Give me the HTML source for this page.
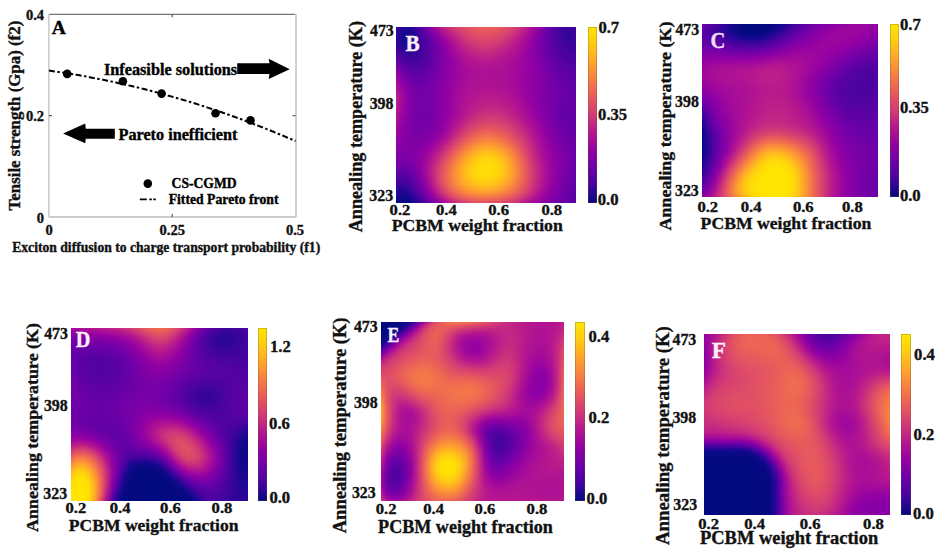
<!DOCTYPE html>
<html><head><meta charset="utf-8"><style>
html,body{margin:0;padding:0;background:#fff;}
body{width:943px;height:556px;position:relative;overflow:hidden;}
.hm{position:absolute;overflow:hidden;}
.hm i{display:block;height:var(--rh);}
.cb{position:absolute;box-shadow:inset 0 0 0 1px rgba(90,90,50,.3);}
svg{position:absolute;left:0;top:0;}
text{font-family:"Liberation Serif",serif;font-weight:bold;stroke-width:0.35px}
</style></head><body>
<div class="hm" style="left:396px;top:27px;width:180px;height:176px;--rh:2px"><i style="background:linear-gradient(90deg,#48039f,#230696,#1d0792,#31059a,#5002a1,#6f00a8,#8f00a4,#ab1095,#c02386,#cd347a,#d64071,#dc496a,#e25164,#e6575e,#e95d5a,#ea5f59,#ea5e59,#e8595d,#e25263,#dc486b,#d33b75,#c52a81,#b6178e,#a1099b,#8a00a5,#7200a7,#5c01a4,#4a03a0,#3b049c,#36049b,#42039e)"></i><i style="background:linear-gradient(90deg,#41039d,#1e0793,#1a0790,#2c0598,#4c02a0,#6800a7,#8700a5,#a20a9a,#b81a8c,#c72c80,#d23a76,#d9446e,#df4d67,#e45461,#e7595d,#e85b5b,#e85a5c,#e55560,#df4d66,#d8436f,#cf3679,#c12585,#b11491,#9d079e,#8600a5,#6f00a8,#5a01a4,#49039f,#3a049c,#34049a,#40039d)"></i><i style="background:linear-gradient(90deg,#3a049c,#1b0791,#17078e,#280597,#48039f,#6301a6,#7f00a6,#9a059f,#b11392,#c12485,#cd347a,#d64071,#dc496a,#e15064,#e55560,#e6575e,#e55660,#e15064,#dc496a,#d53e73,#ca307d,#bd2088,#ad1194,#9904a0,#8300a6,#6d00a8,#5901a3,#48039f,#39049b,#34049a,#3e049d)"></i><i style="background:linear-gradient(90deg,#34049a,#19078f,#16088d,#250697,#45039e,#5e01a4,#7900a7,#9301a3,#aa0f96,#bb1e8a,#c82e7f,#d33b75,#da456d,#df4d67,#e25263,#e35361,#e25163,#de4c67,#d9446e,#d23a76,#c62c80,#b91c8b,#a90e96,#9602a2,#8100a6,#6c00a8,#5802a3,#48039f,#39049b,#34049a,#3d049c)"></i><i style="background:linear-gradient(90deg,#300599,#18078f,#15088d,#240696,#41039d,#5a01a3,#7300a7,#8d00a5,#a30b9a,#b6178e,#c42882,#cf3679,#d74170,#dc496a,#df4e66,#e14f65,#df4d67,#db486b,#d64071,#ce357a,#c32783,#b6178e,#a60c98,#9301a3,#7f00a6,#6a00a8,#5702a3,#48039f,#3a049c,#34049a,#3c049c)"></i><i style="background:linear-gradient(90deg,#2f0599,#18078f,#15088d,#220696,#3e049d,#5602a3,#6f00a8,#8700a5,#9d079d,#b11392,#bf2386,#cb317c,#d43d74,#d9456d,#dd4a69,#de4b68,#dc496a,#d8436e,#d33b75,#ca307d,#bf2386,#b31590,#a30a9a,#9100a4,#7d00a6,#6900a7,#5702a3,#48039f,#3b049c,#35049a,#3c049c)"></i><i style="background:linear-gradient(90deg,#2f0599,#190790,#17078e,#220696,#3c049c,#5302a2,#6b00a8,#8200a6,#9904a0,#ac1095,#bb1e8a,#c72d7f,#d13977,#d74171,#da456d,#db476c,#d9446e,#d53f72,#cf3778,#c62c80,#bc1f89,#b01392,#a0099c,#8f00a4,#7c00a6,#6900a7,#5702a3,#49039f,#3c049c,#36049b,#3d049c)"></i><i style="background:linear-gradient(90deg,#31059a,#1c0792,#18078f,#230696,#3a049c,#5102a1,#6700a7,#7e00a6,#9401a3,#a70d97,#b8198d,#c42882,#cd347a,#d43d74,#d74170,#d8426f,#d64071,#d33b75,#cc327b,#c32783,#b91b8b,#ad1194,#9e079d,#8d00a4,#7b00a6,#6900a7,#5802a3,#4a039f,#3e049d,#38049b,#3e049d)"></i><i style="background:linear-gradient(90deg,#35049a,#1f0694,#1b0791,#240697,#3a049c,#5002a1,#6501a6,#7b00a6,#9000a4,#a30b9a,#b41590,#c02485,#ca307d,#d13877,#d43d74,#d53e73,#d33c75,#cf3679,#c82e7e,#c02486,#b7188e,#aa0f96,#9c069e,#8c00a5,#7a00a6,#6900a7,#5901a3,#4b02a0,#40039d,#3a049c,#3f039d)"></i><i style="background:linear-gradient(90deg,#3a049c,#230696,#1e0793,#260697,#3a049c,#4f02a1,#6301a6,#7800a7,#8d00a5,#a0099c,#b01392,#bd2088,#c62c80,#cd347a,#d13977,#d23a76,#d03778,#cb327c,#c52a81,#bd2088,#b41590,#a80e97,#9a059f,#8b00a5,#7a00a6,#6a00a7,#5a01a3,#4c02a0,#43039e,#3c049c,#41039d)"></i><i style="background:linear-gradient(90deg,#40039d,#290598,#220696,#290598,#3b049c,#4e02a1,#6101a5,#7600a7,#8a00a5,#9d079e,#ad1194,#ba1c8b,#c32783,#c92f7d,#cd347a,#ce3579,#cc337b,#c82d7f,#c22684,#ba1c8b,#b11491,#a60c98,#9905a0,#8b00a5,#7a00a6,#6a00a8,#5b01a4,#4e02a0,#45039e,#3f039d,#43039e)"></i><i style="background:linear-gradient(90deg,#46039f,#2f0599,#270697,#2c0598,#3d049c,#4e02a1,#6101a5,#7400a7,#8800a5,#9a059f,#aa0f96,#b7188d,#c02386,#c62b80,#ca2f7d,#ca317d,#c92e7e,#c42982,#bf2287,#b8198d,#af1293,#a40b99,#9804a0,#8a00a5,#7b00a6,#6b00a8,#5c01a4,#5002a1,#47039f,#42039d,#45039e)"></i><i style="background:linear-gradient(90deg,#4b02a0,#36049b,#2c0598,#300599,#3f039d,#4f02a1,#6001a5,#7300a7,#8600a5,#9804a1,#a70d98,#b41590,#bd1f88,#c32783,#c62b80,#c72c80,#c52a81,#c12584,#bc1e89,#b5168f,#ad1194,#a30a9a,#9703a1,#8a00a5,#7b00a6,#6c00a8,#5e01a4,#5102a1,#49039f,#45039e,#46039f)"></i><i style="background:linear-gradient(90deg,#5102a1,#3e049c,#32059a,#34049a,#42039d,#5002a1,#6001a5,#7300a7,#8500a5,#9602a2,#a40b99,#b11392,#ba1c8b,#bf2386,#c22783,#c32883,#c22684,#be2187,#b91b8b,#b31590,#ab0f95,#a10a9b,#9703a1,#8a00a5,#7c00a6,#6e00a8,#5f01a5,#5302a2,#4b02a0,#47039f,#48039f)"></i><i style="background:linear-gradient(90deg,#5702a3,#45039e,#38049b,#39049b,#45039e,#5102a1,#6101a5,#7200a7,#8400a6,#9401a3,#a20a9a,#ae1293,#b7188d,#bc1f89,#bf2386,#c02486,#bf2287,#bb1e8a,#b7188e,#b01392,#a90e96,#a0099b,#9603a1,#8a00a5,#7d00a6,#6f00a8,#6101a5,#5602a2,#4d02a0,#49039f,#4a039f)"></i><i style="background:linear-gradient(90deg,#5e01a4,#4a03a0,#3f039d,#3e049d,#47039f,#5202a2,#6201a5,#7300a7,#8300a6,#9301a3,#a0099c,#ab1095,#b41590,#b91b8b,#bc1f89,#bd2088,#bc1e89,#b91a8c,#b4168f,#ae1293,#a70d97,#9f089c,#9603a2,#8b00a5,#7e00a6,#7000a8,#6301a6,#5802a3,#4f02a1,#4b02a0,#4c02a0)"></i><i style="background:linear-gradient(90deg,#6401a6,#4f02a1,#45039e,#43039e,#49039f,#5402a2,#6301a6,#7300a7,#8300a6,#9200a4,#9e089d,#a90e96,#b11491,#b7188e,#b91b8b,#ba1c8b,#b91b8c,#b6178e,#b21491,#ac1194,#a60d98,#9f089c,#9602a2,#8b00a5,#7f00a6,#7200a7,#6501a6,#5a01a3,#5102a1,#4d02a0,#4e02a0)"></i><i style="background:linear-gradient(90deg,#6b00a8,#5502a2,#49039f,#47039f,#4c02a0,#5602a3,#6401a6,#7400a7,#8300a6,#9100a4,#9d079d,#a70d97,#af1293,#b41590,#b7188e,#b7198d,#b6188e,#b41590,#b01392,#ab0f95,#a50c99,#9e089d,#9602a2,#8c00a5,#8000a6,#7300a7,#6700a7,#5c01a4,#5402a2,#4f02a1,#4f02a1)"></i><i style="background:linear-gradient(90deg,#7200a7,#5b01a4,#4e02a0,#4b03a0,#4f02a1,#5801a3,#6600a6,#7500a7,#8300a6,#9100a4,#9c069e,#a50c98,#ac1194,#b11491,#b41590,#b5168f,#b41590,#b11491,#ae1193,#a90f96,#a40b99,#9e079d,#9602a2,#8c00a5,#8100a6,#7400a7,#6900a7,#5e01a5,#5602a2,#5102a1,#5102a1)"></i><i style="background:linear-gradient(90deg,#7900a7,#6001a5,#5302a2,#4e02a1,#5102a1,#5a01a4,#6700a7,#7600a7,#8400a6,#9100a4,#9b069e,#a40b99,#ab0f95,#af1293,#b21491,#b21491,#b21491,#af1292,#ac1094,#a80e97,#a30b9a,#9d079d,#9602a2,#8d00a5,#8100a6,#7600a7,#6b00a8,#6001a5,#5801a3,#5402a2,#5302a2)"></i><i style="background:linear-gradient(90deg,#8000a6,#6600a7,#5702a3,#5202a1,#5402a2,#5d01a4,#6900a7,#7700a7,#8400a5,#9100a4,#9b059f,#a30b9a,#a90e96,#ad1194,#b01392,#b01392,#b01392,#ae1193,#ab1095,#a70d97,#a20a9a,#9d079e,#9602a2,#8d00a5,#8200a6,#7700a7,#6c00a8,#6201a6,#5a01a4,#5602a2,#5502a2)"></i><i style="background:linear-gradient(90deg,#8700a5,#6c00a8,#5c01a4,#5602a2,#5702a3,#5f01a5,#6b00a8,#7800a7,#8500a5,#9100a4,#9a059f,#a20a9a,#a80e97,#ac1095,#ae1293,#af1293,#ae1293,#ac1194,#aa0f96,#a60d98,#a20a9a,#9d079e,#9602a2,#8d00a4,#8300a6,#7800a7,#6e00a8,#6401a6,#5c01a4,#5802a3,#5702a3)"></i><i style="background:linear-gradient(90deg,#8e00a4,#7200a7,#6101a5,#5a01a3,#5b01a4,#6201a5,#6d00a8,#7900a7,#8600a5,#9100a4,#9a059f,#a20a9b,#a70d97,#ab1095,#ad1194,#ad1194,#ad1194,#ac1095,#a90f96,#a60c98,#a20a9b,#9c079e,#9602a2,#8d00a4,#8400a6,#7900a7,#6f00a8,#6600a6,#5e01a5,#5a01a3,#5901a3)"></i><i style="background:linear-gradient(90deg,#9401a3,#7700a7,#6500a6,#5d01a4,#5e01a4,#6401a6,#6e00a8,#7a00a6,#8600a5,#9200a4,#9a059f,#a20a9b,#a70d97,#aa0f95,#ac1094,#ad1194,#ac1194,#ab1095,#a90e96,#a60c98,#a10a9b,#9c069e,#9602a2,#8e00a4,#8400a5,#7a00a7,#7000a8,#6700a7,#6001a5,#5c01a4,#5a01a4)"></i><i style="background:linear-gradient(90deg,#9a059f,#7d00a6,#6a00a8,#6101a5,#6101a5,#6600a7,#7000a8,#7b00a6,#8700a5,#9200a4,#9b069f,#a20a9a,#a70d97,#aa0f95,#ac1094,#ac1194,#ac1094,#ab1095,#a90e96,#a60c98,#a10a9b,#9c069e,#9602a2,#8e00a4,#8400a5,#7b00a6,#7100a7,#6900a7,#6201a5,#5d01a4,#5c01a4)"></i><i style="background:linear-gradient(90deg,#9f089c,#8200a6,#6f00a8,#6501a6,#6301a6,#6800a7,#7100a7,#7c00a6,#8800a5,#9300a4,#9b069e,#a20a9a,#a70d97,#aa0f95,#ac1094,#ac1194,#ac1094,#ab1095,#a90e96,#a60c98,#a20a9b,#9c069e,#9502a2,#8d00a4,#8400a5,#7b00a6,#7200a7,#6a00a8,#6401a6,#5f01a5,#5d01a4)"></i><i style="background:linear-gradient(90deg,#a50c99,#8700a5,#7300a7,#6800a7,#6600a7,#6a00a8,#7300a7,#7d00a6,#8900a5,#9301a3,#9c069e,#a30b9a,#a80e97,#ab1095,#ac1194,#ad1194,#ad1194,#ac1095,#a90f96,#a60d98,#a20a9b,#9c069e,#9502a2,#8d00a4,#8500a5,#7c00a6,#7300a7,#6b00a8,#6501a6,#6101a5,#5f01a5)"></i><i style="background:linear-gradient(90deg,#a90f96,#8b00a5,#7700a7,#6c00a8,#6900a7,#6c00a8,#7400a7,#7e00a6,#8900a5,#9401a3,#9d079e,#a40b99,#a90e96,#ac1095,#ad1194,#ae1193,#ad1194,#ac1194,#aa0f95,#a70d98,#a20a9a,#9c069e,#9502a2,#8d00a4,#8500a5,#7c00a6,#7400a7,#6c00a8,#6600a7,#6201a5,#6001a5)"></i><i style="background:linear-gradient(90deg,#ae1293,#9000a4,#7a00a6,#6f00a8,#6b00a8,#6e00a8,#7500a7,#7f00a6,#8a00a5,#9502a2,#9e079d,#a50c99,#aa0f96,#ad1194,#ae1293,#af1293,#ae1293,#ad1194,#ab1095,#a80e97,#a30a9a,#9c069e,#9502a2,#8d00a5,#8500a5,#7c00a6,#7400a7,#6d00a8,#6700a7,#6301a6,#6101a5)"></i><i style="background:linear-gradient(90deg,#b21491,#9301a3,#7e00a6,#7200a7,#6d00a8,#7000a8,#7600a7,#8000a6,#8b00a5,#9502a2,#9e089d,#a60c98,#ab1095,#ae1293,#af1292,#b01392,#af1392,#ae1293,#ac1094,#a80e97,#a30b9a,#9d079e,#9502a2,#8d00a5,#8500a5,#7c00a6,#7500a7,#6e00a8,#6800a7,#6401a6,#6201a5)"></i><i style="background:linear-gradient(90deg,#b5168f,#9703a1,#8100a6,#7400a7,#6f00a8,#7100a7,#7700a7,#8000a6,#8b00a5,#9602a2,#9f089c,#a70d98,#ac1094,#af1292,#b11392,#b11491,#b11391,#b01392,#ad1194,#aa0f96,#a40b99,#9d079d,#9502a2,#8d00a5,#8500a5,#7c00a6,#7500a7,#6e00a8,#6900a7,#6501a6,#6301a6)"></i><i style="background:linear-gradient(90deg,#b81a8d,#9905a0,#8300a6,#7600a7,#7100a7,#7200a7,#7800a7,#8100a6,#8c00a5,#9603a1,#a0099c,#a80e97,#ad1194,#b01392,#b21491,#b31490,#b21491,#b11491,#af1293,#ab1095,#a50c99,#9e079d,#9602a2,#8d00a5,#8500a5,#7c00a6,#7500a7,#6f00a8,#6900a7,#6600a6,#6301a6)"></i><i style="background:linear-gradient(90deg,#ba1c8b,#9c069e,#8500a5,#7800a7,#7200a7,#7300a7,#7800a7,#8100a6,#8c00a5,#9703a1,#a0099b,#a80e97,#ae1293,#b21491,#b41590,#b4158f,#b41590,#b31590,#b01392,#ac1094,#a60c98,#9e089d,#9603a2,#8d00a4,#8500a5,#7d00a6,#7500a7,#6f00a8,#6a00a7,#6600a6,#6401a6)"></i><i style="background:linear-gradient(90deg,#bc1e89,#9d079d,#8700a5,#7900a7,#7300a7,#7400a7,#7900a7,#8200a6,#8c00a5,#9703a1,#a1099b,#a90f96,#af1293,#b31590,#b5168f,#b6178e,#b6178e,#b5168f,#b21491,#ad1194,#a70d97,#9f089c,#9703a1,#8e00a4,#8500a5,#7d00a6,#7500a7,#6f00a8,#6a00a7,#6600a7,#6401a6)"></i><i style="background:linear-gradient(90deg,#bd1f88,#9f089c,#8800a5,#7a00a7,#7400a7,#7400a7,#7900a7,#8200a6,#8c00a5,#9703a1,#a1099b,#aa0f96,#b01392,#b41590,#b6188e,#b7198d,#b7198d,#b6178e,#b41590,#af1293,#a80e97,#a0099c,#9703a1,#8e00a4,#8500a5,#7d00a6,#7500a7,#6f00a8,#6a00a7,#6600a7,#6401a6)"></i><i style="background:linear-gradient(90deg,#bd2088,#9f089c,#8900a5,#7b00a6,#7400a7,#7400a7,#7900a7,#8200a6,#8c00a5,#9703a1,#a10a9b,#aa0f96,#b11392,#b5168f,#b7198d,#b91a8c,#b91b8c,#b8198d,#b5168f,#b11392,#aa0f96,#a10a9b,#9804a0,#8f00a4,#8500a5,#7d00a6,#7500a7,#6f00a8,#6900a7,#6600a6,#6401a6)"></i><i style="background:linear-gradient(90deg,#bd2088,#a0099c,#8900a5,#7b00a6,#7400a7,#7400a7,#7900a7,#8200a6,#8c00a5,#9703a1,#a10a9b,#aa0f95,#b21491,#b6188e,#b91b8c,#ba1c8b,#ba1d8a,#b91b8b,#b7188d,#b21491,#ab1095,#a30a9a,#9905a0,#9000a4,#8600a5,#7d00a6,#7500a7,#6e00a8,#6900a7,#6600a6,#6501a6)"></i><i style="background:linear-gradient(90deg,#bd2088,#a0099c,#8900a5,#7b00a6,#7400a7,#7400a7,#7900a7,#8100a6,#8c00a5,#9703a1,#a10a9b,#ab1095,#b21491,#b7198d,#ba1d8a,#bc1f89,#bc1f89,#bb1e8a,#b91b8c,#b41590,#ad1194,#a40b99,#9a059f,#9100a4,#8600a5,#7d00a6,#7500a7,#6e00a8,#6900a7,#6501a6,#6401a6)"></i><i style="background:linear-gradient(90deg,#bd2088,#9f089c,#8900a5,#7b00a6,#7400a7,#7400a7,#7900a7,#8100a6,#8c00a5,#9703a1,#a20a9b,#ab1095,#b31590,#b81a8c,#bc1e89,#be2187,#be2187,#bd2088,#ba1d8a,#b6178e,#af1293,#a60c98,#9c069e,#9200a4,#8700a5,#7d00a6,#7500a7,#6e00a8,#6800a7,#6501a6,#6401a6)"></i><i style="background:linear-gradient(90deg,#bc1e89,#9e089d,#8900a5,#7a00a6,#7400a7,#7400a7,#7900a7,#8100a6,#8c00a5,#9703a1,#a20a9a,#ac1094,#b4168f,#ba1c8b,#be2188,#c02386,#c02485,#bf2386,#bc1f89,#b8198d,#b11392,#a70d97,#9d079d,#9301a3,#8800a5,#7e00a6,#7500a7,#6d00a8,#6700a7,#6401a6,#6401a6)"></i><i style="background:linear-gradient(90deg,#bb1d8a,#9e079d,#8800a5,#7a00a7,#7400a7,#7400a7,#7900a7,#8100a6,#8c00a5,#9703a1,#a20a9a,#ad1194,#b6178e,#bb1e89,#c02386,#c22684,#c32783,#c22684,#bf2287,#ba1c8b,#b31590,#a90f96,#9f089c,#9401a3,#8900a5,#7e00a6,#7500a7,#6d00a8,#6700a7,#6401a6,#6401a6)"></i><i style="background:linear-gradient(90deg,#b91b8b,#9c079e,#8700a5,#7a00a7,#7300a7,#7300a7,#7800a7,#8100a6,#8c00a5,#9803a1,#a30b9a,#ae1293,#b7188d,#bd2088,#c22684,#c52982,#c52a81,#c42982,#c12585,#bc1f89,#b5168f,#ab1095,#a1099b,#9602a2,#8a00a5,#7f00a6,#7500a7,#6d00a8,#6700a7,#6401a6,#6401a6)"></i><i style="background:linear-gradient(90deg,#b8198d,#9b069e,#8600a5,#7900a7,#7300a7,#7300a7,#7800a7,#8100a6,#8c00a5,#9804a0,#a40b99,#af1292,#b91a8c,#bf2386,#c42982,#c72d7f,#c82e7e,#c72c80,#c32883,#be2187,#b7198d,#ae1193,#a30b9a,#9703a1,#8b00a5,#8000a6,#7500a7,#6d00a8,#6600a7,#6301a6,#6401a6)"></i><i style="background:linear-gradient(90deg,#b6178e,#9a059f,#8600a5,#7900a7,#7300a7,#7300a7,#7800a7,#8100a6,#8c00a5,#9904a0,#a50c99,#b11491,#bb1d8a,#c22684,#c72d7f,#cb317c,#cb327c,#ca307d,#c62b80,#c12485,#b91b8b,#b01392,#a50c99,#9904a0,#8d00a5,#8100a6,#7600a7,#6d00a8,#6600a7,#6301a6,#6401a6)"></i><i style="background:linear-gradient(90deg,#b41590,#9904a0,#8500a5,#7800a7,#7300a7,#7300a7,#7800a7,#8100a6,#8d00a5,#9a059f,#a70d98,#b31590,#bd2088,#c52a81,#cb317c,#ce3579,#cf3679,#cd347a,#c92f7e,#c32883,#bc1e89,#b31590,#a70d97,#9b069f,#8e00a4,#8200a6,#7600a7,#6d00a8,#6600a7,#6301a6,#6401a6)"></i><i style="background:linear-gradient(90deg,#b11491,#9703a1,#8400a5,#7800a7,#7300a7,#7300a7,#7800a7,#8200a6,#8e00a4,#9b069f,#a90e96,#b6178e,#c02386,#c82e7f,#ce3579,#d23a76,#d23b76,#d13877,#cc337b,#c62b80,#be2287,#b5168f,#a90f96,#9d079d,#9000a4,#8300a6,#7700a7,#6e00a8,#6700a7,#6301a6,#6401a6)"></i><i style="background:linear-gradient(90deg,#af1293,#9603a2,#8400a6,#7800a7,#7300a7,#7400a7,#7900a7,#8200a6,#8f00a4,#9c079e,#ab1095,#b81a8c,#c32783,#cc327b,#d23a76,#d53e72,#d53f72,#d43d74,#d03778,#c92f7e,#c12585,#b8198d,#ac1094,#9f089c,#9200a4,#8500a5,#7800a7,#6f00a8,#6700a7,#6401a6,#6501a6)"></i><i style="background:linear-gradient(90deg,#ac1094,#9502a2,#8300a6,#7800a7,#7300a7,#7400a7,#7900a7,#8300a6,#9000a4,#9e089d,#ae1193,#bb1e8a,#c62c80,#d03778,#d53f72,#d8436e,#d9446e,#d74170,#d33b75,#cc337b,#c42882,#ba1c8b,#af1293,#a10a9b,#9401a3,#8600a5,#7a00a7,#6f00a8,#6800a7,#6401a6,#6501a6)"></i><i style="background:linear-gradient(90deg,#aa0f96,#9401a3,#8300a6,#7800a7,#7400a7,#7500a7,#7a00a6,#8400a5,#9200a4,#a1099b,#b11392,#be2287,#ca307d,#d43c74,#d9446e,#dc496a,#dc496a,#da466c,#d64071,#d03778,#c72c80,#bd2088,#b11491,#a40b99,#9602a2,#8800a5,#7b00a6,#7100a8,#6900a7,#6501a6,#6501a6)"></i><i style="background:linear-gradient(90deg,#a70d97,#9200a4,#8200a6,#7900a7,#7500a7,#7600a7,#7b00a6,#8600a5,#9401a3,#a30b9a,#b41590,#c22684,#cf3679,#d74270,#dd4a69,#e04e66,#e04e65,#de4b68,#d9446e,#d33c75,#ca307d,#c02386,#b41590,#a60d98,#9804a1,#8a00a5,#7d00a6,#7200a7,#6a00a7,#6500a6,#6600a6)"></i><i style="background:linear-gradient(90deg,#a40b99,#9100a4,#8200a6,#7900a7,#7500a7,#7700a7,#7d00a6,#8700a5,#9602a2,#a60d98,#b8198d,#c62b80,#d33b75,#db476b,#e15064,#e45461,#e45461,#e15064,#dd496a,#d64071,#cd347a,#c22783,#b7188e,#a80e97,#9a059f,#8c00a5,#7e00a6,#7300a7,#6b00a8,#6600a7,#6600a7)"></i><i style="background:linear-gradient(90deg,#a20a9b,#9000a4,#8200a6,#7a00a7,#7600a7,#7800a7,#7f00a6,#8a00a5,#9804a0,#aa0f96,#bb1e8a,#ca317d,#d74171,#df4d66,#e5565f,#e85b5c,#e85b5c,#e5565f,#e04f65,#d9446d,#d13977,#c52a81,#b91b8c,#ab1095,#9c069e,#8e00a4,#8000a6,#7500a7,#6c00a8,#6700a7,#6700a7)"></i><i style="background:linear-gradient(90deg,#9f089c,#8e00a4,#8200a6,#7a00a6,#7800a7,#7a00a7,#8100a6,#8c00a5,#9c069e,#ae1193,#bf2386,#cf3679,#db476c,#e45461,#e95d5a,#eb6256,#eb6257,#e95c5a,#e45461,#dd496a,#d43d74,#c82e7e,#bc1e89,#ad1194,#9e089d,#9000a4,#8200a6,#7600a7,#6d00a8,#6800a7,#6700a7)"></i><i style="background:linear-gradient(90deg,#9c079e,#8d00a5,#8200a6,#7b00a6,#7900a7,#7c00a6,#8300a6,#8f00a4,#9f089c,#b21491,#c32883,#d43c74,#df4d67,#e85a5c,#ec6555,#ee6a51,#ee6a52,#ec6456,#e85a5c,#e04e65,#d74170,#cc327c,#be2187,#b01392,#a0099c,#9100a4,#8300a6,#7800a7,#6f00a8,#6900a7,#6700a7)"></i><i style="background:linear-gradient(90deg,#9a059f,#8c00a5,#8200a6,#7c00a6,#7b00a6,#7e00a6,#8600a5,#9301a3,#a30b9a,#b7188e,#c82e7e,#d8426f,#e35361,#eb6257,#ef6d4f,#f2734c,#f1724c,#ef6b50,#eb6157,#e45461,#da466c,#cf3679,#c12585,#b21491,#a20a9a,#9301a3,#8500a5,#7900a7,#7000a8,#6a00a8,#6800a7)"></i><i style="background:linear-gradient(90deg,#9804a0,#8b00a5,#8200a6,#7d00a6,#7c00a6,#8100a6,#8900a5,#9703a1,#a80e97,#bb1d8a,#cd347a,#dc496a,#e85a5c,#ee6a51,#f3764a,#f57b46,#f47a47,#f2734b,#ed6853,#e85a5c,#dd4b69,#d23a76,#c32883,#b5168f,#a40b99,#9502a2,#8700a5,#7b00a6,#7100a7,#6b00a8,#6800a7)"></i><i style="background:linear-gradient(90deg,#9602a2,#8a00a5,#8200a6,#7e00a6,#7e00a6,#8300a6,#8d00a5,#9b069f,#ad1194,#c02386,#d33b75,#e14f65,#eb6256,#f2734b,#f67f44,#f88440,#f78341,#f57c46,#f0704e,#ea6058,#e14f65,#d53e73,#c62b80,#b7188d,#a60d98,#9703a1,#8900a5,#7c00a6,#7300a7,#6c00a8,#6800a7)"></i><i style="background:linear-gradient(90deg,#9401a3,#8900a5,#8100a6,#7f00a6,#8000a6,#8700a5,#9100a4,#a0099c,#b21491,#c52a81,#d74170,#e5565f,#ee6b51,#f57c46,#f9883e,#fa8e3a,#fa8d3b,#f88540,#f37848,#ed6753,#e45460,#d8426f,#c92e7e,#b91b8c,#a80e97,#9804a0,#8a00a5,#7e00a6,#7400a7,#6d00a8,#6900a7)"></i><i style="background:linear-gradient(90deg,#9200a4,#8700a5,#8100a6,#8000a6,#8200a6,#8a00a5,#9502a2,#a50c99,#b8198d,#ca317c,#db486b,#e95e5a,#f2734b,#f88540,#fb9238,#fc9834,#fc9635,#fa8e3a,#f68043,#f06e4f,#e85a5c,#da466c,#cb327c,#bb1d8a,#aa0f96,#9a059f,#8c00a5,#7f00a6,#7500a7,#6e00a8,#6900a7)"></i><i style="background:linear-gradient(90deg,#9000a4,#8600a5,#8100a6,#8000a6,#8500a5,#8d00a5,#9a059f,#aa0f96,#bd2088,#d03878,#e04e65,#ed6654,#f57c46,#fa8e3a,#fd9b31,#fea12e,#fea02f,#fc9734,#f9883e,#f2754a,#ea5f58,#dd4a69,#ce357a,#bd1f88,#ac1095,#9c069e,#8d00a4,#8100a6,#7700a7,#6f00a8,#6900a7)"></i><i style="background:linear-gradient(90deg,#8e00a4,#8500a5,#8100a6,#8100a6,#8700a5,#9100a4,#9e089d,#af1292,#c22684,#d53e73,#e55560,#f06e4f,#f88440,#fc9734,#ffa52c,#ffab28,#ffa929,#fea02f,#fb9038,#f57c45,#ec6555,#e04e66,#d03877,#be2287,#ad1194,#9d079d,#8f00a4,#8200a6,#7800a7,#7000a8,#6900a7)"></i><i style="background:linear-gradient(90deg,#8b00a5,#8300a6,#8000a6,#8200a6,#8900a5,#9401a3,#a20a9a,#b5168f,#c72c7f,#d9446d,#e95c5b,#f3754a,#fa8d3b,#fea02e,#ffae26,#ffb522,#ffb323,#ffa929,#fd9833,#f78341,#ee6a51,#e25263,#d33b75,#c02485,#af1293,#9e089d,#9000a4,#8400a6,#7900a7,#7000a8,#6900a7)"></i><i style="background:linear-gradient(90deg,#8900a5,#8100a6,#7f00a6,#8200a6,#8a00a5,#9703a1,#a70d98,#b91b8b,#cc337b,#dd4b68,#ec6356,#f67d45,#fc9535,#ffa929,#ffb720,#ffbe1c,#ffbb1d,#ffb124,#fea02f,#f98a3d,#f0704d,#e55560,#d53e73,#c22684,#b11392,#a0099c,#9200a4,#8500a5,#7a00a7,#7100a7,#6900a7)"></i><i style="background:linear-gradient(90deg,#8700a5,#7f00a6,#7e00a6,#8200a6,#8c00a5,#9a059f,#ab0f95,#be2188,#d13977,#e25164,#ee6b51,#f88540,#fe9d30,#ffb124,#ffbf1b,#ffc616,#ffc318,#ffb91f,#ffa72a,#fb9039,#f2754a,#e7595d,#d64071,#c42882,#b21491,#a10a9b,#9301a4,#8600a5,#7b00a6,#7100a7,#6900a7)"></i><i style="background:linear-gradient(90deg,#8400a6,#7d00a6,#7c00a6,#8200a6,#8d00a5,#9c069e,#af1293,#c22684,#d53f72,#e6575f,#f1714c,#fa8c3b,#ffa42c,#ffb91f,#ffc715,#ffcd11,#ffcb12,#ffc01a,#ffae26,#fc9635,#f47947,#e95c5a,#d8436f,#c52a81,#b41590,#a20a9a,#9401a3,#8700a5,#7c00a6,#7200a7,#6900a7)"></i><i style="background:linear-gradient(90deg,#8100a6,#7a00a7,#7b00a6,#8100a6,#8e00a4,#9e089d,#b21491,#c62b81,#d9446e,#e95c5a,#f47848,#fb9337,#ffac27,#ffc01a,#ffcd11,#ffd20e,#ffd00f,#ffc615,#ffb422,#fd9b32,#f67e44,#ea6058,#da456d,#c72c7f,#b5168f,#a40b99,#9502a2,#8800a5,#7c00a6,#7200a7,#6800a7)"></i><i style="background:linear-gradient(90deg,#7d00a6,#7700a7,#7800a7,#8000a6,#8e00a4,#a0099c,#b5168f,#c92f7e,#dc486a,#eb6257,#f67e44,#fd9933,#ffb224,#ffc616,#ffd10e,#ffd60b,#ffd40c,#ffcb12,#ffb91f,#fe9f2f,#f78242,#eb6356,#db476b,#c92e7e,#b7188e,#a50c99,#9602a2,#8800a5,#7d00a6,#7200a7,#6800a7)"></i><i style="background:linear-gradient(90deg,#7a00a7,#7300a7,#7600a7,#7f00a6,#8e00a4,#a20a9b,#b8198d,#cd337b,#df4d67,#ed6753,#f78341,#fe9e30,#ffb720,#ffcb12,#ffd50b,#ffda08,#ffd70a,#ffcf10,#ffbd1c,#ffa32c,#f88540,#ed6654,#dc496a,#ca307d,#b8198d,#a60c98,#9703a1,#8900a5,#7d00a6,#7200a7,#6700a7)"></i><i style="background:linear-gradient(90deg,#7500a7,#7000a8,#7300a7,#7d00a6,#8e00a4,#a30a9a,#ba1c8b,#cf3778,#e15064,#ef6c50,#f9883e,#ffa32d,#ffbc1d,#ffce10,#ffd809,#ffdc07,#ffda08,#ffd10e,#ffc01a,#ffa62b,#f9883e,#ed6853,#de4b68,#cb327c,#b91b8c,#a70d97,#9703a1,#8900a5,#7d00a6,#7200a7,#6700a7)"></i><i style="background:linear-gradient(90deg,#7100a7,#6c00a8,#6f00a8,#7b00a6,#8d00a4,#a30b9a,#bb1e8a,#d23a76,#e45461,#f0704e,#fa8c3b,#ffa72a,#ffbf1b,#ffd00e,#ffda08,#ffdd06,#ffdb07,#ffd30d,#ffc318,#ffa929,#f98a3d,#ee6a51,#df4d67,#cd337b,#ba1c8b,#a80e97,#9804a1,#8a00a5,#7d00a6,#7100a7,#6600a6)"></i><i style="background:linear-gradient(90deg,#6d00a8,#6700a7,#6c00a8,#7800a7,#8c00a5,#a30b9a,#bc1f89,#d33c74,#e5565f,#f2734b,#fb8f39,#ffaa28,#ffc219,#ffd20d,#ffdb07,#ffde05,#ffdc07,#ffd40c,#ffc417,#ffaa28,#f98b3c,#ef6b51,#e04e66,#ce347a,#bb1d8a,#a80e97,#9804a0,#8a00a5,#7c00a6,#7100a8,#6501a6)"></i><i style="background:linear-gradient(90deg,#6800a7,#6201a6,#6800a7,#7600a7,#8a00a5,#a30b9a,#bd2088,#d43e73,#e7585d,#f3764a,#fb9237,#ffac27,#ffc318,#ffd30d,#ffdb07,#ffde05,#ffdc07,#ffd40c,#ffc417,#ffab28,#fa8c3b,#ef6c50,#e04f65,#ce3579,#bb1e8a,#a90e96,#9804a0,#8900a5,#7c00a6,#7000a8,#6401a6)"></i><i style="background:linear-gradient(90deg,#6301a6,#5d01a4,#6301a6,#7200a7,#8800a5,#a20a9a,#bd2088,#d53f72,#e85a5c,#f37748,#fc9436,#ffae26,#ffc417,#ffd30d,#ffdb07,#ffde05,#ffdb07,#ffd30c,#ffc417,#ffaa28,#fa8c3b,#ef6d50,#e14f65,#cf3679,#bc1e89,#a90f96,#9804a0,#8900a5,#7c00a6,#6f00a8,#6401a6)"></i><i style="background:linear-gradient(90deg,#5e01a4,#5801a3,#5f01a5,#6f00a8,#8600a5,#a10a9b,#bd2088,#d53f72,#e85b5b,#f47848,#fc9436,#ffae26,#ffc417,#ffd20d,#ffda08,#ffdc06,#ffda08,#ffd20d,#ffc219,#ffa929,#fa8c3b,#ef6c50,#e14f65,#cf3678,#bc1f89,#a90f96,#9804a0,#8900a5,#7b00a6,#6e00a8,#6301a6)"></i><i style="background:linear-gradient(90deg,#5901a3,#5302a2,#5a01a3,#6b00a8,#8300a6,#a0099c,#bc1f89,#d53f72,#e85b5b,#f47848,#fc9436,#ffad26,#ffc218,#ffd00e,#ffd809,#ffdb08,#ffd809,#ffd00f,#ffbf1a,#ffa72a,#f98a3c,#ef6c50,#e14f65,#cf3678,#bc1f89,#a90f96,#9804a0,#8800a5,#7a00a7,#6e00a8,#6201a6)"></i><i style="background:linear-gradient(90deg,#5402a2,#4e02a0,#5502a2,#6700a7,#8000a6,#9d079d,#bb1e8a,#d53e73,#e85a5c,#f47848,#fb9337,#ffab28,#ffc01a,#ffce10,#ffd50b,#ffd80a,#ffd50c,#ffcc11,#ffbc1d,#ffa42c,#f9883e,#ee6a51,#e04e65,#cf3679,#bc1e89,#a90e96,#9703a1,#8700a5,#7900a7,#6d00a8,#6101a5)"></i><i style="background:linear-gradient(90deg,#4e02a1,#49039f,#5002a1,#6301a6,#7d00a6,#9b069f,#b91c8b,#d43d74,#e7595d,#f37649,#fb9138,#ffa929,#ffbc1d,#ffca12,#ffd10e,#ffd30c,#ffd00e,#ffc814,#ffb720,#fea02e,#f88540,#ee6852,#df4d66,#ce3579,#bb1d8a,#a80e97,#9703a1,#8600a5,#7800a7,#6c00a8,#6001a5)"></i><i style="background:linear-gradient(90deg,#4a039f,#43039e,#4b02a0,#5e01a5,#7900a7,#9804a1,#b7198d,#d23a76,#e6575f,#f2734b,#fa8e3a,#ffa42c,#ffb820,#ffc516,#ffcd11,#ffce10,#ffcb12,#ffc219,#ffb224,#fd9c31,#f78142,#ec6654,#de4c68,#cd347a,#ba1c8b,#a70d97,#9502a2,#8500a5,#7700a7,#6a00a8,#6001a5)"></i><i style="background:linear-gradient(90deg,#45039e,#3b049c,#46039f,#5901a3,#7400a7,#9401a3,#b4168f,#d03778,#e45461,#f0704e,#f9893d,#fe9f2f,#ffb224,#ffbe1b,#ffc616,#ffc814,#ffc417,#ffba1e,#ffab28,#fc9635,#f57d45,#eb6257,#dc496a,#cb327c,#b91b8c,#a60c98,#9401a3,#8400a5,#7500a7,#6900a7,#5f01a5)"></i><i style="background:linear-gradient(90deg,#3e049c,#32059a,#3f039d,#5402a2,#7000a8,#9000a4,#b01392,#cc337b,#e15064,#ef6b51,#f78440,#fd9933,#ffaa28,#ffb721,#ffbd1c,#ffbf1b,#ffbb1e,#ffb224,#ffa32d,#fb8f39,#f37748,#ea5e59,#da466c,#c92f7e,#b7198d,#a40b99,#9300a4,#8200a6,#7400a7,#6800a7,#5e01a5)"></i><i style="background:linear-gradient(90deg,#36049b,#2b0598,#37049b,#4f02a1,#6b00a8,#8b00a5,#ab1095,#c82e7f,#de4b68,#ec6555,#f67d45,#fb9238,#ffa22d,#ffad26,#ffb423,#ffb522,#ffb124,#ffa829,#fd9a32,#f9883e,#f1714c,#e7595d,#d8436f,#c72c80,#b5168f,#a20a9a,#9100a4,#8000a6,#7300a7,#6700a7,#5e01a4)"></i><i style="background:linear-gradient(90deg,#2f0599,#230696,#2f0599,#4a03a0,#6501a6,#8500a5,#a60c98,#c32783,#da456d,#e95e5a,#f3754a,#f9893d,#fd9833,#ffa32d,#ffa829,#ffaa29,#ffa62b,#fe9e30,#fb9138,#f67f43,#ee6a51,#e45461,#d53f72,#c42882,#b21491,#9f089c,#8e00a4,#7e00a6,#7100a7,#6600a6,#5d01a4)"></i><i style="background:linear-gradient(90deg,#290598,#1d0792,#270697,#45039e,#5f01a5,#7f00a6,#9f089c,#bd2088,#d53e73,#e5565f,#ef6c50,#f67f43,#fa8d3a,#fc9734,#fd9c31,#fe9d30,#fd9a32,#fb9237,#f8863f,#f37649,#eb6356,#e04e66,#d23a76,#c02486,#ae1293,#9c069e,#8c00a5,#7c00a6,#6f00a8,#6501a6,#5d01a4)"></i><i style="background:linear-gradient(90deg,#230696,#17078e,#200694,#3c049c,#5901a3,#7800a7,#9804a0,#b7188e,#cf3679,#df4d66,#eb6257,#f2744b,#f78142,#f98b3c,#fb8f39,#fb9039,#fa8d3b,#f8863f,#f57b46,#ef6c50,#e85a5c,#db476b,#cd337b,#bc1e89,#aa0f96,#9904a0,#8900a5,#7a00a7,#6e00a8,#6401a6,#5c01a4)"></i><i style="background:linear-gradient(90deg,#1f0694,#11088a,#190790,#33049a,#5302a2,#7100a8,#9000a4,#ae1293,#c62c80,#d9446e,#e6575e,#ed6853,#f2754a,#f57d45,#f78142,#f78142,#f67e44,#f47848,#f06f4e,#eb6157,#e25163,#d64071,#c72c80,#b7188d,#a50c98,#9502a2,#8500a5,#7700a7,#6c00a8,#6201a6,#5c01a4)"></i><i style="background:linear-gradient(90deg,#1b0791,#0d0987,#13088b,#2a0598,#4c02a0,#6800a7,#8700a5,#a40b99,#bd2088,#d13977,#de4c68,#e85b5c,#ed6754,#f06e4f,#f1724c,#f1724c,#f1704d,#ee6b51,#eb6257,#e5565f,#db486b,#d03778,#c02485,#b11392,#a0099c,#9000a4,#8100a6,#7500a7,#6a00a7,#6101a5,#5c01a4)"></i><i style="background:linear-gradient(90deg,#18078f,#090984,#0d0987,#210695,#44039e,#5f01a5,#7c00a6,#9904a0,#b31490,#c62b80,#d53f72,#df4d66,#e6585e,#ea5e59,#eb6257,#eb6257,#ea6058,#e95c5b,#e45460,#dd4a69,#d43d73,#c72d7f,#b91b8b,#a90f96,#9a059f,#8b00a5,#7d00a6,#7200a7,#6800a7,#6001a5,#5c01a4)"></i><i style="background:linear-gradient(90deg,#16088e,#050a82,#070983,#19078f,#38049b,#5502a2,#7100a8,#8c00a5,#a50c99,#ba1c8b,#ca307d,#d53f72,#dc496a,#e04f65,#e25263,#e35262,#e25164,#df4d66,#db476b,#d53e73,#cb317c,#be2187,#b01392,#a1099b,#9300a4,#8500a5,#7900a7,#6e00a8,#6600a6,#6001a5,#5c01a4)"></i></div>
<div class="cb" style="left:588px;top:27px;width:9px;height:176px;background:linear-gradient(180deg,#ffe500,#ffcb12,#ffa42c,#f67e44,#e85a5c,#d23a76,#b5168f,#9200a4,#6c00a8,#44039e,#030a80)"></div>
<div class="hm" style="left:702px;top:24px;width:176px;height:173px;--rh:2px"><i style="background:linear-gradient(90deg,#6900a7,#5c01a4,#4e02a1,#40039d,#2b0598,#190790,#0c0986,#030a80,#030a80,#030a80,#030a80,#030a80,#0a0985,#14088c,#230696,#3a049c,#4e02a0,#5e01a4,#6d00a8,#7900a7,#8100a6,#8800a5,#8e00a4,#9301a3,#9703a1,#9905a0,#9a059f,#9a059f,#9703a1,#9100a4)"></i><i style="background:linear-gradient(90deg,#6401a6,#5802a3,#4b03a0,#3a049c,#260697,#15088d,#080983,#030a80,#030a80,#030a80,#030a80,#030a80,#0c0986,#1a0790,#2d0599,#44039e,#5402a2,#6401a6,#7200a7,#7d00a6,#8600a5,#8d00a5,#9200a4,#9603a1,#9905a0,#9b069f,#9b069e,#9905a0,#9602a2,#8f00a4)"></i><i style="background:linear-gradient(90deg,#6101a5,#5502a2,#48039f,#37049b,#240696,#14088c,#070a83,#030a80,#030a80,#030a80,#030a80,#030a80,#10088a,#210696,#37049b,#4b02a0,#5b01a4,#6a00a7,#7700a7,#8200a6,#8a00a5,#9000a4,#9502a2,#9904a0,#9b069e,#9c069e,#9b069e,#9904a0,#9401a3,#8d00a5)"></i><i style="background:linear-gradient(90deg,#5f01a5,#5302a2,#48039f,#37049b,#240697,#15088d,#080984,#030a80,#030a80,#030a80,#030a80,#080984,#17078e,#2b0598,#42039e,#5202a1,#6101a5,#6f00a8,#7b00a6,#8500a5,#8d00a4,#9301a3,#9804a1,#9b059f,#9c069e,#9c069e,#9b059f,#9703a1,#9200a4,#8a00a5)"></i><i style="background:linear-gradient(90deg,#5e01a4,#5302a2,#49039f,#39049c,#280597,#19078f,#0d0987,#040a81,#030a80,#030a80,#050a81,#0f0889,#200694,#36049b,#4a03a0,#5901a3,#6700a7,#7400a7,#8000a6,#8900a5,#9100a4,#9602a2,#9a059f,#9c069e,#9d079e,#9c069e,#9905a0,#9602a2,#9000a4,#8800a5)"></i><i style="background:linear-gradient(90deg,#5e01a4,#5502a2,#4b03a0,#3e049d,#2e0599,#1f0694,#13088c,#0b0986,#070983,#070983,#0d0987,#18078f,#2a0598,#41039d,#5102a1,#6001a5,#6e00a8,#7a00a7,#8400a5,#8c00a5,#9301a3,#9804a1,#9b059f,#9c069e,#9c069e,#9b059f,#9804a1,#9301a3,#8d00a5,#8500a5)"></i><i style="background:linear-gradient(90deg,#5f01a5,#5702a3,#4e02a0,#45039e,#35049b,#270697,#1c0792,#15088c,#11088a,#11088a,#18078f,#230696,#37049b,#4a03a0,#5901a3,#6700a7,#7400a7,#7e00a6,#8800a5,#8f00a4,#9502a2,#9904a0,#9b069e,#9c069e,#9b069e,#9904a0,#9502a2,#9000a4,#8a00a5,#8200a6)"></i><i style="background:linear-gradient(90deg,#6101a5,#5a01a3,#5202a1,#4a039f,#3f039d,#32059a,#270697,#200694,#1c0792,#1e0793,#240696,#31059a,#44039e,#5202a2,#6101a5,#6e00a8,#7900a7,#8300a6,#8b00a5,#9200a4,#9703a1,#9a059f,#9b069e,#9b069e,#9a059f,#9703a1,#9301a4,#8d00a5,#8600a5,#7f00a6)"></i><i style="background:linear-gradient(90deg,#6301a6,#5e01a4,#5702a3,#4f02a1,#48039f,#3e039d,#34049a,#2d0599,#2a0598,#2c0598,#33049a,#41039d,#4d02a0,#5b01a4,#6800a7,#7500a7,#7f00a6,#8800a5,#8f00a4,#9401a3,#9804a0,#9a059f,#9b069f,#9a059f,#9804a0,#9401a3,#9000a4,#8a00a5,#8300a6,#7b00a6)"></i><i style="background:linear-gradient(90deg,#6700a7,#6201a6,#5d01a4,#5602a3,#4f02a1,#49039f,#43039e,#3d049c,#3a049c,#3c049c,#44039e,#4c02a0,#5702a3,#6301a6,#7000a8,#7b00a6,#8400a5,#8c00a5,#9200a4,#9602a2,#9904a0,#9a059f,#9a059f,#9904a0,#9602a2,#9100a4,#8c00a5,#8600a5,#7f00a6,#7800a7)"></i><i style="background:linear-gradient(90deg,#6b00a8,#6800a7,#6301a6,#5d01a4,#5702a3,#5102a1,#4d02a0,#49039f,#48039f,#4a039f,#4e02a1,#5602a2,#6001a5,#6c00a8,#7800a7,#8200a6,#8a00a5,#9000a4,#9401a3,#9703a1,#9905a0,#9a059f,#9904a0,#9703a1,#9301a4,#8e00a4,#8800a5,#8200a6,#7b00a6,#7500a7)"></i><i style="background:linear-gradient(90deg,#6f00a8,#6d00a8,#6a00a7,#6501a6,#6001a5,#5b01a4,#5602a3,#5302a2,#5302a2,#5502a2,#5901a3,#6001a5,#6a00a8,#7500a7,#7f00a6,#8800a5,#8f00a4,#9301a3,#9703a1,#9904a0,#9a059f,#9905a0,#9703a1,#9401a3,#9000a4,#8a00a5,#8400a6,#7d00a6,#7700a7,#7100a7)"></i><i style="background:linear-gradient(90deg,#7300a7,#7300a7,#7100a8,#6d00a8,#6800a7,#6401a6,#6001a5,#5e01a4,#5e01a4,#6001a5,#6401a6,#6b00a8,#7400a7,#7d00a6,#8600a5,#8e00a4,#9301a3,#9703a1,#9904a0,#9a059f,#9a059f,#9804a0,#9502a2,#9100a4,#8c00a5,#8600a5,#7f00a6,#7900a7,#7300a7,#6e00a8)"></i><i style="background:linear-gradient(90deg,#7800a7,#7900a7,#7700a7,#7500a7,#7100a7,#6e00a8,#6a00a8,#6900a7,#6900a7,#6b00a8,#6f00a8,#7600a7,#7d00a6,#8600a5,#8d00a4,#9301a3,#9703a1,#9905a0,#9a059f,#9a059f,#9905a0,#9703a1,#9301a3,#8e00a4,#8800a5,#8100a6,#7b00a6,#7400a7,#6f00a8,#6b00a8)"></i><i style="background:linear-gradient(90deg,#7d00a6,#7f00a6,#7e00a6,#7c00a6,#7a00a7,#7700a7,#7400a7,#7300a7,#7300a7,#7600a7,#7a00a7,#8000a6,#8700a5,#8e00a4,#9401a3,#9804a0,#9b069f,#9c069e,#9c069e,#9b059f,#9804a0,#9502a2,#9100a4,#8b00a5,#8400a5,#7d00a6,#7600a7,#7000a8,#6b00a8,#6700a7)"></i><i style="background:linear-gradient(90deg,#8200a6,#8500a5,#8500a5,#8400a5,#8200a6,#8000a6,#7e00a6,#7d00a6,#7e00a6,#8000a6,#8500a5,#8a00a5,#9000a4,#9502a2,#9a059f,#9d079d,#9e089d,#9e089d,#9d079d,#9b069f,#9803a1,#9301a3,#8e00a4,#8700a5,#8000a6,#7900a7,#7200a7,#6c00a8,#6700a7,#6401a6)"></i><i style="background:linear-gradient(90deg,#8600a5,#8a00a5,#8c00a5,#8b00a5,#8a00a5,#8800a5,#8700a5,#8600a5,#8800a5,#8b00a5,#8f00a4,#9301a3,#9804a1,#9c069e,#9f089c,#a1099b,#a10a9b,#a0099b,#9e079d,#9b059f,#9603a1,#9100a4,#8b00a5,#8300a6,#7c00a6,#7400a7,#6d00a8,#6700a7,#6301a6,#6101a5)"></i><i style="background:linear-gradient(90deg,#8b00a5,#9000a4,#9200a4,#9200a4,#9200a4,#9000a4,#8f00a4,#8f00a4,#9100a4,#9401a3,#9804a1,#9c069e,#9f089c,#a20a9a,#a40b99,#a50c99,#a40b99,#a20a9a,#9e089d,#9a059f,#9502a2,#8f00a4,#8700a5,#7f00a6,#7700a7,#7000a8,#6900a7,#6301a6,#5f01a5,#5e01a4)"></i><i style="background:linear-gradient(90deg,#8f00a4,#9502a2,#9703a1,#9804a0,#9804a0,#9703a1,#9703a1,#9703a1,#9905a0,#9c069e,#a0099c,#a30b9a,#a60d98,#a80e97,#a90e96,#a80e97,#a60d98,#a30b9a,#9f089c,#9905a0,#9301a3,#8c00a5,#8400a5,#7b00a6,#7300a7,#6b00a8,#6401a6,#5f01a5,#5c01a4,#5b01a4)"></i><i style="background:linear-gradient(90deg,#9301a3,#9904a0,#9c069e,#9e079d,#9e079d,#9e079d,#9e079d,#9e089d,#a0099b,#a40b99,#a70d97,#aa0f96,#ac1094,#ad1194,#ad1194,#ab1095,#a80e97,#a40b99,#9f089c,#9804a0,#9100a4,#8900a5,#8000a6,#7700a7,#6f00a8,#6700a7,#6001a5,#5b01a4,#5801a3,#5801a3)"></i><i style="background:linear-gradient(90deg,#9603a2,#9c069e,#a0099c,#a20a9a,#a30b9a,#a30b9a,#a30b9a,#a40c99,#a70d98,#aa0f96,#ad1194,#b01392,#b11491,#b11491,#b01392,#ae1193,#aa0f96,#a40c99,#9e089d,#9703a1,#8f00a4,#8600a5,#7d00a6,#7400a7,#6b00a8,#6301a6,#5c01a4,#5802a3,#5502a2,#5602a3)"></i><i style="background:linear-gradient(90deg,#9904a0,#9f089c,#a30b9a,#a60c98,#a70d97,#a80e97,#a80e97,#a90f96,#ac1094,#af1293,#b21491,#b5168f,#b5178f,#b5168f,#b31590,#af1292,#ab0f95,#a50c99,#9e079d,#9602a2,#8d00a5,#8300a6,#7900a7,#7000a8,#6700a7,#5f01a5,#5901a3,#5502a2,#5302a2,#5402a2)"></i><i style="background:linear-gradient(90deg,#9b059f,#a10a9b,#a60c98,#a80e97,#aa0f96,#ab1095,#ac1095,#ad1194,#b01392,#b31590,#b6178e,#b8198d,#b81a8c,#b7198d,#b5168f,#b11392,#ab1095,#a40b99,#9d079e,#9401a3,#8a00a5,#8000a6,#7600a7,#6c00a8,#6301a6,#5c01a4,#5602a2,#5202a2,#5102a1,#5302a2)"></i><i style="background:linear-gradient(90deg,#9c069e,#a30b9a,#a70d97,#aa0f96,#ac1094,#ad1194,#ae1293,#b01392,#b31590,#b6178e,#b81a8c,#ba1c8b,#ba1c8b,#b91a8c,#b6178e,#b11491,#ab1095,#a40b99,#9b069e,#9200a4,#8700a5,#7d00a6,#7200a7,#6900a7,#6001a5,#5901a3,#5302a2,#5002a1,#4f02a1,#5102a1)"></i><i style="background:linear-gradient(90deg,#9d079d,#a40b99,#a80e97,#ab1095,#ad1194,#ae1293,#b01392,#b21491,#b5168f,#b7198d,#ba1c8b,#bb1e8a,#bb1e8a,#b91c8b,#b6188e,#b11491,#ab1095,#a30b9a,#9a059f,#9000a4,#8400a5,#7900a7,#6f00a8,#6501a6,#5d01a4,#5602a2,#5102a1,#4e02a1,#4e02a0,#5002a1)"></i><i style="background:linear-gradient(90deg,#9d079d,#a40b99,#a80e97,#ab1095,#ad1194,#af1293,#b11392,#b31490,#b5168f,#b81a8c,#ba1d8a,#bc1e89,#bc1e89,#ba1c8b,#b7188e,#b11491,#aa0f96,#a20a9b,#9804a0,#8d00a4,#8200a6,#7600a7,#6c00a8,#6201a6,#5a01a3,#5402a2,#4f02a1,#4d02a0,#4d02a0,#4f02a1)"></i><i style="background:linear-gradient(90deg,#9d079e,#a30b9a,#a80e97,#ab1095,#ad1194,#af1293,#b11392,#b31590,#b6178e,#b81a8c,#bb1d8a,#bc1f89,#bc1e89,#ba1c8b,#b7188e,#b11391,#a90f96,#a0099b,#9603a1,#8b00a5,#7f00a6,#7300a7,#6900a7,#5f01a5,#5802a3,#5202a1,#4e02a0,#4c02a0,#4c02a0,#4f02a1)"></i><i style="background:linear-gradient(90deg,#9c069e,#a20a9a,#a70d98,#aa0f96,#ac1194,#ae1293,#b01392,#b21491,#b5168f,#b81a8c,#ba1d8a,#bc1e89,#bb1e8a,#ba1c8b,#b6188e,#b01392,#a90e96,#9f089c,#9502a2,#8900a5,#7d00a6,#7100a7,#6600a6,#5d01a4,#5502a2,#5002a1,#4d02a0,#4b02a0,#4c02a0,#4f02a1)"></i><i style="background:linear-gradient(90deg,#9a059f,#a0099b,#a50c99,#a80e97,#ab1095,#ad1194,#af1292,#b21491,#b5168f,#b7198d,#ba1c8b,#bb1d8a,#bb1d8a,#b91b8b,#b6178e,#b01392,#a80e97,#9e089d,#9301a3,#8700a5,#7a00a7,#6e00a8,#6301a6,#5b01a4,#5402a2,#4f02a1,#4c02a0,#4b02a0,#4c02a0,#4f02a1)"></i><i style="background:linear-gradient(90deg,#9804a0,#9e089d,#a30b9a,#a70d98,#aa0f96,#ac1094,#ae1293,#b11392,#b41590,#b7188e,#b91b8c,#ba1c8b,#ba1c8b,#b91a8c,#b5168f,#af1293,#a70d97,#9d079d,#9200a4,#8500a5,#7800a7,#6c00a8,#6101a5,#5901a3,#5202a2,#4e02a0,#4b02a0,#4b02a0,#4c02a0,#4f02a1)"></i><i style="background:linear-gradient(90deg,#9502a2,#9c069e,#a1099b,#a50c99,#a80e97,#aa0f95,#ad1194,#af1392,#b21491,#b6178e,#b81a8d,#b91b8b,#b91b8b,#b81a8c,#b5168f,#af1293,#a60d98,#9c069e,#9100a4,#8400a5,#7700a7,#6a00a8,#6001a5,#5702a3,#5102a1,#4d02a0,#4b02a0,#4b02a0,#4c02a0,#4f02a1)"></i><i style="background:linear-gradient(90deg,#9200a4,#9905a0,#9f089c,#a30b9a,#a60d98,#a90e96,#ac1095,#ae1293,#b11491,#b5168f,#b7198d,#b91a8c,#b91b8c,#b8198d,#b4168f,#ae1293,#a60d98,#9c069e,#9000a4,#8300a6,#7600a7,#6900a7,#5e01a5,#5602a3,#5002a1,#4d02a0,#4b02a0,#4b02a0,#4d02a0,#4f02a1)"></i><i style="background:linear-gradient(90deg,#8e00a4,#9603a1,#9c069e,#a1099b,#a50c99,#a80e97,#aa0f95,#ad1194,#b01392,#b41590,#b6188e,#b81a8c,#b81a8c,#b7198d,#b4158f,#ae1293,#a60c98,#9c069e,#9000a4,#8200a6,#7500a7,#6800a7,#5e01a4,#5502a2,#5002a1,#4d02a0,#4b02a0,#4c02a0,#4d02a0,#5002a1)"></i><i style="background:linear-gradient(90deg,#8900a5,#9301a3,#9a059f,#9f089c,#a30b9a,#a70d98,#a90f96,#ac1194,#b01392,#b31590,#b6178e,#b8198d,#b81a8c,#b7198d,#b4168f,#ae1293,#a60d98,#9c069e,#9000a4,#8300a6,#7500a7,#6800a7,#5d01a4,#5502a2,#5002a1,#4d02a0,#4c02a0,#4c02a0,#4e02a1,#5102a1)"></i><i style="background:linear-gradient(90deg,#8400a5,#8f00a4,#9703a1,#9d079d,#a20a9a,#a60c98,#a90e96,#ac1095,#af1292,#b31590,#b6178e,#b8198d,#b81a8c,#b8198d,#b5168f,#af1293,#a70d98,#9d079e,#9100a4,#8300a6,#7500a7,#6800a7,#5d01a4,#5502a2,#5002a1,#4d02a0,#4c02a0,#4d02a0,#4f02a1,#5102a1)"></i><i style="background:linear-gradient(90deg,#7e00a6,#8b00a5,#9502a2,#9c069e,#a1099b,#a50c99,#a80e97,#ab1095,#af1293,#b31590,#b6178e,#b81a8c,#b91b8c,#b81a8c,#b5168f,#b01392,#a80e97,#9e079d,#9200a4,#8400a5,#7600a7,#6900a7,#5e01a5,#5602a3,#5102a1,#4e02a1,#4d02a0,#4e02a0,#5002a1,#5202a2)"></i><i style="background:linear-gradient(90deg,#7900a7,#8700a5,#9200a4,#9a059f,#a0099c,#a40b99,#a80e97,#ab1095,#af1293,#b31590,#b6188e,#b91a8c,#b91b8b,#b91b8c,#b6178e,#b11391,#a90e96,#9f089c,#9401a3,#8600a5,#7800a7,#6b00a8,#5f01a5,#5702a3,#5202a1,#4f02a1,#4e02a1,#4f02a1,#5102a1,#5302a2)"></i><i style="background:linear-gradient(90deg,#7200a7,#8300a6,#9000a4,#9804a0,#9f089c,#a40b99,#a70e97,#ab1095,#af1292,#b41590,#b7188d,#b91b8b,#ba1c8b,#b91b8b,#b7188d,#b21491,#aa0f95,#a1099b,#9502a2,#8800a5,#7900a7,#6c00a8,#6101a5,#5801a3,#5302a2,#5002a1,#4f02a1,#5002a1,#5202a1,#5402a2)"></i><i style="background:linear-gradient(90deg,#6c00a8,#7f00a6,#8d00a5,#9703a1,#9e079d,#a30b9a,#a70d97,#ab1095,#b01392,#b41590,#b8198d,#ba1c8b,#bb1d8a,#ba1d8a,#b81a8c,#b31590,#ac1094,#a20a9a,#9703a1,#8a00a5,#7b00a6,#6e00a8,#6201a6,#5a01a3,#5402a2,#5102a1,#5002a1,#5102a1,#5302a2,#5502a2)"></i><i style="background:linear-gradient(90deg,#6501a6,#7a00a7,#8a00a5,#9502a2,#9d079d,#a30b9a,#a70d97,#ab1095,#b01392,#b5168f,#b81a8c,#bb1d8a,#bc1e89,#bb1e8a,#b91b8c,#b5168f,#ae1193,#a40c99,#9905a0,#8c00a5,#7e00a6,#7000a8,#6401a6,#5c01a4,#5602a2,#5302a2,#5202a1,#5202a2,#5402a2,#5702a3)"></i><i style="background:linear-gradient(90deg,#5e01a5,#7600a7,#8700a5,#9301a3,#9c069e,#a20a9a,#a70d97,#ac1095,#b11392,#b5178f,#b91b8b,#bc1e89,#bd2088,#bc1f89,#ba1c8b,#b6178e,#af1292,#a60d98,#9b069e,#8e00a4,#8000a6,#7200a7,#6600a7,#5e01a4,#5802a3,#5402a2,#5302a2,#5302a2,#5502a2,#5802a3)"></i><i style="background:linear-gradient(90deg,#5702a3,#7100a7,#8400a5,#9200a4,#9b069f,#a20a9a,#a70d97,#ac1094,#b11491,#b6178e,#ba1c8b,#bd1f89,#be2188,#bd2088,#bb1d8a,#b7198d,#b11391,#a80e97,#9e079d,#9100a4,#8300a6,#7500a7,#6900a7,#6001a5,#5901a3,#5602a2,#5402a2,#5502a2,#5702a3,#5901a3)"></i><i style="background:linear-gradient(90deg,#5102a1,#6d00a8,#8100a6,#9000a4,#9a059f,#a10a9b,#a70d97,#ac1194,#b21491,#b7188d,#bb1d8a,#bd2088,#be2287,#be2187,#bc1e89,#b81a8c,#b21491,#aa0f95,#a0099c,#9301a3,#8500a5,#7700a7,#6b00a8,#6201a5,#5b01a4,#5802a3,#5602a2,#5602a3,#5802a3,#5b01a4)"></i><i style="background:linear-gradient(90deg,#4a03a0,#6800a7,#7d00a6,#8e00a4,#9904a0,#a1099b,#a70d97,#ad1194,#b21491,#b7198d,#bb1e89,#be2187,#bf2386,#bf2287,#bd1f88,#b91b8b,#b41590,#ac1094,#a20a9a,#9602a2,#8800a5,#7a00a7,#6e00a8,#6401a6,#5d01a4,#5901a3,#5802a3,#5802a3,#5901a3,#5c01a4)"></i><i style="background:linear-gradient(90deg,#44039e,#6301a6,#7a00a7,#8b00a5,#9804a1,#a0099b,#a70d97,#ad1194,#b31590,#b81a8c,#bc1f89,#bf2287,#c02486,#bf2386,#bd2088,#ba1c8b,#b5168f,#ae1193,#a40b99,#9804a0,#8a00a5,#7c00a6,#7000a8,#6700a7,#6001a5,#5b01a4,#5901a3,#5901a3,#5b01a4,#5e01a5)"></i><i style="background:linear-gradient(90deg,#3b049c,#5e01a5,#7700a7,#8900a5,#9603a1,#a0099c,#a70d97,#ad1194,#b41590,#b91b8c,#bd2088,#c02386,#c12485,#c02486,#be2187,#bb1d8a,#b6188e,#af1292,#a60d98,#9a059f,#8d00a5,#7f00a6,#7300a7,#6900a7,#6201a5,#5d01a4,#5b01a4,#5b01a4,#5c01a4,#6001a5)"></i><i style="background:linear-gradient(90deg,#31059a,#5a01a3,#7300a7,#8700a5,#9502a2,#9f089c,#a70d97,#ae1193,#b4168f,#ba1c8b,#be2187,#c02485,#c12584,#c12585,#bf2287,#bc1e89,#b7198d,#b11391,#a80e97,#9c079e,#8f00a4,#8100a6,#7500a7,#6b00a8,#6401a6,#5f01a5,#5d01a4,#5c01a4,#5e01a4,#6101a5)"></i><i style="background:linear-gradient(90deg,#280598,#5602a2,#7000a8,#8400a5,#9301a3,#9e089d,#a70d97,#ae1293,#b5168f,#bb1d8a,#bf2286,#c22684,#c32783,#c22684,#c02386,#bd2088,#b91b8c,#b31590,#aa0f96,#9f089c,#9200a4,#8400a5,#7800a7,#6e00a8,#6600a7,#6101a5,#5e01a5,#5e01a4,#5f01a5,#6301a6)"></i><i style="background:linear-gradient(90deg,#200695,#5102a1,#6d00a8,#8200a6,#9200a4,#9e079d,#a70d97,#af1293,#b6188e,#bc1f89,#c02485,#c32883,#c42982,#c32883,#c12584,#be2187,#ba1c8b,#b5168f,#ac1094,#a1099b,#9401a3,#8700a5,#7a00a7,#7000a8,#6800a7,#6301a6,#6001a5,#5f01a5,#6101a5,#6501a6)"></i><i style="background:linear-gradient(90deg,#1a0790,#4d02a0,#6a00a7,#7f00a6,#9000a4,#9d079d,#a70d97,#b01392,#b8198d,#be2188,#c22784,#c52a81,#c62b80,#c52a81,#c32783,#c02486,#bc1f89,#b7188e,#af1293,#a30b9a,#9703a1,#8900a5,#7c00a6,#7200a7,#6b00a8,#6501a6,#6201a5,#6101a5,#6301a6,#6600a7)"></i><i style="background:linear-gradient(90deg,#13088c,#4a039f,#6600a7,#7d00a6,#8f00a4,#9d079e,#a80e97,#b11491,#b91b8b,#c02386,#c52a81,#c82d7f,#c92f7e,#c82d7f,#c52a81,#c22684,#be2187,#b91b8c,#b11491,#a60d98,#9905a0,#8c00a5,#7f00a6,#7500a7,#6d00a8,#6700a7,#6401a6,#6301a6,#6401a6,#6800a7)"></i><i style="background:linear-gradient(90deg,#0e0988,#46039f,#6301a6,#7b00a6,#8d00a4,#9c069e,#a80e97,#b31590,#bb1e8a,#c22783,#c82e7f,#cb327c,#cc337b,#cb317c,#c82e7e,#c52a81,#c12585,#bb1e89,#b41590,#a90e96,#9c069e,#8e00a4,#8100a6,#7700a7,#6f00a8,#6900a7,#6500a6,#6401a6,#6600a6,#6900a7)"></i><i style="background:linear-gradient(90deg,#090984,#42039e,#6001a5,#7800a7,#8c00a5,#9c069e,#a90f96,#b5168f,#be2187,#c62b81,#cc327b,#d03778,#d03877,#cf3678,#cc337b,#c92e7e,#c42982,#be2287,#b7188d,#ac1095,#9e089d,#9100a4,#8400a6,#7900a7,#7100a8,#6b00a8,#6700a7,#6600a6,#6700a7,#6b00a8)"></i><i style="background:linear-gradient(90deg,#050a81,#3d049c,#5e01a4,#7600a7,#8b00a5,#9c069e,#aa0f95,#b7188d,#c12585,#ca307d,#d13877,#d43d74,#d53e73,#d43c74,#d13977,#cd347a,#c82e7f,#c22684,#ba1c8b,#af1293,#a10a9b,#9301a3,#8600a5,#7b00a6,#7300a7,#6d00a8,#6900a7,#6800a7,#6800a7,#6c00a8)"></i><i style="background:linear-gradient(90deg,#030a80,#39049b,#5b01a4,#7500a7,#8a00a5,#9c069e,#ac1095,#b91b8b,#c42982,#ce3679,#d53f72,#d9446e,#da456d,#d8436e,#d63f72,#d23a76,#cd337b,#c62b80,#be2188,#b31490,#a40b99,#9602a2,#8800a5,#7d00a6,#7400a7,#6e00a8,#6b00a8,#6900a7,#6a00a7,#6c00a8)"></i><i style="background:linear-gradient(90deg,#030a80,#35049a,#5901a3,#7300a7,#8900a5,#9c079e,#ad1194,#bc1f89,#c92e7e,#d33c74,#da466c,#de4c67,#df4e66,#de4b68,#db476c,#d74170,#d23a76,#cb317c,#c12584,#b6178e,#a70d97,#9804a0,#8a00a5,#7f00a6,#7600a7,#7000a8,#6c00a8,#6b00a8,#6b00a8,#6d00a8)"></i><i style="background:linear-gradient(90deg,#030a80,#32059a,#5702a3,#7200a7,#8900a5,#9d079d,#af1392,#bf2286,#cd347a,#d8436f,#e04e66,#e55560,#e6575f,#e45461,#e04f65,#dc486a,#d74171,#d03778,#c62b81,#ba1c8b,#aa0f95,#9b059f,#8c00a5,#8100a6,#7800a7,#7200a7,#6e00a8,#6c00a8,#6c00a8,#6d00a8)"></i><i style="background:linear-gradient(90deg,#030a80,#2f0599,#5602a2,#7100a8,#8900a5,#9e089d,#b21491,#c32783,#d23a76,#dd4a69,#e6575e,#ea6058,#eb6257,#ea5f59,#e7585e,#e15064,#db486b,#d43e73,#ca307d,#bd2088,#ae1193,#9d079d,#8e00a4,#8200a6,#7a00a7,#7300a7,#7000a8,#6e00a8,#6d00a8,#6d00a8)"></i><i style="background:linear-gradient(90deg,#030a80,#2e0599,#5402a2,#7000a8,#8900a5,#a0099c,#b5168f,#c62c80,#d64071,#e35262,#eb6157,#ef6b50,#f06e4f,#ee6a51,#eb6356,#e7595d,#e14f65,#d9446e,#cf3679,#c12485,#b11391,#9f089c,#9000a4,#8400a5,#7b00a6,#7500a7,#7100a7,#6f00a8,#6e00a8,#6d00a8)"></i><i style="background:linear-gradient(90deg,#030a80,#2c0598,#5302a2,#7000a8,#8900a5,#a10a9b,#b8198d,#cb317c,#db476b,#e85b5c,#ef6c50,#f37748,#f57a47,#f37649,#f06e4f,#ec6356,#e6575e,#dd4a69,#d33c75,#c42982,#b4168f,#a20a9a,#9200a4,#8600a5,#7d00a6,#7600a7,#7300a7,#7000a8,#6f00a8,#6d00a8)"></i><i style="background:linear-gradient(90deg,#030a80,#2c0598,#5302a2,#7000a8,#8b00a5,#a40b99,#bb1e8a,#d03778,#e04e66,#ec6455,#f47848,#f88440,#f8873e,#f78341,#f47a47,#f06e4f,#ea6058,#e25163,#d74170,#c82e7f,#b7198d,#a40b99,#9401a3,#8700a5,#7e00a6,#7800a7,#7400a7,#7100a7,#6f00a8,#6d00a8)"></i><i style="background:linear-gradient(90deg,#030a80,#2c0598,#5302a2,#7000a8,#8c00a5,#a70d98,#bf2287,#d43d74,#e55560,#f06e4f,#f78341,#fb9138,#fc9436,#fb9039,#f8863f,#f47848,#ee6952,#e6585e,#da466c,#cc327b,#ba1c8b,#a70d98,#9602a2,#8900a5,#7f00a6,#7900a7,#7500a7,#7200a7,#7000a8,#6d00a8)"></i><i style="background:linear-gradient(90deg,#030a80,#2c0598,#5402a2,#7100a7,#8f00a4,#aa0f96,#c32783,#d8436f,#e95d5a,#f47848,#fa8f39,#fe9d30,#fea12e,#fd9d31,#fb9238,#f78341,#f1724c,#ea5f59,#de4b68,#cf3678,#bc1f89,#a90e96,#9804a1,#8a00a5,#8100a6,#7b00a6,#7600a7,#7300a7,#7000a8,#6d00a8)"></i><i style="background:linear-gradient(90deg,#030a80,#2d0599,#5402a2,#7300a7,#9100a4,#ae1293,#c72d7f,#dd496a,#ed6654,#f78241,#fd9a32,#ffaa29,#ffae26,#ffa929,#fe9d30,#fa8d3a,#f57a46,#ed6654,#e15064,#d23b76,#bf2286,#ab1095,#9905a0,#8c00a5,#8200a6,#7c00a6,#7700a7,#7400a7,#7100a7,#6c00a8)"></i><i style="background:linear-gradient(90deg,#030a80,#2f0599,#5602a2,#7500a7,#9502a2,#b31590,#cd337b,#e15064,#f06e4e,#fa8c3b,#ffa52b,#ffb522,#ffba1f,#ffb522,#ffa829,#fc9734,#f78341,#ef6c50,#e45560,#d53e73,#c12584,#ae1193,#9b069e,#8d00a4,#8300a6,#7d00a6,#7800a7,#7500a7,#7100a7,#6c00a8)"></i><i style="background:linear-gradient(90deg,#050a81,#31059a,#5802a3,#7800a7,#9904a0,#b8198d,#d23a76,#e6575e,#f37748,#fc9635,#ffaf25,#ffc01a,#ffc417,#ffc01a,#ffb323,#fea12e,#f98b3c,#f2734c,#e7595d,#d74170,#c42882,#b01392,#9d079d,#8f00a4,#8500a5,#7e00a6,#7900a7,#7500a7,#7100a7,#6c00a8)"></i><i style="background:linear-gradient(90deg,#070983,#34049a,#5a01a4,#7c00a6,#9e079d,#bd2088,#d74170,#ea6058,#f78043,#fe9f2f,#ffb91f,#ffc914,#ffcd11,#ffc913,#ffbd1d,#ffaa29,#fb9237,#f47848,#e95d5a,#d9446e,#c62b81,#b21491,#9f089c,#9100a4,#8600a5,#7f00a6,#7900a7,#7500a7,#7100a7,#6c00a8)"></i><i style="background:linear-gradient(90deg,#0a0985,#38049b,#5d01a4,#8000a6,#a30b9a,#c22784,#dc486a,#ee6852,#f98a3d,#ffa829,#ffc119,#ffcf0f,#ffd30c,#ffd00f,#ffc516,#ffb224,#fd9933,#f67d44,#eb6157,#db476b,#c82d7f,#b41590,#a1099b,#9200a4,#8700a5,#7f00a6,#7a00a7,#7600a7,#7100a7,#6c00a8)"></i><i style="background:linear-gradient(90deg,#0e0988,#3c049c,#6101a5,#8500a5,#a80e97,#c82e7e,#e15064,#f1714c,#fb9337,#ffb124,#ffc914,#ffd50b,#ffd909,#ffd60b,#ffcc11,#ffba1f,#fe9f2f,#f78241,#ec6555,#dd4969,#ca307d,#b6178e,#a20a9a,#9401a3,#8800a5,#8000a6,#7a00a7,#7500a7,#7100a7,#6c00a8)"></i><i style="background:linear-gradient(90deg,#12088a,#41039d,#6401a6,#8a00a5,#af1293,#ce3579,#e6575e,#f57a46,#fd9c31,#ffb91f,#ffce10,#ffda08,#ffdd06,#ffdb07,#ffd20d,#ffc01a,#ffa52b,#f8873f,#ed6853,#de4c68,#cb327c,#b7198d,#a40b99,#9502a2,#8900a5,#8100a6,#7a00a6,#7500a7,#7100a7,#6c00a8)"></i><i style="background:linear-gradient(90deg,#16088e,#45039e,#6900a7,#8f00a4,#b5168f,#d43d74,#ea6058,#f78440,#ffa52c,#ffc11a,#ffd30d,#ffdd06,#ffe004,#ffde05,#ffd70a,#ffc616,#ffaa28,#f98b3c,#ee6a51,#df4e66,#cd347a,#b91b8c,#a60c98,#9603a1,#8a00a5,#8100a6,#7a00a6,#7500a7,#7100a8,#6c00a8)"></i><i style="background:linear-gradient(90deg,#1b0791,#49039f,#6d00a8,#9402a3,#ba1d8a,#d9446e,#ee6852,#fa8d3b,#ffad26,#ffc815,#ffd70a,#ffdf04,#ffe202,#ffe103,#ffdb08,#ffcb12,#ffaf25,#fa8e3a,#ef6d4f,#e14f65,#ce3679,#ba1d8a,#a70d97,#9804a1,#8b00a5,#8200a6,#7a00a6,#7500a7,#7000a8,#6c00a8)"></i><i style="background:linear-gradient(90deg,#200695,#4c02a0,#7200a7,#9a059f,#c02386,#de4b68,#f1714d,#fc9635,#ffb621,#ffcd10,#ffdb07,#ffe103,#ffe400,#ffe301,#ffdd06,#ffcf0f,#ffb323,#fb9138,#f06f4e,#e25164,#d03778,#bc1e89,#a90e96,#9904a0,#8c00a5,#8200a6,#7a00a6,#7500a7,#7000a8,#6c00a8)"></i><i style="background:linear-gradient(90deg,#260697,#5002a1,#7600a7,#9f089c,#c52a81,#e25263,#f47947,#fe9e2f,#ffbd1c,#ffd20d,#ffdd06,#ffe301,#ffe500,#ffe500,#ffe004,#ffd20d,#ffb721,#fc9436,#f1714d,#e35262,#d13977,#bd2088,#aa0f95,#9a059f,#8d00a5,#8200a6,#7a00a7,#7400a7,#7000a8,#6c00a8)"></i><i style="background:linear-gradient(90deg,#2d0599,#5502a2,#7b00a6,#a50c99,#cb317c,#e7595d,#f78142,#ffa72a,#ffc417,#ffd60b,#ffdf04,#ffe400,#ffe500,#ffe500,#ffe103,#ffd50c,#ffba1f,#fc9635,#f1724c,#e35362,#d23a76,#be2187,#ab1095,#9b069f,#8d00a4,#8200a6,#7a00a7,#7400a7,#6f00a8,#6c00a8)"></i><i style="background:linear-gradient(90deg,#35049a,#5a01a3,#8100a6,#ab0f95,#d03878,#ea6058,#f9893d,#ffae26,#ffca12,#ffd908,#ffe103,#ffe500,#ffe500,#ffe500,#ffe301,#ffd70a,#ffbc1d,#fc9834,#f2744b,#e45461,#d33b75,#bf2286,#ad1194,#9c069e,#8e00a4,#8300a6,#7a00a7,#7300a7,#6f00a8,#6c00a8)"></i><i style="background:linear-gradient(90deg,#3d049c,#5f01a5,#8600a5,#b01392,#d43d73,#ed6654,#fb9038,#ffb522,#ffcf0f,#ffdc07,#ffe202,#ffe500,#ffe500,#ffe500,#ffe401,#ffd809,#ffbe1c,#fd9933,#f2754a,#e55560,#d33c75,#c02386,#ad1194,#9d079e,#8f00a4,#8300a6,#7a00a7,#7300a7,#6f00a8,#6c00a8)"></i><i style="background:linear-gradient(90deg,#45039e,#6401a6,#8b00a5,#b5168f,#d8436f,#ef6d50,#fc9734,#ffbb1e,#ffd20d,#ffde05,#ffe301,#ffe500,#ffe500,#ffe500,#ffe500,#ffda08,#ffbf1a,#fd9a32,#f3764a,#e55660,#d43c74,#c02485,#ae1293,#9d079d,#8f00a4,#8300a6,#7900a7,#7300a7,#6e00a8,#6c00a8)"></i><i style="background:linear-gradient(90deg,#4b02a0,#6a00a7,#9100a4,#ba1c8b,#db486b,#f1724c,#fd9c31,#ffc01a,#ffd50b,#ffdf04,#ffe401,#ffe500,#ffe500,#ffe500,#ffe500,#ffda08,#ffc01a,#fd9b32,#f37649,#e5565f,#d43d74,#c12585,#af1293,#9d079d,#8f00a4,#8300a6,#7900a7,#7300a7,#6e00a8,#6c00a8)"></i><i style="background:linear-gradient(90deg,#5102a1,#7000a8,#9603a2,#be2187,#de4c67,#f37749,#fea12e,#ffc417,#ffd80a,#ffe004,#ffe401,#ffe500,#ffe500,#ffe500,#ffe500,#ffdb08,#ffc119,#fd9c31,#f37749,#e6575f,#d43d73,#c12585,#af1293,#9e079d,#8f00a4,#8300a6,#7900a7,#7200a7,#6e00a8,#6c00a8)"></i><i style="background:linear-gradient(90deg,#5801a3,#7600a7,#9b069f,#c22684,#e15064,#f57a47,#ffa42c,#ffc615,#ffd909,#ffe103,#ffe400,#ffe500,#ffe500,#ffe500,#ffe500,#ffda08,#ffc119,#fd9c31,#f37749,#e6575f,#d43e73,#c12584,#af1293,#9e079d,#8f00a4,#8300a6,#7900a7,#7200a7,#6e00a8,#6c00a8)"></i><i style="background:linear-gradient(90deg,#5f01a5,#7c00a6,#a0099c,#c52a81,#e35362,#f67d45,#ffa62b,#ffc815,#ffd908,#ffe103,#ffe401,#ffe500,#ffe500,#ffe500,#ffe500,#ffda08,#ffc11a,#fd9c31,#f37749,#e6575e,#d43e73,#c12585,#af1293,#9d079d,#8f00a4,#8300a6,#7900a7,#7300a7,#6e00a8,#6c00a8)"></i><i style="background:linear-gradient(90deg,#6700a7,#8200a6,#a50c99,#c82e7e,#e55560,#f67e44,#ffa62b,#ffc715,#ffd909,#ffe003,#ffe401,#ffe500,#ffe500,#ffe500,#ffe401,#ffd909,#ffc01a,#fd9c31,#f37748,#e6575e,#d43e73,#c12585,#ae1293,#9d079d,#8e00a4,#8200a6,#7900a7,#7300a7,#6f00a8,#6c00a8)"></i><i style="background:linear-gradient(90deg,#6f00a8,#8900a5,#aa0f96,#cb317c,#e6575f,#f67e44,#ffa52b,#ffc516,#ffd80a,#ffe004,#ffe401,#ffe500,#ffe500,#ffe500,#ffe301,#ffd809,#ffbf1b,#fd9b31,#f37748,#e6575e,#d43d73,#c02485,#ad1194,#9c069e,#8e00a4,#8200a6,#7a00a7,#7300a7,#6f00a8,#6c00a8)"></i><i style="background:linear-gradient(90deg,#7800a7,#9000a4,#af1293,#cd347a,#e6575e,#f67d45,#ffa22d,#ffc219,#ffd50b,#ffde05,#ffe301,#ffe500,#ffe500,#ffe500,#ffe202,#ffd60a,#ffbd1c,#fd9b32,#f37748,#e6575e,#d43d74,#c02386,#ac1194,#9b069f,#8d00a4,#8200a6,#7a00a7,#7400a7,#7000a8,#6c00a8)"></i><i style="background:linear-gradient(90deg,#8100a6,#9703a1,#b31590,#cf3679,#e6575f,#f57a46,#fe9d30,#ffbd1d,#ffd10e,#ffdd06,#ffe202,#ffe500,#ffe500,#ffe500,#ffe003,#ffd40c,#ffbc1d,#fd9a32,#f37748,#e6575e,#d43c74,#bf2287,#ab1095,#9a059f,#8c00a5,#8200a6,#7a00a6,#7500a7,#7000a8,#6c00a8)"></i><i style="background:linear-gradient(90deg,#8a00a5,#9e089d,#b7198d,#d03878,#e55560,#f37649,#fc9734,#ffb522,#ffcd11,#ffda08,#ffe103,#ffe500,#ffe500,#ffe500,#ffdf05,#ffd20d,#ffb91f,#fd9933,#f37748,#e6575e,#d33c75,#bd2088,#a90e96,#9804a0,#8b00a5,#8200a6,#7b00a6,#7600a7,#7100a7,#6c00a8)"></i></div>
<div class="cb" style="left:890px;top:24px;width:9px;height:173px;background:linear-gradient(180deg,#ffe500,#ffcb12,#ffa42c,#f67e44,#e85a5c,#d23a76,#b5168f,#9200a4,#6c00a8,#44039e,#030a80)"></div>
<div class="hm" style="left:71px;top:328px;width:177px;height:173px;--rh:1px"><i style="background:linear-gradient(90deg,#a10a9b,#a70d98,#ab1095,#af1292,#b31590,#b7188e,#ba1d8a,#be2287,#c42882,#ca307d,#d23a76,#d9446e,#e25163,#ea5e59,#ee6952,#ef6d4f,#ed6853,#e85a5c,#dc486b,#ca317c,#b41590,#9804a0,#7d00a6,#6700a7,#5502a2,#4a03a0,#43039e,#40039d,#41039d,#46039f,#4c02a0)"></i><i style="background:linear-gradient(90deg,#9d079d,#a20a9a,#a70d98,#aa0f95,#ae1193,#b11491,#b5168f,#b91b8b,#be2287,#c52a81,#cd337b,#d53f72,#de4c68,#e7595d,#ec6455,#ee6853,#eb6356,#e5565f,#d9446e,#c62c80,#af1293,#9301a3,#7900a7,#6201a6,#5202a1,#47039f,#3f039d,#3c049c,#3f039d,#45039e,#4b03a0)"></i><i style="background:linear-gradient(90deg,#9904a0,#9e089d,#a20a9a,#a50c98,#a90e96,#ac1094,#b01392,#b5168f,#ba1c8b,#c02486,#c82d7f,#d23a76,#db476b,#e45461,#ea5f59,#ec6356,#ea5e59,#e25163,#d63f72,#c22783,#aa0f95,#8f00a4,#7400a7,#5e01a5,#4e02a1,#44039e,#3b049c,#39049c,#3d049c,#44039e,#4a039f)"></i><i style="background:linear-gradient(90deg,#9502a2,#9a059f,#9e079d,#a1099b,#a40b99,#a70d98,#aa0f95,#af1293,#b5168f,#bb1e8a,#c32883,#cd347a,#d8426f,#e15064,#e85a5c,#ea5f59,#e85a5c,#df4d66,#d33b75,#bf2287,#a60d98,#8b00a5,#7000a8,#5a01a4,#4b02a0,#40039d,#38049b,#37049b,#3b049c,#43039e,#49039f)"></i><i style="background:linear-gradient(90deg,#9200a4,#9603a2,#9905a0,#9c069e,#9f089c,#a20a9b,#a50c99,#aa0f96,#af1292,#b7188d,#bf2286,#c92f7e,#d43e73,#de4b68,#e5565f,#e85a5c,#e55660,#dc496a,#cf3778,#bb1e8a,#a20a9a,#8700a5,#6d00a8,#5702a3,#48039f,#3c049c,#35049b,#35049a,#39049b,#41039d,#48039f)"></i><i style="background:linear-gradient(90deg,#8e00a4,#9200a4,#9502a2,#9804a0,#9a059f,#9d079d,#a0099c,#a40c99,#aa0f95,#b21491,#bb1d8a,#c52a81,#d13977,#db476b,#e25263,#e5565f,#e25263,#da456d,#cc327b,#b81a8d,#9e089d,#8300a6,#6900a7,#5402a2,#46039f,#39049b,#33059a,#33059a,#38049b,#40039d,#48039f)"></i><i style="background:linear-gradient(90deg,#8b00a5,#8f00a4,#9200a4,#9401a3,#9602a2,#9804a0,#9b069e,#9f089c,#a50c98,#ad1194,#b7188e,#c12585,#cd347a,#d8436f,#e04e66,#e35262,#e04e66,#d74270,#c82e7e,#b5168f,#9b059f,#7f00a6,#6600a7,#5202a1,#44039e,#36049b,#310599,#31059a,#37049b,#3f039d,#47039f)"></i><i style="background:linear-gradient(90deg,#8700a5,#8b00a5,#8e00a4,#9000a4,#9200a4,#9401a3,#9703a1,#9b069f,#a0099b,#a80e97,#b21491,#bd2088,#ca307d,#d53f72,#dd4a69,#e04e66,#dd4a69,#d53e73,#c52a81,#b11391,#9703a1,#7c00a6,#6301a6,#5002a1,#41039d,#34049a,#2f0599,#300599,#36049b,#3e039d,#46039f)"></i><i style="background:linear-gradient(90deg,#8400a5,#8800a5,#8a00a5,#8c00a5,#8d00a5,#8f00a4,#9200a4,#9603a1,#9c069e,#a40b99,#ae1193,#b91b8b,#c62b80,#d33b75,#da466c,#dd4a69,#da466c,#d23a76,#c22684,#ad1194,#9401a3,#7900a7,#6101a5,#4e02a0,#3f039d,#32059a,#2e0599,#2f0599,#35049a,#3e049d,#46039e)"></i><i style="background:linear-gradient(90deg,#8100a6,#8400a5,#8600a5,#8800a5,#8900a5,#8b00a5,#8e00a4,#9200a4,#9803a1,#9f089c,#a90f96,#b6178e,#c22783,#cf3778,#d8426f,#db476c,#d8436f,#cf3679,#bf2386,#aa0f96,#9100a4,#7700a7,#5f01a5,#4c02a0,#3d049c,#310599,#2d0599,#2e0599,#35049a,#3d049c,#46039e)"></i><i style="background:linear-gradient(90deg,#7f00a6,#8100a6,#8300a6,#8400a5,#8500a5,#8700a5,#8900a5,#8e00a4,#9301a3,#9b069f,#a50c99,#b21491,#bf2286,#cc327b,#d53e72,#d8436f,#d63f72,#cc327b,#bc1f89,#a70d97,#8e00a4,#7400a7,#5d01a4,#4b02a0,#3b049c,#300599,#2c0598,#2e0599,#34049a,#3d049c,#45039e)"></i><i style="background:linear-gradient(90deg,#7c00a6,#7e00a6,#7f00a6,#8000a6,#8100a6,#8300a6,#8500a5,#8900a5,#8f00a4,#9703a1,#a1099b,#ae1193,#bc1e89,#c92e7e,#d33b75,#d64071,#d33c75,#c92f7e,#b91b8b,#a40b99,#8c00a5,#7200a7,#5b01a4,#4a039f,#3a049c,#2f0599,#2c0598,#2e0599,#34049a,#3c049c,#45039e)"></i><i style="background:linear-gradient(90deg,#7a00a7,#7b00a6,#7c00a6,#7d00a6,#7e00a6,#7f00a6,#8100a6,#8500a5,#8b00a5,#9301a3,#9d079d,#aa0f96,#b91a8c,#c62b81,#d03778,#d43c74,#d03877,#c62b80,#b7188d,#a1099b,#8900a5,#7000a8,#5a01a4,#49039f,#39049b,#2f0599,#2c0598,#2e0599,#34049a,#3c049c,#45039e)"></i><i style="background:linear-gradient(90deg,#7800a7,#7900a7,#7900a7,#7a00a7,#7a00a7,#7b00a6,#7e00a6,#8100a6,#8700a5,#9000a4,#9a059f,#a60d98,#b6178f,#c22783,#cd337b,#d13977,#ce347a,#c32883,#b41590,#9e089d,#8700a5,#6f00a8,#5901a3,#48039f,#39049b,#2f0599,#2c0598,#2e0599,#34049a,#3c049c,#44039e)"></i><i style="background:linear-gradient(90deg,#7600a7,#7600a7,#7700a7,#7700a7,#7700a7,#7800a7,#7a00a7,#7e00a6,#8400a6,#8c00a5,#9603a1,#a30b9a,#b21491,#c02386,#ca307d,#ce3579,#cb317c,#c12485,#b11491,#9c069e,#8500a5,#6d00a8,#5801a3,#48039f,#39049b,#2f0599,#2d0598,#2f0599,#35049a,#3c049c,#44039e)"></i><i style="background:linear-gradient(90deg,#7400a7,#7400a7,#7400a7,#7400a7,#7400a7,#7500a7,#7700a7,#7a00a6,#8000a6,#8800a5,#9301a3,#a0099c,#af1293,#bd1f88,#c72c80,#cb317c,#c82d7f,#be2187,#ae1293,#9a059f,#8300a6,#6c00a8,#5702a3,#48039f,#39049b,#300599,#2d0599,#300599,#35049a,#3c049c,#44039e)"></i><i style="background:linear-gradient(90deg,#7200a7,#7200a7,#7100a7,#7100a7,#7100a7,#7200a7,#7400a7,#7700a7,#7d00a6,#8500a5,#9000a4,#9c079e,#ac1095,#ba1c8b,#c42882,#c82e7e,#c52a81,#bb1e8a,#ab1095,#9703a1,#8100a6,#6b00a8,#5702a3,#48039f,#3a049c,#31059a,#2e0599,#300599,#36049b,#3d049c,#44039e)"></i><i style="background:linear-gradient(90deg,#7100a7,#7000a8,#6f00a8,#6e00a8,#6e00a8,#6f00a8,#7100a8,#7400a7,#7a00a7,#8200a6,#8d00a5,#9905a0,#a80e97,#b7198d,#c12585,#c62b81,#c22783,#b91b8c,#a90e96,#9502a2,#7f00a6,#6a00a7,#5702a3,#48039f,#3b049c,#32059a,#300599,#32059a,#37049b,#3d049c,#44039e)"></i><i style="background:linear-gradient(90deg,#6f00a8,#6e00a8,#6d00a8,#6c00a8,#6b00a8,#6c00a8,#6e00a8,#7100a7,#7700a7,#7f00a6,#8a00a5,#9703a1,#a50c98,#b4168f,#be2287,#c32783,#c02386,#b6188e,#a60d98,#9301a3,#7e00a6,#6900a7,#5602a3,#48039f,#3c049c,#33049a,#31059a,#33059a,#37049b,#3e049c,#44039e)"></i><i style="background:linear-gradient(90deg,#6e00a8,#6d00a8,#6b00a8,#6900a7,#6900a7,#6900a7,#6b00a8,#6f00a8,#7400a7,#7c00a6,#8700a5,#9401a3,#a30a9a,#b11491,#bc1e89,#c02485,#bd2088,#b41590,#a40b99,#9100a4,#7c00a6,#6800a7,#5602a3,#49039f,#3d049c,#35049a,#33059a,#34049a,#38049b,#3e049d,#44039e)"></i><i style="background:linear-gradient(90deg,#6d00a8,#6b00a8,#6900a7,#6700a7,#6600a7,#6700a7,#6800a7,#6c00a8,#7200a7,#7a00a7,#8400a5,#9100a4,#a0099c,#af1293,#b91b8b,#be2188,#bb1d8a,#b11491,#a20a9b,#8f00a4,#7b00a6,#6800a7,#5702a3,#49039f,#3f039d,#37049b,#34049a,#36049b,#3a049c,#3f039d,#44039e)"></i><i style="background:linear-gradient(90deg,#6c00a8,#6900a7,#6700a7,#6501a6,#6401a6,#6401a6,#6600a7,#6a00a7,#6f00a8,#7700a7,#8200a6,#8f00a4,#9d079d,#ac1095,#b7188d,#bb1e8a,#b81a8c,#ae1293,#9f089c,#8d00a4,#7a00a7,#6700a7,#5702a3,#4a03a0,#41039d,#39049b,#36049b,#37049b,#3b049c,#3f039d,#44039e)"></i><i style="background:linear-gradient(90deg,#6b00a8,#6800a7,#6501a6,#6301a6,#6201a5,#6201a6,#6401a6,#6700a7,#6d00a8,#7500a7,#7f00a6,#8c00a5,#9b059f,#a90e96,#b4168f,#b91b8c,#b6178e,#ac1094,#9d079d,#8c00a5,#7900a7,#6700a7,#5702a3,#4b02a0,#43039e,#3b049c,#38049b,#39049b,#3c049c,#40039d,#44039e)"></i><i style="background:linear-gradient(90deg,#6a00a8,#6700a7,#6401a6,#6101a5,#6001a5,#6001a5,#6201a5,#6501a6,#6b00a8,#7300a7,#7d00a6,#8a00a5,#9804a0,#a60d98,#b11491,#b6188e,#b31590,#a90f96,#9b069f,#8a00a5,#7800a7,#6700a7,#5802a3,#4c02a0,#44039e,#3d049c,#3a049c,#3b049c,#3d049c,#41039d,#44039e)"></i><i style="background:linear-gradient(90deg,#6a00a7,#6600a6,#6201a6,#6001a5,#5e01a5,#5e01a5,#6001a5,#6301a6,#6900a7,#7100a7,#7b00a6,#8800a5,#9603a2,#a40b99,#af1293,#b41590,#b11392,#a70d97,#9904a0,#8800a5,#7700a7,#6700a7,#5801a3,#4d02a0,#46039e,#40039d,#3d049c,#3d049c,#3f039d,#42039d,#44039e)"></i><i style="background:linear-gradient(90deg,#6900a7,#6501a6,#6101a5,#5e01a5,#5d01a4,#5c01a4,#5e01a4,#6101a5,#6700a7,#6f00a8,#7900a7,#8500a5,#9401a3,#a10a9b,#ac1094,#b11391,#ae1293,#a50c99,#9703a1,#8700a5,#7600a7,#6700a7,#5901a3,#4e02a1,#47039f,#42039e,#3f039d,#3f039d,#40039d,#43039e,#45039e)"></i><i style="background:linear-gradient(90deg,#6900a7,#6401a6,#6001a5,#5d01a4,#5b01a4,#5b01a4,#5c01a4,#6001a5,#6500a6,#6d00a8,#7700a7,#8300a6,#9200a4,#9f089c,#a90f96,#ae1293,#ab1095,#a20a9a,#9502a2,#8600a5,#7600a7,#6700a7,#5901a3,#4f02a1,#48039f,#44039e,#41039d,#41039d,#42039d,#44039e,#45039e)"></i><i style="background:linear-gradient(90deg,#6800a7,#6301a6,#5f01a5,#5c01a4,#5a01a3,#5901a3,#5b01a4,#5e01a5,#6401a6,#6c00a8,#7600a7,#8200a6,#9000a4,#9d079e,#a70d97,#ac1095,#a90e96,#a0099c,#9301a3,#8400a5,#7500a7,#6700a7,#5a01a4,#5002a1,#4a039f,#46039e,#44039e,#43039e,#43039e,#45039e,#45039e)"></i><i style="background:linear-gradient(90deg,#6800a7,#6301a6,#5e01a4,#5a01a4,#5801a3,#5801a3,#5a01a3,#5d01a4,#6201a6,#6a00a8,#7400a7,#8000a6,#8e00a4,#9b059f,#a50c99,#a90f96,#a60d98,#9e079d,#9200a4,#8300a6,#7400a7,#6700a7,#5b01a4,#5202a1,#4b02a0,#47039f,#45039e,#44039e,#45039e,#45039e,#46039e)"></i><i style="background:linear-gradient(90deg,#6800a7,#6201a5,#5d01a4,#5901a3,#5702a3,#5702a3,#5801a3,#5c01a4,#6101a5,#6900a7,#7300a7,#7e00a6,#8c00a5,#9904a0,#a20a9a,#a70d98,#a40b99,#9c069e,#9000a4,#8200a6,#7400a7,#6700a7,#5c01a4,#5302a2,#4d02a0,#49039f,#47039f,#46039e,#46039e,#46039e,#46039e)"></i><i style="background:linear-gradient(90deg,#6800a7,#6201a5,#5c01a4,#5901a3,#5602a3,#5602a2,#5702a3,#5b01a4,#6001a5,#6800a7,#7100a7,#7d00a6,#8a00a5,#9703a1,#a0099c,#a40b99,#a20a9b,#9a059f,#8e00a4,#8000a6,#7300a7,#6700a7,#5c01a4,#5402a2,#4e02a0,#4a03a0,#48039f,#47039f,#47039f,#46039f,#46039f)"></i><i style="background:linear-gradient(90deg,#6800a7,#6101a5,#5c01a4,#5802a3,#5602a2,#5502a2,#5602a3,#5a01a3,#5f01a5,#6700a7,#7000a8,#7b00a6,#8800a5,#9502a2,#9e079d,#a20a9a,#9f089c,#9804a1,#8c00a5,#7f00a6,#7300a7,#6700a7,#5d01a4,#5502a2,#4f02a1,#4c02a0,#49039f,#48039f,#48039f,#47039f,#47039f)"></i><i style="background:linear-gradient(90deg,#6800a7,#6101a5,#5b01a4,#5702a3,#5502a2,#5402a2,#5502a2,#5901a3,#5e01a5,#6600a6,#6f00a8,#7a00a7,#8600a5,#9300a4,#9c069e,#a0099c,#9d079d,#9602a2,#8b00a5,#7e00a6,#7200a7,#6700a7,#5e01a4,#5602a2,#5102a1,#4d02a0,#4b03a0,#49039f,#48039f,#48039f,#47039f)"></i><i style="background:linear-gradient(90deg,#6800a7,#6101a5,#5b01a4,#5702a3,#5402a2,#5302a2,#5502a2,#5802a3,#5d01a4,#6501a6,#6e00a8,#7900a7,#8500a5,#9100a4,#9a059f,#9d079d,#9b069f,#9401a3,#8900a5,#7d00a6,#7200a7,#6700a7,#5e01a5,#5702a3,#5202a1,#4e02a1,#4c02a0,#4a03a0,#49039f,#49039f,#47039f)"></i><i style="background:linear-gradient(90deg,#6800a7,#6101a5,#5b01a4,#5602a3,#5402a2,#5302a2,#5402a2,#5702a3,#5d01a4,#6401a6,#6d00a8,#7800a7,#8400a6,#8f00a4,#9804a1,#9b069e,#9904a0,#9200a4,#8700a5,#7c00a6,#7100a7,#6700a7,#5f01a5,#5802a3,#5302a2,#4f02a1,#4d02a0,#4c02a0,#4a03a0,#49039f,#48039f)"></i><i style="background:linear-gradient(90deg,#6900a7,#6101a5,#5a01a4,#5602a2,#5302a2,#5202a2,#5402a2,#5702a3,#5c01a4,#6301a6,#6c00a8,#7700a7,#8200a6,#8d00a4,#9602a2,#9905a0,#9703a1,#9000a4,#8600a5,#7b00a6,#7100a8,#6700a7,#5f01a5,#5901a3,#5402a2,#5102a1,#4e02a1,#4d02a0,#4b02a0,#4a039f,#48039f)"></i><i style="background:linear-gradient(90deg,#6900a7,#6101a5,#5a01a4,#5602a2,#5302a2,#5202a2,#5302a2,#5602a3,#5c01a4,#6301a6,#6c00a8,#7600a7,#8100a6,#8c00a5,#9401a3,#9703a1,#9502a2,#8e00a4,#8400a5,#7a00a7,#7000a8,#6700a7,#5f01a5,#5901a3,#5502a2,#5202a1,#4f02a1,#4e02a0,#4c02a0,#4b02a0,#49039f)"></i><i style="background:linear-gradient(90deg,#6900a7,#6101a5,#5a01a4,#5602a2,#5302a2,#5202a1,#5302a2,#5602a3,#5b01a4,#6201a6,#6b00a8,#7500a7,#8000a6,#8a00a5,#9200a4,#9502a2,#9301a3,#8c00a5,#8300a6,#7900a7,#6f00a8,#6700a7,#6001a5,#5a01a3,#5602a2,#5302a2,#5002a1,#4f02a1,#4d02a0,#4b02a0,#49039f)"></i><i style="background:linear-gradient(90deg,#6a00a7,#6101a5,#5a01a4,#5602a2,#5302a2,#5202a1,#5302a2,#5602a2,#5b01a4,#6201a5,#6b00a8,#7400a7,#7f00a6,#8900a5,#9000a4,#9301a3,#9100a4,#8a00a5,#8100a6,#7700a7,#6f00a8,#6700a7,#6001a5,#5a01a4,#5602a3,#5402a2,#5102a1,#5002a1,#4e02a1,#4c02a0,#4a039f)"></i><i style="background:linear-gradient(90deg,#6a00a8,#6101a5,#5a01a4,#5602a2,#5302a2,#5202a1,#5302a2,#5602a2,#5b01a4,#6201a5,#6a00a8,#7300a7,#7e00a6,#8700a5,#8e00a4,#9100a4,#8f00a4,#8800a5,#8000a6,#7600a7,#6e00a8,#6600a7,#6001a5,#5b01a4,#5702a3,#5402a2,#5202a2,#5102a1,#4f02a1,#4d02a0,#4a03a0)"></i><i style="background:linear-gradient(90deg,#6b00a8,#6201a5,#5b01a4,#5602a2,#5302a2,#5202a1,#5302a2,#5602a2,#5b01a4,#6101a5,#6a00a7,#7300a7,#7d00a6,#8600a5,#8d00a5,#8f00a4,#8d00a5,#8700a5,#7e00a6,#7500a7,#6d00a8,#6600a6,#6001a5,#5b01a4,#5702a3,#5502a2,#5302a2,#5102a1,#5002a1,#4e02a0,#4b03a0)"></i><i style="background:linear-gradient(90deg,#6b00a8,#6201a6,#5b01a4,#5602a2,#5302a2,#5202a1,#5302a2,#5602a2,#5b01a4,#6101a5,#6900a7,#7200a7,#7c00a6,#8400a5,#8b00a5,#8e00a4,#8b00a5,#8500a5,#7d00a6,#7400a7,#6c00a8,#6501a6,#5f01a5,#5b01a4,#5802a3,#5502a2,#5402a2,#5202a2,#5002a1,#4e02a1,#4b02a0)"></i><i style="background:linear-gradient(90deg,#6c00a8,#6201a6,#5b01a4,#5602a3,#5302a2,#5202a2,#5302a2,#5602a2,#5b01a4,#6101a5,#6900a7,#7200a7,#7b00a6,#8300a6,#8900a5,#8c00a5,#8900a5,#8300a6,#7b00a6,#7300a7,#6b00a8,#6401a6,#5f01a5,#5b01a4,#5802a3,#5602a2,#5402a2,#5302a2,#5102a1,#4f02a1,#4c02a0)"></i><i style="background:linear-gradient(90deg,#6c00a8,#6301a6,#5c01a4,#5702a3,#5302a2,#5202a2,#5302a2,#5602a2,#5b01a4,#6101a5,#6900a7,#7100a7,#7a00a7,#8200a6,#8800a5,#8a00a5,#8700a5,#8100a6,#7900a7,#7100a7,#6a00a7,#6301a6,#5e01a4,#5a01a4,#5702a3,#5602a2,#5402a2,#5302a2,#5202a1,#4f02a1,#4c02a0)"></i><i style="background:linear-gradient(90deg,#6d00a8,#6301a6,#5c01a4,#5702a3,#5402a2,#5302a2,#5302a2,#5602a3,#5b01a4,#6101a5,#6900a7,#7100a7,#7900a7,#8100a6,#8600a5,#8800a5,#8600a5,#8000a6,#7800a7,#7000a8,#6900a7,#6201a6,#5d01a4,#5901a3,#5702a3,#5602a2,#5502a2,#5402a2,#5202a2,#5002a1,#4d02a0)"></i><i style="background:linear-gradient(90deg,#6d00a8,#6401a6,#5d01a4,#5802a3,#5402a2,#5302a2,#5402a2,#5602a3,#5b01a4,#6101a5,#6900a7,#7100a8,#7900a7,#8000a6,#8500a5,#8700a5,#8400a5,#7e00a6,#7600a7,#6e00a8,#6700a7,#6101a5,#5c01a4,#5801a3,#5602a3,#5502a2,#5502a2,#5402a2,#5302a2,#5102a1,#4d02a0)"></i><i style="background:linear-gradient(90deg,#6e00a8,#6501a6,#5d01a4,#5801a3,#5502a2,#5402a2,#5402a2,#5702a3,#5b01a4,#6101a5,#6900a7,#7000a8,#7800a7,#7f00a6,#8400a6,#8500a5,#8200a6,#7c00a6,#7500a7,#6d00a8,#6600a6,#5f01a5,#5b01a4,#5702a3,#5602a2,#5502a2,#5402a2,#5402a2,#5302a2,#5102a1,#4e02a0)"></i><i style="background:linear-gradient(90deg,#6e00a8,#6501a6,#5e01a5,#5901a3,#5602a2,#5402a2,#5502a2,#5702a3,#5b01a4,#6101a5,#6900a7,#7000a8,#7700a7,#7e00a6,#8200a6,#8300a6,#8100a6,#7b00a6,#7300a7,#6b00a8,#6401a6,#5e01a4,#5901a3,#5602a3,#5502a2,#5402a2,#5402a2,#5402a2,#5402a2,#5202a1,#4e02a1)"></i><i style="background:linear-gradient(90deg,#6e00a8,#6600a6,#5f01a5,#5a01a3,#5602a3,#5502a2,#5502a2,#5802a3,#5c01a4,#6201a5,#6900a7,#7000a8,#7700a7,#7d00a6,#8100a6,#8200a6,#7f00a6,#7900a7,#7200a7,#6a00a7,#6301a6,#5c01a4,#5802a3,#5502a2,#5402a2,#5402a2,#5402a2,#5402a2,#5402a2,#5202a2,#4f02a1)"></i><i style="background:linear-gradient(90deg,#6f00a8,#6600a7,#5f01a5,#5a01a4,#5702a3,#5502a2,#5602a2,#5801a3,#5c01a4,#6201a5,#6900a7,#7000a8,#7700a7,#7c00a6,#8000a6,#8000a6,#7d00a6,#7800a7,#7000a8,#6800a7,#6101a5,#5b01a4,#5602a3,#5302a2,#5202a2,#5302a2,#5402a2,#5402a2,#5402a2,#5302a2,#4f02a1)"></i><i style="background:linear-gradient(90deg,#6f00a8,#6700a7,#6001a5,#5b01a4,#5802a3,#5602a3,#5602a3,#5901a3,#5d01a4,#6201a6,#6900a7,#7000a8,#7600a7,#7b00a6,#7f00a6,#7f00a6,#7c00a6,#7600a7,#6f00a8,#6700a7,#5f01a5,#5901a3,#5402a2,#5202a1,#5102a1,#5202a1,#5302a2,#5402a2,#5402a2,#5302a2,#5002a1)"></i><i style="background:linear-gradient(90deg,#7000a8,#6800a7,#6101a5,#5c01a4,#5801a3,#5702a3,#5702a3,#5901a3,#5d01a4,#6301a6,#6900a7,#7000a8,#7600a7,#7b00a6,#7e00a6,#7e00a6,#7a00a6,#7500a7,#6d00a8,#6501a6,#5e01a4,#5702a3,#5202a2,#5002a1,#5002a1,#5102a1,#5302a2,#5402a2,#5502a2,#5402a2,#5002a1)"></i><i style="background:linear-gradient(90deg,#7000a8,#6800a7,#6201a5,#5d01a4,#5901a3,#5802a3,#5802a3,#5a01a3,#5e01a4,#6301a6,#6900a7,#7000a8,#7600a7,#7a00a7,#7d00a6,#7d00a6,#7900a7,#7300a7,#6c00a8,#6301a6,#5c01a4,#5502a2,#5102a1,#4e02a1,#4e02a1,#5002a1,#5202a1,#5402a2,#5502a2,#5402a2,#5102a1)"></i><i style="background:linear-gradient(90deg,#7100a8,#6900a7,#6201a6,#5d01a4,#5a01a4,#5801a3,#5801a3,#5a01a4,#5e01a5,#6301a6,#6a00a7,#7000a8,#7500a7,#7a00a7,#7c00a6,#7b00a6,#7800a7,#7200a7,#6a00a8,#6201a5,#5a01a4,#5302a2,#4f02a1,#4d02a0,#4d02a0,#4f02a1,#5102a1,#5402a2,#5502a2,#5502a2,#5102a1)"></i><i style="background:linear-gradient(90deg,#7100a7,#6a00a7,#6301a6,#5e01a5,#5b01a4,#5901a3,#5901a3,#5b01a4,#5f01a5,#6401a6,#6a00a7,#7000a8,#7500a7,#7900a7,#7b00a6,#7a00a6,#7700a7,#7000a8,#6900a7,#6001a5,#5801a3,#5202a1,#4d02a0,#4b02a0,#4b02a0,#4e02a0,#5102a1,#5302a2,#5502a2,#5502a2,#5202a1)"></i><i style="background:linear-gradient(90deg,#7100a7,#6a00a8,#6401a6,#5f01a5,#5c01a4,#5a01a4,#5a01a3,#5c01a4,#5f01a5,#6401a6,#6a00a8,#7000a8,#7500a7,#7900a7,#7a00a7,#7900a7,#7500a7,#6f00a8,#6700a7,#5f01a5,#5702a3,#5002a1,#4b02a0,#49039f,#4a039f,#4c02a0,#5002a1,#5302a2,#5502a2,#5502a2,#5202a2)"></i><i style="background:linear-gradient(90deg,#7200a7,#6b00a8,#6501a6,#6001a5,#5d01a4,#5b01a4,#5b01a4,#5c01a4,#6001a5,#6501a6,#6b00a8,#7000a8,#7500a7,#7800a7,#7900a7,#7800a7,#7400a7,#6e00a8,#6600a7,#5e01a4,#5502a2,#4e02a1,#49039f,#47039f,#48039f,#4b02a0,#4f02a1,#5302a2,#5602a2,#5602a2,#5302a2)"></i><i style="background:linear-gradient(90deg,#7200a7,#6b00a8,#6500a6,#6101a5,#5d01a4,#5c01a4,#5c01a4,#5d01a4,#6101a5,#6500a6,#6b00a8,#7000a8,#7500a7,#7800a7,#7900a7,#7700a7,#7300a7,#6d00a8,#6501a6,#5c01a4,#5402a2,#4c02a0,#47039f,#45039e,#47039f,#4a03a0,#4e02a1,#5302a2,#5602a2,#5602a3,#5302a2)"></i><i style="background:linear-gradient(90deg,#7200a7,#6c00a8,#6600a7,#6201a5,#5e01a5,#5d01a4,#5c01a4,#5e01a4,#6101a5,#6600a6,#6b00a8,#7100a8,#7500a7,#7700a7,#7800a7,#7700a7,#7200a7,#6c00a8,#6401a6,#5b01a4,#5202a2,#4b02a0,#46039e,#44039e,#45039e,#49039f,#4e02a0,#5202a2,#5602a2,#5702a3,#5402a2)"></i><i style="background:linear-gradient(90deg,#7300a7,#6c00a8,#6700a7,#6201a6,#5f01a5,#5d01a4,#5d01a4,#5f01a5,#6201a5,#6700a7,#6c00a8,#7100a7,#7500a7,#7700a7,#7800a7,#7600a7,#7200a7,#6b00a8,#6301a6,#5a01a3,#5102a1,#49039f,#44039e,#41039d,#44039e,#48039f,#4d02a0,#5202a2,#5602a2,#5702a3,#5502a2)"></i><i style="background:linear-gradient(90deg,#7300a7,#6d00a8,#6800a7,#6301a6,#6001a5,#5e01a5,#5e01a4,#5f01a5,#6301a6,#6700a7,#6c00a8,#7100a7,#7500a7,#7700a7,#7700a7,#7500a7,#7100a7,#6a00a8,#6201a5,#5901a3,#5002a1,#48039f,#41039d,#3e049d,#41039d,#47039f,#4c02a0,#5202a1,#5602a2,#5802a3,#5502a2)"></i><i style="background:linear-gradient(90deg,#7300a7,#6d00a8,#6800a7,#6401a6,#6101a5,#5f01a5,#5f01a5,#6001a5,#6301a6,#6800a7,#6d00a8,#7100a7,#7500a7,#7700a7,#7700a7,#7500a7,#7000a8,#6900a7,#6101a5,#5802a3,#4f02a1,#47039f,#3f039d,#3c049c,#3f039d,#46039e,#4c02a0,#5202a1,#5602a3,#5802a3,#5602a2)"></i><i style="background:linear-gradient(90deg,#7300a7,#6e00a8,#6900a7,#6501a6,#6201a5,#6001a5,#6001a5,#6101a5,#6401a6,#6800a7,#6d00a8,#7200a7,#7500a7,#7700a7,#7700a7,#7400a7,#7000a8,#6900a7,#6001a5,#5702a3,#4e02a0,#45039e,#3d049c,#3a049c,#3e049c,#45039e,#4b02a0,#5102a1,#5602a3,#5801a3,#5602a3)"></i><i style="background:linear-gradient(90deg,#7300a7,#6e00a8,#6900a7,#6500a6,#6201a6,#6101a5,#6001a5,#6201a5,#6501a6,#6900a7,#6e00a8,#7200a7,#7500a7,#7700a7,#7600a7,#7400a7,#6f00a8,#6800a7,#6001a5,#5602a3,#4d02a0,#44039e,#3b049c,#38049b,#3c049c,#44039e,#4b02a0,#5102a1,#5602a3,#5901a3,#5702a3)"></i><i style="background:linear-gradient(90deg,#7400a7,#6e00a8,#6a00a7,#6600a6,#6301a6,#6101a5,#6101a5,#6201a6,#6500a6,#6a00a7,#6e00a8,#7300a7,#7600a7,#7700a7,#7600a7,#7400a7,#6f00a8,#6800a7,#5f01a5,#5602a2,#4c02a0,#43039e,#39049b,#36049b,#3b049c,#43039e,#4a03a0,#5102a1,#5602a3,#5901a3,#5802a3)"></i><i style="background:linear-gradient(90deg,#7400a7,#6f00a8,#6a00a8,#6700a7,#6401a6,#6201a6,#6201a5,#6301a6,#6600a7,#6a00a8,#6f00a8,#7300a7,#7600a7,#7700a7,#7600a7,#7300a7,#6f00a8,#6800a7,#5f01a5,#5502a2,#4b02a0,#42039e,#38049b,#35049b,#39049c,#43039e,#4a03a0,#5102a1,#5702a3,#5a01a3,#5801a3)"></i><i style="background:linear-gradient(90deg,#7400a7,#6f00a8,#6b00a8,#6700a7,#6401a6,#6301a6,#6301a6,#6401a6,#6700a7,#6b00a8,#6f00a8,#7300a7,#7600a7,#7700a7,#7600a7,#7300a7,#6e00a8,#6700a7,#5f01a5,#5502a2,#4b02a0,#41039d,#37049b,#34049a,#39049b,#42039e,#4a039f,#5102a1,#5702a3,#5a01a4,#5901a3)"></i><i style="background:linear-gradient(90deg,#7400a7,#6f00a8,#6b00a8,#6800a7,#6501a6,#6401a6,#6301a6,#6501a6,#6800a7,#6c00a8,#7000a8,#7400a7,#7600a7,#7700a7,#7600a7,#7300a7,#6e00a8,#6700a7,#5f01a5,#5502a2,#4b02a0,#41039d,#37049b,#34049a,#38049b,#42039d,#4a039f,#5102a1,#5702a3,#5a01a4,#5a01a3)"></i><i style="background:linear-gradient(90deg,#7400a7,#6f00a8,#6b00a8,#6800a7,#6600a6,#6401a6,#6401a6,#6500a6,#6800a7,#6c00a8,#7100a8,#7400a7,#7700a7,#7800a7,#7700a7,#7300a7,#6e00a8,#6700a7,#5f01a5,#5502a2,#4b02a0,#41039d,#37049b,#34049a,#38049b,#42039d,#4a039f,#5102a1,#5702a3,#5b01a4,#5a01a4)"></i><i style="background:linear-gradient(90deg,#7300a7,#6f00a8,#6b00a8,#6800a7,#6600a7,#6501a6,#6501a6,#6600a7,#6900a7,#6d00a8,#7100a7,#7500a7,#7700a7,#7800a7,#7700a7,#7400a7,#6f00a8,#6800a7,#5f01a5,#5502a2,#4b02a0,#41039d,#37049b,#34049a,#38049b,#42039d,#4a039f,#5102a1,#5702a3,#5b01a4,#5b01a4)"></i><i style="background:linear-gradient(90deg,#7300a7,#6f00a8,#6c00a8,#6900a7,#6600a7,#6501a6,#6500a6,#6700a7,#6a00a7,#6e00a8,#7200a7,#7500a7,#7800a7,#7800a7,#7700a7,#7400a7,#6f00a8,#6800a7,#5f01a5,#5602a2,#4c02a0,#42039d,#37049b,#34049a,#38049b,#42039d,#4a039f,#5102a1,#5802a3,#5c01a4,#5c01a4)"></i><i style="background:linear-gradient(90deg,#7300a7,#6f00a8,#6c00a8,#6900a7,#6700a7,#6600a6,#6600a6,#6700a7,#6a00a8,#6e00a8,#7200a7,#7600a7,#7800a7,#7900a7,#7800a7,#7400a7,#6f00a8,#6800a7,#6001a5,#5602a3,#4c02a0,#43039e,#38049b,#35049a,#39049b,#42039e,#4a03a0,#5102a1,#5802a3,#5c01a4,#5c01a4)"></i><i style="background:linear-gradient(90deg,#7300a7,#6f00a8,#6c00a8,#6900a7,#6700a7,#6600a7,#6700a7,#6800a7,#6b00a8,#6f00a8,#7300a7,#7600a7,#7900a7,#7900a7,#7800a7,#7500a7,#7000a8,#6900a7,#6101a5,#5702a3,#4d02a0,#44039e,#39049b,#36049b,#3a049c,#43039e,#4a03a0,#5202a1,#5801a3,#5c01a4,#5d01a4)"></i><i style="background:linear-gradient(90deg,#7300a7,#6f00a8,#6c00a8,#6900a7,#6800a7,#6700a7,#6700a7,#6900a7,#6b00a8,#6f00a8,#7300a7,#7700a7,#7900a7,#7a00a7,#7900a7,#7600a7,#7100a7,#6a00a8,#6201a5,#5802a3,#4e02a0,#45039e,#3b049c,#37049b,#3b049c,#43039e,#4b03a0,#5202a1,#5801a3,#5c01a4,#5d01a4)"></i><i style="background:linear-gradient(90deg,#7300a7,#6f00a8,#6c00a8,#6900a7,#6800a7,#6700a7,#6700a7,#6900a7,#6c00a8,#7000a8,#7400a7,#7700a7,#7a00a7,#7a00a6,#7a00a7,#7700a7,#7200a7,#6b00a8,#6301a6,#5901a3,#4f02a1,#46039e,#3c049c,#38049b,#3c049c,#44039e,#4b02a0,#5202a2,#5801a3,#5d01a4,#5d01a4)"></i><i style="background:linear-gradient(90deg,#7200a7,#6f00a8,#6c00a8,#6a00a7,#6800a7,#6700a7,#6800a7,#6a00a7,#6d00a8,#7000a8,#7400a7,#7800a7,#7a00a6,#7b00a6,#7a00a6,#7800a7,#7300a7,#6c00a8,#6401a6,#5b01a4,#5002a1,#47039f,#3e039d,#3a049c,#3d049c,#45039e,#4b02a0,#5202a2,#5801a3,#5d01a4,#5e01a4)"></i><i style="background:linear-gradient(90deg,#7200a7,#6f00a8,#6c00a8,#6a00a7,#6800a7,#6800a7,#6800a7,#6a00a7,#6d00a8,#7100a8,#7500a7,#7800a7,#7b00a6,#7c00a6,#7b00a6,#7900a7,#7400a7,#6e00a8,#6600a6,#5c01a4,#5202a1,#49039f,#41039d,#3c049c,#3f039d,#45039e,#4c02a0,#5202a2,#5801a3,#5d01a4,#5e01a4)"></i><i style="background:linear-gradient(90deg,#7200a7,#6f00a8,#6c00a8,#6a00a7,#6800a7,#6800a7,#6900a7,#6a00a8,#6d00a8,#7100a7,#7500a7,#7900a7,#7c00a6,#7d00a6,#7c00a6,#7a00a7,#7600a7,#7000a8,#6700a7,#5e01a4,#5402a2,#4a03a0,#43039e,#3e039d,#40039d,#46039f,#4c02a0,#5302a2,#5801a3,#5d01a4,#5e01a4)"></i><i style="background:linear-gradient(90deg,#7200a7,#6e00a8,#6c00a8,#6a00a7,#6800a7,#6800a7,#6900a7,#6b00a8,#6e00a8,#7100a7,#7600a7,#7900a7,#7c00a6,#7e00a6,#7e00a6,#7c00a6,#7700a7,#7100a7,#6a00a7,#6001a5,#5602a2,#4c02a0,#45039e,#41039d,#42039e,#47039f,#4c02a0,#5302a2,#5801a3,#5d01a4,#5e01a4)"></i><i style="background:linear-gradient(90deg,#7100a7,#6e00a8,#6c00a8,#6a00a7,#6800a7,#6800a7,#6900a7,#6b00a8,#6e00a8,#7200a7,#7600a7,#7a00a7,#7d00a6,#7f00a6,#7f00a6,#7d00a6,#7900a7,#7300a7,#6c00a8,#6201a6,#5801a3,#4e02a1,#47039f,#43039e,#44039e,#48039f,#4d02a0,#5302a2,#5801a3,#5c01a4,#5e01a4)"></i><i style="background:linear-gradient(90deg,#7100a7,#6e00a8,#6c00a8,#6a00a7,#6800a7,#6800a7,#6900a7,#6b00a8,#6e00a8,#7200a7,#7600a7,#7a00a6,#7e00a6,#8000a6,#8100a6,#7f00a6,#7b00a6,#7600a7,#6e00a8,#6501a6,#5a01a4,#5102a1,#49039f,#45039e,#45039e,#48039f,#4d02a0,#5302a2,#5801a3,#5c01a4,#5d01a4)"></i><i style="background:linear-gradient(90deg,#7100a7,#6e00a8,#6b00a8,#6a00a7,#6800a7,#6800a7,#6900a7,#6b00a8,#6e00a8,#7200a7,#7700a7,#7b00a6,#7f00a6,#8100a6,#8200a6,#8100a6,#7e00a6,#7800a7,#7100a7,#6800a7,#5d01a4,#5302a2,#4b02a0,#47039f,#47039f,#49039f,#4e02a0,#5302a2,#5802a3,#5b01a4,#5d01a4)"></i><i style="background:linear-gradient(90deg,#7100a8,#6e00a8,#6b00a8,#6900a7,#6800a7,#6800a7,#6900a7,#6b00a8,#6e00a8,#7200a7,#7700a7,#7b00a6,#8000a6,#8200a6,#8400a5,#8300a6,#8000a6,#7b00a6,#7400a7,#6b00a8,#6001a5,#5602a2,#4e02a0,#49039f,#48039f,#4a03a0,#4e02a1,#5302a2,#5702a3,#5b01a4,#5c01a4)"></i><i style="background:linear-gradient(90deg,#7000a8,#6e00a8,#6b00a8,#6900a7,#6800a7,#6800a7,#6900a7,#6b00a8,#6e00a8,#7200a7,#7700a7,#7c00a6,#8000a6,#8400a5,#8600a5,#8600a5,#8300a6,#7e00a6,#7700a7,#6e00a8,#6301a6,#5901a3,#5002a1,#4b02a0,#49039f,#4b02a0,#4e02a1,#5302a2,#5702a3,#5a01a4,#5b01a4)"></i><i style="background:linear-gradient(90deg,#7000a8,#6d00a8,#6b00a8,#6900a7,#6800a7,#6800a7,#6900a7,#6b00a8,#6e00a8,#7200a7,#7700a7,#7c00a6,#8100a6,#8500a5,#8800a5,#8800a5,#8600a5,#8100a6,#7a00a7,#7100a7,#6600a7,#5c01a4,#5202a2,#4d02a0,#4b02a0,#4c02a0,#4f02a1,#5302a2,#5602a3,#5901a3,#5a01a4)"></i><i style="background:linear-gradient(90deg,#7000a8,#6d00a8,#6b00a8,#6900a7,#6800a7,#6800a7,#6900a7,#6b00a8,#6e00a8,#7200a7,#7700a7,#7d00a6,#8200a6,#8700a5,#8a00a5,#8b00a5,#8900a5,#8500a5,#7e00a6,#7500a7,#6a00a7,#5f01a5,#5502a2,#4f02a1,#4c02a0,#4d02a0,#4f02a1,#5202a2,#5602a2,#5801a3,#5901a3)"></i><i style="background:linear-gradient(90deg,#7000a8,#6d00a8,#6b00a8,#6900a7,#6800a7,#6700a7,#6800a7,#6a00a8,#6e00a8,#7200a7,#7800a7,#7d00a6,#8300a6,#8900a5,#8c00a5,#8e00a4,#8d00a5,#8900a5,#8200a6,#7900a7,#6e00a8,#6201a6,#5802a3,#5102a1,#4e02a0,#4e02a0,#4f02a1,#5202a2,#5502a2,#5702a3,#5802a3)"></i><i style="background:linear-gradient(90deg,#7000a8,#6d00a8,#6b00a8,#6900a7,#6700a7,#6700a7,#6800a7,#6a00a7,#6d00a8,#7200a7,#7800a7,#7e00a6,#8400a5,#8a00a5,#8f00a4,#9100a4,#9100a4,#8d00a5,#8600a5,#7d00a6,#7200a7,#6600a6,#5b01a4,#5302a2,#4f02a1,#4f02a1,#5002a1,#5202a1,#5402a2,#5602a3,#5602a3)"></i><i style="background:linear-gradient(90deg,#7000a8,#6d00a8,#6b00a8,#6900a7,#6700a7,#6700a7,#6700a7,#6900a7,#6d00a8,#7200a7,#7800a7,#7e00a6,#8500a5,#8c00a5,#9200a4,#9402a3,#9401a3,#9100a4,#8b00a5,#8100a6,#7600a7,#6900a7,#5e01a4,#5602a2,#5102a1,#4f02a1,#5002a1,#5102a1,#5302a2,#5502a2,#5502a2)"></i><i style="background:linear-gradient(90deg,#6f00a8,#6d00a8,#6b00a8,#6800a7,#6700a7,#6600a7,#6700a7,#6900a7,#6c00a8,#7100a7,#7700a7,#7f00a6,#8600a5,#8e00a4,#9401a3,#9804a1,#9804a0,#9502a2,#8f00a4,#8600a5,#7a00a7,#6d00a8,#6101a5,#5802a3,#5302a2,#5002a1,#5002a1,#5102a1,#5202a2,#5302a2,#5302a2)"></i><i style="background:linear-gradient(90deg,#6f00a8,#6d00a8,#6b00a8,#6800a7,#6700a7,#6600a6,#6600a7,#6800a7,#6c00a8,#7100a7,#7700a7,#7f00a6,#8800a5,#9000a4,#9703a1,#9b069f,#9c069e,#9a059f,#9401a3,#8b00a5,#7e00a6,#7100a7,#6401a6,#5a01a4,#5402a2,#5102a1,#5002a1,#5002a1,#5102a1,#5202a1,#5102a1)"></i><i style="background:linear-gradient(90deg,#7000a8,#6d00a8,#6b00a8,#6800a7,#6700a7,#6600a6,#6600a6,#6800a7,#6b00a8,#7000a8,#7700a7,#7f00a6,#8900a5,#9200a4,#9905a0,#9e089d,#a0099c,#9e089d,#9904a0,#8f00a4,#8300a6,#7500a7,#6800a7,#5d01a4,#5602a2,#5202a2,#5002a1,#5002a1,#5002a1,#5002a1,#4f02a1)"></i><i style="background:linear-gradient(90deg,#7000a8,#6d00a8,#6b00a8,#6800a7,#6600a7,#6501a6,#6501a6,#6700a7,#6a00a8,#7000a8,#7700a7,#8000a6,#8a00a5,#9401a3,#9c069e,#a20a9a,#a40b99,#a30a9a,#9d079d,#9401a3,#8700a5,#7900a7,#6b00a8,#5f01a5,#5802a3,#5302a2,#5002a1,#4f02a1,#4f02a1,#4e02a0,#4c02a0)"></i><i style="background:linear-gradient(90deg,#7000a8,#6e00a8,#6b00a8,#6900a7,#6600a7,#6501a6,#6501a6,#6600a7,#6a00a7,#6f00a8,#7700a7,#8000a6,#8b00a5,#9502a2,#9f089c,#a50c98,#a80e97,#a70d97,#a20a9a,#9904a0,#8c00a5,#7d00a6,#6e00a8,#6201a6,#5901a3,#5402a2,#5002a1,#4e02a1,#4d02a0,#4c02a0,#4a039f)"></i><i style="background:linear-gradient(90deg,#7000a8,#6e00a8,#6c00a8,#6900a7,#6600a7,#6501a6,#6401a6,#6500a6,#6900a7,#6f00a8,#7600a7,#8000a6,#8c00a5,#9703a1,#a10a9b,#a90e96,#ac1194,#ac1094,#a70d97,#9e089d,#9100a4,#8100a6,#7200a7,#6501a6,#5b01a4,#5502a2,#5002a1,#4e02a0,#4c02a0,#4a03a0,#47039f)"></i><i style="background:linear-gradient(90deg,#7100a7,#6f00a8,#6d00a8,#6a00a7,#6700a7,#6501a6,#6401a6,#6501a6,#6800a7,#6e00a8,#7600a7,#8000a6,#8c00a5,#9904a0,#a40b99,#ac1094,#b01392,#b01392,#ac1094,#a30b9a,#9602a2,#8600a5,#7500a7,#6800a7,#5d01a4,#5602a2,#5102a1,#4d02a0,#4a03a0,#48039f,#45039e)"></i><i style="background:linear-gradient(90deg,#7200a7,#7000a8,#6d00a8,#6a00a8,#6700a7,#6501a6,#6301a6,#6401a6,#6700a7,#6d00a8,#7600a7,#8000a6,#8d00a4,#9a059f,#a60d98,#af1292,#b4168f,#b5168f,#b11391,#a80e97,#9a059f,#8a00a5,#7900a7,#6a00a8,#5f01a5,#5702a3,#5102a1,#4c02a0,#49039f,#46039e,#41039d)"></i><i style="background:linear-gradient(90deg,#7300a7,#7100a7,#6f00a8,#6b00a8,#6800a7,#6501a6,#6301a6,#6301a6,#6700a7,#6d00a8,#7500a7,#8000a6,#8e00a4,#9c069e,#a80e97,#b21491,#b8198d,#b91b8c,#b6178e,#ad1194,#9f089c,#8e00a4,#7d00a6,#6d00a8,#6101a5,#5802a3,#5102a1,#4c02a0,#48039f,#44039e,#3d049c)"></i><i style="background:linear-gradient(90deg,#7400a7,#7300a7,#7000a8,#6c00a8,#6800a7,#6501a6,#6301a6,#6301a6,#6600a6,#6c00a8,#7500a7,#8000a6,#8f00a4,#9d079d,#ab0f95,#b5168f,#bb1d8a,#bc1f89,#ba1c8b,#b21491,#a40b99,#9300a4,#8000a6,#7000a8,#6301a6,#5901a3,#5102a1,#4b02a0,#46039f,#40039d,#38049b)"></i><i style="background:linear-gradient(90deg,#7500a7,#7400a7,#7100a7,#6e00a8,#6900a7,#6500a6,#6301a6,#6201a6,#6501a6,#6b00a8,#7400a7,#8000a6,#8f00a4,#9e089d,#ad1194,#b8198d,#be2187,#c02486,#be2188,#b6188e,#a80e97,#9703a1,#8400a5,#7300a7,#6501a6,#5a01a3,#5102a1,#4a03a0,#45039e,#3d049c,#34049a)"></i><i style="background:linear-gradient(90deg,#7600a7,#7600a7,#7300a7,#6f00a8,#6a00a8,#6600a6,#6301a6,#6201a6,#6501a6,#6b00a8,#7400a7,#8000a6,#9000a4,#9f089c,#ae1293,#ba1c8b,#c12485,#c32883,#c12584,#ba1d8a,#ad1194,#9b069f,#8800a5,#7600a7,#6700a7,#5b01a4,#5102a1,#49039f,#42039e,#39049b,#300599)"></i><i style="background:linear-gradient(90deg,#7800a7,#7800a7,#7500a7,#7100a7,#6c00a8,#6700a7,#6301a6,#6201a5,#6401a6,#6a00a8,#7300a7,#8000a6,#9000a4,#a0099c,#b01392,#bc1e89,#c32883,#c72c80,#c52a81,#be2287,#b21491,#9f089c,#8c00a5,#7900a7,#6900a7,#5c01a4,#5102a1,#49039f,#40039d,#35049b,#2c0598)"></i><i style="background:linear-gradient(90deg,#7a00a7,#7a00a6,#7800a7,#7300a7,#6d00a8,#6800a7,#6401a6,#6201a5,#6401a6,#6900a7,#7300a7,#8000a6,#9000a4,#a1099b,#b11391,#bd2088,#c52a81,#ca2f7d,#c92e7e,#c22684,#b6178e,#a30b9a,#8f00a4,#7c00a6,#6b00a8,#5d01a4,#5202a1,#48039f,#3d049c,#32059a,#280697)"></i><i style="background:linear-gradient(90deg,#7c00a6,#7d00a6,#7a00a6,#7500a7,#6f00a8,#6900a7,#6401a6,#6201a5,#6301a6,#6900a7,#7200a7,#7f00a6,#9000a4,#a1099b,#b21491,#bf2287,#c82d7f,#cc337b,#cc337b,#c62b80,#ba1c8b,#a80e97,#9301a3,#7f00a6,#6e00a8,#5e01a5,#5202a1,#47039f,#3b049c,#2f0599,#240696)"></i><i style="background:linear-gradient(90deg,#7f00a6,#8000a6,#7d00a6,#7800a7,#7200a7,#6b00a8,#6501a6,#6201a5,#6301a6,#6800a7,#7200a7,#7f00a6,#9000a4,#a10a9b,#b21491,#c02386,#c92f7e,#cf3679,#cf3778,#c92f7d,#bd2088,#ac1095,#9703a1,#8200a6,#7000a8,#6001a5,#5202a2,#47039f,#39049b,#2b0598,#200695)"></i><i style="background:linear-gradient(90deg,#8200a6,#8300a6,#8100a6,#7b00a6,#7400a7,#6d00a8,#6600a7,#6201a6,#6301a6,#6800a7,#7100a7,#7e00a6,#8f00a4,#a1099b,#b31590,#c02485,#cb317c,#d13977,#d23a76,#cd347a,#c12585,#b01392,#9a059f,#8500a5,#7200a7,#6101a5,#5302a2,#46039f,#36049b,#280597,#1d0792)"></i><i style="background:linear-gradient(90deg,#8500a5,#8700a5,#8500a5,#7f00a6,#7700a7,#6f00a8,#6700a7,#6301a6,#6201a6,#6700a7,#7000a8,#7e00a6,#8f00a4,#a1099b,#b31490,#c12485,#cc327b,#d33b75,#d43d73,#d03878,#c42982,#b41590,#9e089d,#8800a5,#7500a7,#6301a6,#5302a2,#46039e,#34049a,#250697,#1a0790)"></i><i style="background:linear-gradient(90deg,#8800a5,#8b00a5,#8900a5,#8300a6,#7a00a7,#7100a7,#6900a7,#6301a6,#6201a6,#6700a7,#7000a8,#7d00a6,#8e00a4,#a0099c,#b21491,#c12485,#cc337b,#d43d74,#d64071,#d33b75,#c82d7f,#b7198d,#a20a9b,#8c00a5,#7700a7,#6401a6,#5402a2,#45039e,#32059a,#220696,#17078e)"></i><i style="background:linear-gradient(90deg,#8c00a5,#9000a4,#8d00a4,#8700a5,#7e00a6,#7400a7,#6b00a8,#6401a6,#6201a6,#6600a7,#6f00a8,#7c00a6,#8d00a5,#9f089c,#b11391,#c02485,#cd337b,#d53e73,#d8426f,#d53e72,#cb317c,#bb1d8a,#a50c98,#8f00a4,#7900a7,#6600a6,#5402a2,#45039e,#300599,#200694,#15088d)"></i><i style="background:linear-gradient(90deg,#9000a4,#9401a3,#9200a4,#8c00a5,#8200a6,#7700a7,#6d00a8,#6501a6,#6301a6,#6600a7,#6e00a8,#7b00a6,#8b00a5,#9d079d,#af1292,#bf2386,#cc337b,#d53f72,#d9446e,#d74170,#ce3579,#be2187,#a90f96,#9300a4,#7c00a6,#6800a7,#5502a2,#45039e,#2f0599,#1e0793,#13088b)"></i><i style="background:linear-gradient(90deg,#9401a3,#9905a0,#9703a1,#9100a4,#8600a5,#7a00a6,#6f00a8,#6600a7,#6301a6,#6600a6,#6e00a8,#7a00a7,#8a00a5,#9b069e,#ad1194,#be2187,#cc327b,#d63f72,#da466c,#d9446e,#d13977,#c12585,#ad1194,#9602a2,#7f00a6,#6900a7,#5602a2,#45039e,#2d0599,#1c0791,#11088a)"></i><i style="background:linear-gradient(90deg,#9804a0,#9e089d,#9d079e,#9602a2,#8b00a5,#7e00a6,#7200a7,#6800a7,#6301a6,#6500a6,#6d00a8,#7800a7,#8800a5,#9905a0,#ab1095,#bc1f89,#cb317c,#d63f72,#db476b,#da466c,#d33c74,#c42982,#b01392,#9904a0,#8100a6,#6b00a8,#5602a3,#44039e,#2c0598,#1a0790,#0f0889)"></i><i style="background:linear-gradient(90deg,#9d079d,#a40b99,#a20a9a,#9b069f,#9000a4,#8200a6,#7400a7,#6a00a7,#6401a6,#6501a6,#6c00a8,#7700a7,#8600a5,#9703a1,#a80e97,#ba1c8b,#c92f7e,#d53f72,#dc486b,#dc486a,#d53f72,#c72c7f,#b41590,#9c069e,#8400a5,#6d00a8,#5702a3,#44039e,#2a0598,#18078f,#0e0988)"></i><i style="background:linear-gradient(90deg,#a20a9a,#aa0f96,#a80e97,#a1099b,#9502a2,#8600a5,#7700a7,#6b00a8,#6501a6,#6501a6,#6b00a8,#7600a7,#8400a6,#9401a3,#a50c98,#b7198d,#c72d7f,#d53e73,#dc496a,#dd4a69,#d74170,#ca307d,#b7188d,#9f089c,#8700a5,#6f00a8,#5801a3,#44039e,#290598,#17078e,#0d0987)"></i><i style="background:linear-gradient(90deg,#a70d97,#b01392,#af1293,#a70d98,#9a059f,#8a00a5,#7a00a6,#6d00a8,#6501a6,#6501a6,#6a00a8,#7400a7,#8100a6,#9100a4,#a20a9a,#b5168f,#c52a81,#d43d73,#dc496a,#de4c68,#d9446e,#cc337b,#ba1c8b,#a20a9a,#8900a5,#7100a8,#5901a3,#44039e,#280597,#15088d,#0c0986)"></i><i style="background:linear-gradient(90deg,#ac1094,#b6178e,#b5168f,#ad1194,#9f089c,#8f00a4,#7e00a6,#6f00a8,#6600a6,#6401a6,#6900a7,#7200a7,#7e00a6,#8d00a4,#9e089d,#b11391,#c32783,#d33c75,#dc496a,#df4d66,#da466c,#cf3679,#bc1f89,#a50c98,#8c00a5,#7200a7,#5a01a3,#44039e,#270697,#14088c,#0b0986)"></i><i style="background:linear-gradient(90deg,#b21491,#bb1d8a,#bb1d8a,#b31590,#a50c99,#9401a3,#8100a6,#7100a7,#6700a7,#6401a6,#6800a7,#7000a8,#7c00a6,#8a00a5,#9a059f,#ad1194,#c02485,#d23a76,#dc496a,#e04e66,#dc486b,#d13977,#bf2286,#a80e97,#8f00a4,#7400a7,#5b01a4,#44039e,#260697,#13088b,#0b0985)"></i><i style="background:linear-gradient(90deg,#b7188d,#c02485,#c02485,#b91a8c,#aa0f95,#9804a0,#8400a5,#7300a7,#6700a7,#6401a6,#6700a7,#6e00a8,#7900a7,#8600a5,#9602a2,#a80e97,#bd2088,#d03878,#dc486a,#e04f65,#dd4a69,#d33c75,#c12584,#ab1095,#9100a4,#7600a7,#5c01a4,#44039e,#250697,#12088b,#0a0985)"></i><i style="background:linear-gradient(90deg,#bc1e89,#c62b80,#c62b80,#be2187,#b01392,#9d079e,#8800a5,#7500a7,#6800a7,#6301a6,#6501a6,#6c00a8,#7500a7,#8200a6,#9100a4,#a40b99,#ba1c8b,#ce3579,#db476b,#e14f65,#de4b68,#d53e73,#c42882,#ae1193,#9301a3,#7800a7,#5d01a4,#45039e,#250697,#11088a,#0a0985)"></i><i style="background:linear-gradient(90deg,#c02485,#cc327b,#cc327b,#c42882,#b6178e,#a10a9b,#8c00a5,#7700a7,#6900a7,#6301a6,#6401a6,#6900a7,#7200a7,#7d00a6,#8c00a5,#9f089c,#b6188e,#cc327c,#da466c,#e14f65,#df4c67,#d64071,#c62b81,#b01392,#9602a2,#7900a7,#5e01a4,#45039e,#240697,#10088a,#0a0985)"></i><i style="background:linear-gradient(90deg,#c52a81,#d13977,#d23a76,#c92f7e,#bb1d8a,#a60d98,#8f00a4,#7900a7,#6a00a7,#6201a6,#6201a5,#6700a7,#6e00a8,#7800a7,#8700a5,#9a059f,#b21491,#c92f7e,#d9456d,#e14f65,#df4d66,#d74170,#c82d7f,#b21491,#9803a1,#7b00a6,#5e01a5,#45039e,#240696,#100889,#0a0985)"></i><i style="background:linear-gradient(90deg,#ca317d,#d64071,#d64071,#cf3679,#c02386,#ab1095,#9301a3,#7c00a6,#6b00a8,#6101a5,#6001a5,#6401a6,#6a00a8,#7400a7,#8100a6,#9402a3,#ad1194,#c62b80,#d8436f,#e04f65,#e04e66,#d8436f,#c92f7d,#b5168f,#9905a0,#7c00a6,#5f01a5,#45039e,#230696,#0f0889,#0b0985)"></i><i style="background:linear-gradient(90deg,#cf3778,#da466c,#db476b,#d43d74,#c52982,#b01392,#9603a1,#7e00a6,#6b00a8,#6101a5,#5e01a4,#6101a5,#6600a7,#6f00a8,#7b00a6,#8f00a4,#a80e97,#c32783,#d74171,#e04e66,#e04e65,#d9446e,#cb317c,#b6188e,#9b069f,#7e00a6,#6001a5,#45039e,#230696,#0f0889,#0b0986)"></i><i style="background:linear-gradient(90deg,#d43d74,#df4d67,#e04e66,#d8436e,#ca307d,#b5168f,#9a059f,#8000a6,#6c00a8,#6001a5,#5c01a4,#5d01a4,#6201a5,#6900a7,#7500a7,#8800a5,#a30b9a,#c02386,#d53e73,#df4d67,#e04e65,#da456d,#cc337b,#b8198d,#9d079e,#7f00a6,#6101a5,#46039e,#230696,#0f0888,#0c0986)"></i><i style="background:linear-gradient(90deg,#d8436f,#e35361,#e45560,#dd4a69,#cf3679,#b91b8c,#9d079d,#8200a6,#6d00a8,#5f01a5,#5901a3,#5a01a3,#5d01a4,#6401a6,#6f00a8,#8200a6,#9e079d,#bc1f89,#d33c75,#de4b68,#e04e66,#da466d,#cd347a,#b91b8c,#9e089d,#8000a6,#6101a5,#46039e,#230696,#0f0888,#0c0986)"></i><i style="background:linear-gradient(90deg,#dc486a,#e85a5c,#e95b5b,#e15064,#d33c75,#bd2088,#a1099b,#8500a5,#6d00a8,#5d01a4,#5602a3,#5602a2,#5801a3,#5e01a5,#6900a7,#7b00a6,#9804a0,#b81a8c,#d13877,#dd4a69,#df4d66,#da466c,#ce3579,#ba1c8b,#9f089c,#8100a6,#6201a6,#46039e,#220696,#0f0988,#0d0987)"></i><i style="background:linear-gradient(90deg,#e04e66,#eb6157,#eb6356,#e5565f,#d74170,#c12485,#a40b99,#8700a5,#6e00a8,#5c01a4,#5302a2,#5202a1,#5302a2,#5801a3,#6201a6,#7500a7,#9300a4,#b41590,#ce357a,#db486b,#df4c67,#da466d,#ce3679,#bb1d8a,#a0099b,#8200a6,#6301a6,#46039f,#220696,#0f0988,#0d0987)"></i><i style="background:linear-gradient(90deg,#e45461,#ee6852,#ee6a51,#e95d5a,#db476c,#c42982,#a80e97,#8900a5,#6e00a8,#5b01a4,#5002a1,#4d02a0,#4e02a1,#5202a2,#5c01a4,#6e00a8,#8c00a5,#af1293,#cb317c,#da456d,#de4b68,#da456d,#cf3679,#bb1e8a,#a1099b,#8200a6,#6301a6,#46039f,#220696,#0f0888,#0e0988)"></i><i style="background:linear-gradient(90deg,#e8595d,#f0704e,#f1714c,#ec6356,#de4c68,#c82e7e,#ab1095,#8b00a5,#6f00a8,#5901a3,#4d02a0,#49039f,#49039f,#4c02a0,#5502a2,#6700a7,#8600a5,#aa0f96,#c72d7f,#d8436f,#dd4969,#d9446e,#cf3679,#bc1e89,#a10a9b,#8300a6,#6301a6,#46039f,#220696,#0f0888,#0f0988)"></i><i style="background:linear-gradient(90deg,#ea6058,#f37749,#f47948,#ee6a51,#e25163,#cc327b,#ae1293,#8d00a5,#6f00a8,#5802a3,#49039f,#44039e,#43039e,#46039f,#4e02a1,#6001a5,#7f00a6,#a50c99,#c42882,#d64072,#db476b,#d8436f,#ce3579,#bc1e89,#a20a9b,#8300a6,#6401a6,#47039f,#230696,#0f0889,#0f0889)"></i><i style="background:linear-gradient(90deg,#ed6654,#f67e44,#f68043,#f1704d,#e5565f,#cf3778,#b11391,#8e00a4,#6f00a8,#5602a2,#45039e,#3b049c,#39049c,#3d049c,#47039f,#5901a3,#7800a7,#9f089c,#c02386,#d33c74,#d9456d,#d74270,#cd347a,#bb1e8a,#a20a9b,#8300a6,#6401a6,#47039f,#230696,#0f0889,#100889)"></i><i style="background:linear-gradient(90deg,#ef6c50,#f88540,#f8873e,#f37749,#e85b5c,#d33b75,#b41590,#9000a4,#6f00a8,#5402a2,#40039d,#33049a,#300599,#33049a,#3f039d,#5202a1,#7200a7,#9905a0,#bc1e89,#d03877,#d74270,#d64071,#cc337b,#bb1d8a,#a10a9b,#8300a6,#6401a6,#47039f,#230696,#100889,#10088a)"></i><i style="background:linear-gradient(90deg,#f1724c,#fa8c3b,#fa8e3a,#f67d45,#ea6058,#d53f72,#b6188e,#9200a4,#6f00a8,#5202a2,#39049b,#2b0598,#270697,#2a0598,#35049a,#4b02a0,#6b00a8,#9301a3,#b7198d,#cd347a,#d53f72,#d43d73,#cb317c,#ba1c8b,#a1099b,#8300a6,#6401a6,#47039f,#230696,#100889,#11088a)"></i><i style="background:linear-gradient(90deg,#f47848,#fb9337,#fc9536,#f78341,#ec6555,#d8426f,#b81a8c,#9301a3,#6f00a8,#5002a1,#33059a,#230696,#200694,#210696,#2b0598,#44039e,#6301a6,#8d00a5,#b21491,#c92f7e,#d33b75,#d23b76,#c92f7e,#b91b8c,#a0099c,#8200a6,#6301a6,#47039f,#230696,#10088a,#12088a)"></i><i style="background:linear-gradient(90deg,#f67e44,#fd9933,#fd9b32,#f9893d,#ee6a51,#da466d,#bb1d8a,#9401a3,#6f00a8,#4e02a1,#2d0599,#1d0792,#190790,#1b0791,#220696,#3a049c,#5c01a4,#8600a5,#ac1194,#c52982,#d03778,#d03778,#c72c7f,#b7198d,#9f089c,#8200a6,#6301a6,#47039f,#240696,#11088a,#12088b)"></i><i style="background:linear-gradient(90deg,#f88440,#fea02f,#fea22e,#fa8f39,#f06f4e,#dc496a,#bd1f89,#9502a2,#6f00a8,#4c02a0,#270697,#17078f,#14088c,#15088d,#1b0791,#300599,#5502a2,#7f00a6,#a60d98,#c02485,#cc327b,#cd337b,#c52a81,#b6178e,#9d079d,#8100a6,#6301a6,#47039f,#240696,#11088a,#13088b)"></i><i style="background:linear-gradient(90deg,#f98a3c,#ffa62b,#ffa82a,#fc9536,#f2734b,#de4c67,#be2287,#9603a1,#6f00a8,#4a039f,#220696,#13088b,#0f0889,#100889,#15088d,#270697,#4e02a0,#7800a7,#a0099c,#bc1e89,#c82d7f,#c92f7d,#c22684,#b41590,#9c069e,#8000a6,#6201a6,#47039f,#240697,#12088b,#13088c)"></i><i style="background:linear-gradient(90deg,#fb9039,#ffad27,#ffae26,#fd9a32,#f47848,#e04f65,#c02485,#9703a1,#6e00a8,#48039f,#1e0793,#0f0889,#0c0986,#0d0987,#11088a,#1f0694,#47039f,#7000a8,#9a059f,#b7188e,#c42882,#c62b80,#c02386,#b11491,#9a059f,#7f00a6,#6201a5,#46039f,#250697,#12088b,#14088c)"></i><i style="background:linear-gradient(90deg,#fc9535,#ffb323,#ffb522,#fea02f,#f57c45,#e25263,#c22684,#9804a0,#6d00a8,#46039e,#1a0790,#0c0987,#0a0985,#0a0985,#0d0987,#190790,#3e049d,#6900a7,#9301a3,#b11391,#bf2386,#c22784,#bd1f88,#af1293,#9804a0,#7d00a6,#6101a5,#46039f,#250697,#13088b,#14088c)"></i><i style="background:linear-gradient(90deg,#fd9b32,#ffb91f,#ffba1e,#ffa52c,#f78043,#e45461,#c32883,#9804a0,#6d00a8,#43039e,#17078e,#0a0985,#080983,#080983,#0a0985,#14088c,#33049a,#6101a5,#8c00a5,#ab0f95,#bb1d8a,#be2287,#ba1c8b,#ac1095,#9603a1,#7c00a6,#6001a5,#46039f,#250697,#14088c,#15088d)"></i><i style="background:linear-gradient(90deg,#fea02e,#ffbf1b,#ffc01a,#ffaa28,#f88440,#e6575e,#c52982,#9904a0,#6c00a8,#3f039d,#14088c,#080984,#060a82,#060a82,#080984,#100889,#2a0598,#5901a3,#8400a5,#a40b99,#b6178e,#ba1d8a,#b6188e,#a90e96,#9401a3,#7b00a6,#5f01a5,#46039e,#260697,#14088c,#15088d)"></i><i style="background:linear-gradient(90deg,#ffa62b,#ffc517,#ffc516,#ffaf26,#f9883e,#e8595d,#c62b80,#9905a0,#6b00a8,#3c049c,#11088a,#070983,#050a82,#050a82,#070a83,#0d0987,#220696,#5202a1,#7c00a6,#9d079d,#b01392,#b6178e,#b21491,#a60c98,#9200a4,#7900a7,#5f01a5,#46039e,#260697,#15088d,#16088d)"></i><i style="background:linear-gradient(90deg,#ffab28,#ffca13,#ffca12,#ffb423,#fa8c3b,#e95c5b,#c72c7f,#9a059f,#6a00a7,#38049b,#0f0889,#060a82,#050a81,#050a81,#060a82,#0a0985,#1c0791,#4a03a0,#7500a7,#9703a1,#aa0f96,#b11491,#ae1293,#a20a9a,#8f00a4,#7700a7,#5e01a4,#46039e,#270697,#16088d,#17078e)"></i><i style="background:linear-gradient(90deg,#ffb124,#ffce10,#ffce10,#ffb820,#fb8f39,#ea5e59,#c82e7f,#9a059f,#6800a7,#35049a,#0e0988,#060a82,#040a81,#040a81,#050a81,#080984,#16088e,#43039e,#6d00a8,#8f00a4,#a40b99,#ac1095,#aa0f96,#9f089c,#8d00a5,#7600a7,#5d01a4,#45039e,#270697,#17078e,#17078e)"></i><i style="background:linear-gradient(90deg,#ffb621,#ffd20d,#ffd20d,#ffbc1d,#fb9237,#ea6058,#c92f7e,#9a059f,#6700a7,#31059a,#0c0986,#050a81,#040a81,#040a81,#040a81,#070983,#12088a,#38049b,#6501a6,#8800a5,#9d079d,#a60d98,#a50c98,#9b069e,#8a00a5,#7400a7,#5c01a4,#45039e,#280697,#17078e,#18078f)"></i><i style="background:linear-gradient(90deg,#ffba1e,#ffd60b,#ffd60b,#ffc01a,#fc9635,#eb6256,#ca307d,#9905a0,#6501a6,#2e0599,#0b0986,#050a81,#040a80,#040a80,#040a81,#060a82,#0e0988,#2e0599,#5c01a4,#8000a6,#9703a1,#a1099b,#a1099b,#9804a1,#8700a5,#7200a7,#5b01a4,#45039e,#280597,#18078f,#18078f)"></i><i style="background:linear-gradient(90deg,#ffbf1b,#ffda08,#ffd909,#ffc417,#fd9933,#ec6455,#ca307d,#9904a0,#6401a6,#2a0598,#0a0985,#040a81,#030a80,#030a80,#040a81,#050a81,#0c0986,#250697,#5402a2,#7800a7,#9000a4,#9b069f,#9c069e,#9401a3,#8400a5,#7000a8,#5a01a3,#45039e,#280598,#190790,#19078f)"></i><i style="background:linear-gradient(90deg,#ffc318,#ffdc06,#ffdc07,#ffc815,#fd9b31,#ed6654,#cb317c,#9804a0,#6201a5,#270697,#090984,#040a81,#030a80,#030a80,#040a80,#050a81,#090985,#1e0793,#4d02a0,#7100a7,#8900a5,#9502a2,#9703a1,#9000a4,#8100a6,#6e00a8,#5801a3,#44039e,#290598,#1a0790,#190790)"></i><i style="background:linear-gradient(90deg,#ffc715,#ffdf05,#ffde05,#ffcb12,#fe9e30,#ed6753,#cb327c,#9804a1,#6001a5,#240696,#080984,#040a81,#030a80,#030a80,#030a80,#040a81,#080983,#18078f,#46039e,#6900a7,#8200a6,#9000a4,#9200a4,#8c00a5,#7e00a6,#6c00a8,#5702a3,#44039e,#290598,#1a0791,#1a0790)"></i><i style="background:linear-gradient(90deg,#ffcb12,#ffe103,#ffe004,#ffcd10,#fea02e,#ee6952,#cb327c,#9703a1,#5e01a4,#210695,#070983,#040a80,#030a80,#030a80,#030a80,#040a81,#070a83,#13088c,#3b049c,#6101a5,#7b00a6,#8900a5,#8d00a4,#8800a5,#7b00a6,#6a00a7,#5602a3,#43039e,#2a0598,#1b0791,#1b0791)"></i><i style="background:linear-gradient(90deg,#ffce10,#ffe301,#ffe202,#ffd00f,#ffa32d,#ee6a51,#cc327c,#9603a2,#5b01a4,#1e0693,#070a83,#040a80,#030a80,#030a80,#030a80,#040a80,#060a82,#0f0889,#310599,#5901a3,#7400a7,#8300a6,#8800a5,#8400a5,#7800a7,#6800a7,#5502a2,#43039e,#2a0598,#1c0792,#1b0791)"></i><i style="background:linear-gradient(90deg,#ffd10e,#ffe500,#ffe401,#ffd20d,#ffa52c,#ef6b51,#cc327c,#9502a2,#5901a3,#1c0792,#060a82,#030a80,#030a80,#030a80,#030a80,#030a80,#050a81,#0c0987,#280697,#5202a1,#6d00a8,#7d00a6,#8300a6,#8000a6,#7500a7,#6600a6,#5402a2,#42039e,#2b0598,#1d0792,#1c0792)"></i><i style="background:linear-gradient(90deg,#ffd40c,#ffe500,#ffe500,#ffd40c,#ffa62b,#ef6c50,#cb327c,#9401a3,#5702a3,#1a0790,#060a82,#030a80,#030a80,#030a80,#030a80,#030a80,#040a81,#0a0985,#200694,#4b02a0,#6600a7,#7700a7,#7e00a6,#7c00a6,#7200a7,#6401a6,#5302a2,#42039d,#2b0598,#1e0793,#1d0792)"></i><i style="background:linear-gradient(90deg,#ffd60b,#ffe500,#ffe500,#ffd60b,#ffa829,#ef6d50,#cb317c,#9200a4,#5402a2,#17078e,#060a82,#030a80,#030a80,#030a80,#030a80,#030a80,#040a81,#080984,#1a0790,#44039e,#6001a5,#7200a7,#7900a7,#7800a7,#6f00a8,#6101a5,#5202a1,#41039d,#2c0598,#1f0694,#1d0793)"></i><i style="background:linear-gradient(90deg,#ffd909,#ffe500,#ffe500,#ffd80a,#ffaa29,#ef6d4f,#cb317c,#9100a4,#5202a1,#15088d,#050a82,#030a80,#030a80,#030a80,#030a80,#030a80,#040a81,#070983,#15088c,#39049c,#5901a3,#6c00a8,#7400a7,#7400a7,#6c00a8,#5f01a5,#5002a1,#40039d,#2c0598,#200694,#1e0793)"></i><i style="background:linear-gradient(90deg,#ffdb08,#ffe500,#ffe500,#ffd908,#ffab28,#f06d4f,#ca307d,#8f00a4,#4f02a1,#14088c,#050a81,#030a80,#030a80,#030a80,#030a80,#030a80,#040a80,#060a82,#10088a,#300599,#5202a2,#6600a7,#7000a8,#7000a8,#6900a7,#5d01a4,#4f02a1,#40039d,#2c0598,#200695,#1f0694)"></i><i style="background:linear-gradient(90deg,#ffdc07,#ffe500,#ffe500,#ffdb08,#ffac27,#f06d4f,#c92f7d,#8d00a5,#4c02a0,#12088b,#050a81,#030a80,#030a80,#030a80,#030a80,#030a80,#030a80,#050a82,#0d0987,#270697,#4c02a0,#6101a5,#6b00a8,#6d00a8,#6600a7,#5b01a4,#4e02a1,#3f039d,#2d0599,#210695,#200694)"></i><i style="background:linear-gradient(90deg,#ffdd06,#ffe500,#ffe500,#ffdb07,#ffad27,#f06d4f,#c92e7e,#8a00a5,#4a039f,#100889,#050a81,#030a80,#030a80,#030a80,#030a80,#030a80,#030a80,#050a81,#0b0985,#200694,#46039f,#5b01a4,#6700a7,#6900a7,#6401a6,#5a01a3,#4d02a0,#3f039d,#2d0599,#220696,#210695)"></i><i style="background:linear-gradient(90deg,#ffde05,#ffe500,#ffe500,#ffdc06,#ffae26,#ef6d4f,#c82d7f,#8800a5,#47039f,#0f0888,#040a81,#030a80,#030a80,#030a80,#030a80,#030a80,#030a80,#040a81,#090984,#1a0790,#3e039d,#5602a2,#6201a6,#6600a6,#6101a5,#5802a3,#4c02a0,#3e049d,#2d0599,#230696,#210696)"></i><i style="background:linear-gradient(90deg,#ffdf04,#ffe500,#ffe500,#ffdd06,#ffae26,#ef6d50,#c62c80,#8500a5,#44039e,#0e0987,#040a81,#030a80,#030a80,#030a80,#030a80,#030a80,#030a80,#040a81,#070983,#15088d,#36049b,#5102a1,#5e01a5,#6201a6,#5f01a5,#5602a2,#4b02a0,#3d049c,#2e0599,#240696,#220696)"></i><i style="background:linear-gradient(90deg,#ffe003,#ffe500,#ffe500,#ffde05,#ffaf26,#ef6c50,#c52a81,#8300a6,#40039d,#0c0987,#040a81,#030a80,#030a80,#030a80,#030a80,#030a80,#030a80,#040a80,#060a82,#11088a,#2e0599,#4c02a0,#5a01a4,#5f01a5,#5c01a4,#5402a2,#4a03a0,#3d049c,#2e0599,#250697,#230696)"></i><i style="background:linear-gradient(90deg,#ffe103,#ffe500,#ffe500,#ffde05,#ffaf26,#ef6b50,#c42882,#8000a6,#3b049c,#0b0986,#040a81,#030a80,#030a80,#030a80,#030a80,#030a80,#030a80,#040a80,#050a82,#0e0988,#260697,#47039f,#5602a3,#5c01a4,#5a01a3,#5302a2,#49039f,#3c049c,#2e0599,#250697,#250697)"></i><i style="background:linear-gradient(90deg,#ffe202,#ffe500,#ffe500,#ffde05,#ffae26,#ee6a51,#c22684,#7d00a6,#36049b,#0a0985,#040a81,#030a80,#030a80,#030a80,#030a80,#030a80,#030a80,#030a80,#050a81,#0b0986,#200695,#43039e,#5302a2,#5901a3,#5802a3,#5102a1,#48039f,#3c049c,#2e0599,#260697,#260697)"></i><i style="background:linear-gradient(90deg,#ffe202,#ffe500,#ffe500,#ffdf05,#ffae26,#ee6952,#c02485,#7a00a7,#32059a,#090985,#040a80,#030a80,#030a80,#030a80,#030a80,#030a80,#030a80,#030a80,#040a81,#090985,#1b0791,#3c049c,#5002a1,#5702a3,#5602a3,#5002a1,#48039f,#3b049c,#2e0599,#270697,#270697)"></i><i style="background:linear-gradient(90deg,#ffe202,#ffe500,#ffe500,#ffdf05,#ffae26,#ed6853,#be2287,#7700a7,#2e0599,#090984,#040a80,#030a80,#030a80,#030a80,#030a80,#030a80,#030a80,#030a80,#040a81,#080983,#16078e,#35049a,#4c02a0,#5502a2,#5402a2,#4f02a1,#47039f,#3a049c,#2e0599,#280697,#280597)"></i><i style="background:linear-gradient(90deg,#ffe202,#ffe500,#ffe500,#ffdf05,#ffad27,#ed6654,#bc1f89,#7300a7,#2a0598,#080984,#040a80,#030a80,#030a80,#030a80,#030a80,#030a80,#030a80,#030a80,#040a81,#070a83,#13088b,#2f0599,#49039f,#5302a2,#5302a2,#4e02a0,#46039f,#3a049c,#2f0599,#280597,#2a0598)"></i><i style="background:linear-gradient(90deg,#ffe202,#ffe500,#ffe500,#ffdf05,#ffac27,#ec6555,#ba1d8a,#7000a8,#260697,#070983,#030a80,#030a80,#030a80,#030a80,#030a80,#030a80,#030a80,#030a80,#040a80,#060a82,#100889,#290598,#47039f,#5102a1,#5202a1,#4d02a0,#46039e,#39049b,#2f0599,#290598,#2b0598)"></i><i style="background:linear-gradient(90deg,#ffe202,#ffe500,#ffe500,#ffde05,#ffab28,#eb6356,#b81a8c,#6c00a8,#220696,#070a83,#030a80,#030a80,#030a80,#030a80,#030a80,#030a80,#030a80,#030a80,#030a80,#050a82,#0d0987,#240696,#44039e,#4f02a1,#5102a1,#4c02a0,#45039e,#39049b,#2e0599,#2a0598,#2d0598)"></i><i style="background:linear-gradient(90deg,#ffe202,#ffe500,#ffe500,#ffde05,#ffa929,#eb6158,#b6178e,#6800a7,#1f0694,#060a82,#030a80,#030a80,#030a80,#030a80,#030a80,#030a80,#030a80,#030a80,#030a80,#050a81,#0b0986,#1f0694,#3f039d,#4d02a0,#5002a1,#4c02a0,#45039e,#38049b,#2e0599,#2a0598,#2e0599)"></i><i style="background:linear-gradient(90deg,#ffe103,#ffe500,#ffe500,#ffde05,#ffa82a,#ea5e59,#b31490,#6401a6,#1c0792,#060a82,#030a80,#030a80,#030a80,#030a80,#030a80,#030a80,#030a80,#030a80,#030a80,#040a81,#090985,#1b0791,#3b049c,#4c02a0,#4f02a1,#4b02a0,#44039e,#38049b,#2e0599,#2b0598,#300599)"></i><i style="background:linear-gradient(90deg,#ffe103,#ffe500,#ffe500,#ffdd06,#ffa62b,#e95c5b,#af1292,#6001a5,#1a0790,#050a82,#030a80,#030a80,#030a80,#030a80,#030a80,#030a80,#030a80,#030a80,#030a80,#040a81,#080984,#18078f,#36049b,#4a03a0,#4e02a1,#4b02a0,#44039e,#37049b,#2e0599,#2b0598,#31059a)"></i><i style="background:linear-gradient(90deg,#ffe004,#ffe500,#ffe500,#ffdc06,#ffa42c,#e7595d,#ac1094,#5c01a4,#17078e,#050a82,#030a80,#030a80,#030a80,#030a80,#030a80,#030a80,#030a80,#030a80,#030a80,#040a81,#070983,#14088c,#32059a,#49039f,#4e02a0,#4b03a0,#43039e,#37049b,#2e0599,#2c0598,#33049a)"></i><i style="background:linear-gradient(90deg,#ffde05,#ffe500,#ffe500,#ffdb07,#ffa22d,#e6575f,#a80e97,#5801a3,#15088d,#050a81,#030a80,#030a80,#030a80,#030a80,#030a80,#030a80,#030a80,#030a80,#030a80,#040a80,#060a82,#12088a,#2d0599,#48039f,#4e02a0,#4b03a0,#43039e,#36049b,#2d0599,#2c0598,#35049a)"></i></div>
<div class="cb" style="left:258px;top:328px;width:9px;height:173px;background:linear-gradient(180deg,#ffe500,#ffcb12,#ffa42c,#f67e44,#e85a5c,#d23a76,#b5168f,#9200a4,#6c00a8,#44039e,#030a80)"></div>
<div class="hm" style="left:381px;top:322px;width:183px;height:179px;--rh:1px"><i style="background:linear-gradient(90deg,#030a80,#030a80,#030a80,#050a81,#0c0986,#280598,#6301a6,#9f089c,#c82e7e,#de4b68,#ea6058,#f06e4e,#f37649,#f3764a,#f0704e,#ed6654,#e95c5b,#e25263,#db476b,#d43d74,#cb327c,#c32883,#bd2088,#b91b8c,#b5168f,#b11491,#af1293,#ae1293,#b01392,#b4168f,#bb1e8a)"></i><i style="background:linear-gradient(90deg,#030a80,#030a80,#040a80,#060a82,#0f0889,#34049a,#6f00a8,#a90f96,#ce3579,#e14f65,#ea6058,#ee6a51,#f06e4f,#ef6b50,#ec6555,#e95c5a,#e45461,#de4b68,#d8426f,#d13977,#ca307d,#c32883,#be2187,#b91b8b,#b5168f,#b21491,#af1293,#ae1293,#b01392,#b5168f,#bc1f89)"></i><i style="background:linear-gradient(90deg,#030a80,#030a80,#040a81,#070a83,#13088c,#42039d,#7b00a6,#b31490,#d33c75,#e35362,#ea6058,#ed6654,#ed6654,#eb6257,#e85b5b,#e45361,#de4c67,#d9446e,#d43d73,#cf3679,#c92e7e,#c32883,#be2187,#ba1c8b,#b6178f,#b21491,#af1293,#af1293,#b11392,#b6178e,#bd2088)"></i><i style="background:linear-gradient(90deg,#030a80,#030a80,#040a81,#080984,#19078f,#4c02a0,#8700a5,#ba1c8b,#d74170,#e55560,#ea5f58,#eb6157,#ea5e59,#e7595d,#e35262,#de4b68,#d9456d,#d53e72,#d13877,#cc327b,#c72d7f,#c32783,#be2287,#ba1c8b,#b6178e,#b21491,#af1293,#af1293,#b11391,#b6188e,#bf2287)"></i><i style="background:linear-gradient(90deg,#030a80,#030a80,#050a81,#0a0985,#1f0694,#5602a3,#9200a4,#c02485,#da456d,#e6585e,#ea5f59,#e95d5a,#e6575e,#e25163,#dd4a69,#d9446e,#d53e73,#d13877,#cd337b,#c92f7d,#c62b80,#c32783,#bf2287,#ba1c8b,#b6178e,#b21491,#af1293,#af1293,#b11491,#b7198d,#c02386)"></i><i style="background:linear-gradient(90deg,#030a80,#030a80,#050a81,#0c0987,#290598,#6201a5,#9c069e,#c62b81,#dc496a,#e85a5c,#ea5e59,#e85a5c,#e25263,#dd4a69,#d8436f,#d43c74,#d03778,#cc327b,#c92f7e,#c72c7f,#c52a81,#c32783,#bf2286,#ba1d8a,#b6178e,#b21491,#af1293,#af1293,#b21491,#b8198d,#c12585)"></i><i style="background:linear-gradient(90deg,#030a80,#040a80,#060a82,#100889,#34049a,#6d00a8,#a50c99,#ca317d,#df4d67,#e95c5b,#e95e5a,#e5565f,#de4c67,#d8436f,#d33b75,#ce3579,#ca307d,#c72d7f,#c62b81,#c52a81,#c42982,#c32783,#bf2386,#bb1d8a,#b6178e,#b21491,#af1293,#af1293,#b21491,#b91a8c,#c22684)"></i><i style="background:linear-gradient(90deg,#030a80,#040a81,#070983,#14088c,#42039d,#7900a7,#ad1194,#cf3679,#e15064,#e95d5a,#e95d5a,#e35362,#db476b,#d43d74,#cd347a,#c82e7e,#c52a81,#c32783,#c22783,#c32783,#c42882,#c32783,#bf2386,#bb1d8a,#b6178e,#b21491,#af1293,#af1293,#b31490,#b91b8b,#c32883)"></i><i style="background:linear-gradient(90deg,#030a80,#040a81,#080984,#190790,#4c02a0,#8400a5,#b41590,#d23a76,#e35262,#ea5e59,#e95c5b,#e15064,#d8426f,#cf3679,#c82d7f,#c32783,#c02486,#bf2286,#c02386,#c12584,#c32783,#c32783,#c02386,#bb1e8a,#b6178e,#b21491,#af1293,#af1293,#b31590,#ba1c8b,#c52a81)"></i><i style="background:linear-gradient(90deg,#030a80,#050a81,#0a0985,#200695,#5602a3,#8f00a4,#ba1c8b,#d53e73,#e45461,#ea5f59,#e85b5b,#df4d66,#d53e73,#ca307d,#c22783,#be2187,#bb1e89,#bb1e8a,#bd2088,#c02386,#c22684,#c32783,#c02486,#bb1e8a,#b6178e,#b11491,#af1293,#af1293,#b31590,#bb1d8a,#c62b80)"></i><i style="background:linear-gradient(90deg,#030a80,#050a82,#0d0987,#2a0598,#6201a5,#9804a0,#bf2287,#d74170,#e5565f,#ea6058,#e85a5c,#de4b68,#d23a76,#c62b81,#be2188,#b91b8c,#b7198d,#b81a8d,#ba1d8a,#be2187,#c22684,#c32783,#c02485,#bb1e8a,#b6178e,#b11491,#af1293,#af1293,#b41590,#bb1e8a,#c72d7f)"></i><i style="background:linear-gradient(90deg,#040a80,#060a82,#100889,#36049b,#6d00a8,#a1099b,#c32783,#d9446e,#e6575e,#ea6058,#e7595d,#dc486a,#cf3679,#c22684,#b91b8b,#b5168f,#b31590,#b5168f,#b81a8c,#bd2088,#c12585,#c32783,#c02485,#bb1e89,#b6178e,#b11391,#ae1293,#af1293,#b41590,#bc1f89,#c92f7e)"></i><i style="background:linear-gradient(90deg,#040a81,#070983,#14088c,#44039e,#7900a7,#a90e96,#c72c80,#da466c,#e7595d,#eb6058,#e6585e,#da466c,#cc327c,#be2187,#b5168f,#b01392,#af1293,#b11491,#b6188e,#bc1e89,#c12585,#c32783,#c12485,#bc1e89,#b6178e,#b11392,#ae1293,#af1293,#b41590,#bd2088,#ca307d)"></i><i style="background:linear-gradient(90deg,#040a81,#080984,#1a0790,#4d02a0,#8400a5,#b01392,#ca307d,#dc486a,#e85a5c,#eb6158,#e6575f,#d9446e,#c92f7e,#bb1d8a,#b11392,#ab1095,#ab1095,#ae1293,#b4168f,#bb1d8a,#c02485,#c32783,#c12585,#bc1e89,#b6178e,#b01392,#ae1193,#af1293,#b4168f,#bd2188,#cc327b)"></i><i style="background:linear-gradient(90deg,#050a81,#0a0985,#210696,#5802a3,#8f00a4,#b6178e,#cd347a,#dd4a69,#e85a5c,#ea6058,#e5565f,#d8426f,#c62c80,#b8198d,#ad1194,#a70d97,#a70d97,#ab1095,#b31490,#ba1c8b,#c02485,#c32783,#c12585,#bc1e89,#b6178e,#b01392,#ae1193,#af1293,#b5168f,#be2187,#cd347a)"></i><i style="background:linear-gradient(90deg,#050a82,#0d0987,#2b0598,#6301a6,#9804a0,#bb1d8a,#d03778,#de4c68,#e85b5b,#ea6058,#e45560,#d74171,#c42982,#b5168f,#a90f96,#a40b99,#a40b99,#a90e96,#b11391,#b91b8b,#c02486,#c32783,#c12585,#bc1e89,#b5178f,#b01392,#ad1194,#af1293,#b5168f,#bf2286,#cf3679)"></i><i style="background:linear-gradient(90deg,#060a82,#100889,#37049b,#6f00a8,#a1099b,#bf2287,#d23a76,#df4d67,#e95b5b,#ea6058,#e45461,#d63f72,#c32783,#b21491,#a60d98,#a0099b,#a1099b,#a70d98,#b01392,#b91b8c,#c02486,#c32883,#c12584,#bc1e89,#b5168f,#af1392,#ad1194,#ae1293,#b5168f,#c02386,#d03778)"></i><i style="background:linear-gradient(90deg,#070983,#15088d,#45039e,#7a00a6,#a80e97,#c32783,#d43c74,#e04e66,#e95c5b,#ea5f58,#e35362,#d53e73,#c12585,#b01392,#a30b9a,#9e079d,#9f089c,#a50c99,#ae1293,#b81a8c,#c02486,#c32883,#c12584,#bc1e89,#b5168f,#af1293,#ac1194,#ae1293,#b5168f,#c02485,#d13977)"></i><i style="background:linear-gradient(90deg,#080984,#1b0791,#4f02a1,#8600a5,#af1392,#c62b80,#d53e72,#e04f65,#e95c5b,#ea5f59,#e35262,#d43d74,#c02386,#ae1293,#a1099b,#9b069f,#9c079e,#a30b9a,#ad1194,#b81a8c,#c02486,#c42882,#c22684,#bc1e89,#b5168f,#af1293,#ac1094,#ae1193,#b5168f,#c12585,#d33b75)"></i><i style="background:linear-gradient(90deg,#0a0985,#220696,#5901a3,#9000a4,#b6178e,#c92f7e,#d64071,#e15064,#e95c5b,#ea5e59,#e25163,#d33c74,#bf2287,#ac1194,#9f089c,#9904a0,#9b059f,#a20a9a,#ad1194,#b81a8c,#c02485,#c42882,#c22684,#bc1e89,#b5168f,#ae1293,#ac1095,#ae1193,#b5168f,#c12684,#d43d74)"></i><i style="background:linear-gradient(90deg,#0d0987,#2c0598,#6501a6,#9a059f,#ba1d8a,#cc327b,#d8426f,#e25163,#e95c5b,#e95e5a,#e25164,#d33b75,#be2187,#ab1095,#9d079d,#9703a1,#9904a0,#a1099b,#ac1194,#b81a8c,#c02485,#c42982,#c22684,#bc1e89,#b4168f,#ae1193,#ab1095,#ad1194,#b5168f,#c22684,#d53e73)"></i><i style="background:linear-gradient(90deg,#10088a,#38049b,#7000a8,#a20a9a,#bf2287,#ce3679,#d9446e,#e25263,#e95c5b,#e95d5a,#e15064,#d23a76,#bd2088,#aa0f95,#9c069e,#9602a2,#9804a0,#a0099b,#ac1094,#b81a8c,#c12485,#c42982,#c22684,#bc1e89,#b41590,#ad1194,#ab0f95,#ad1194,#b5168f,#c32783,#d64071)"></i><i style="background:linear-gradient(90deg,#15088d,#46039e,#7c00a6,#aa0f96,#c32783,#d13877,#da456d,#e35262,#e95c5b,#e95c5a,#e14f65,#d23a76,#bd2088,#aa0f96,#9b069e,#9502a2,#9703a1,#a0099c,#ac1094,#b81a8c,#c12585,#c52a81,#c22684,#bb1e89,#b41590,#ad1194,#aa0f96,#ac1194,#b5168f,#c32883,#d74170)"></i><i style="background:linear-gradient(90deg,#1b0791,#4f02a1,#8700a5,#b11392,#c62b80,#d33b75,#db476c,#e35362,#e95c5b,#e95c5b,#e04f65,#d23a76,#bd2088,#a90f96,#9b069f,#9401a3,#9703a1,#a0099c,#ac1094,#b91a8c,#c12584,#c52a81,#c22783,#bb1e89,#b31590,#ac1094,#a90f96,#ac1094,#b5168f,#c42882,#d8436f)"></i><i style="background:linear-gradient(90deg,#220696,#5a01a3,#9100a4,#b7188e,#c92f7e,#d43d73,#dc486a,#e45461,#e95c5b,#e85b5b,#e04e66,#d23976,#bd2088,#a90f96,#9b059f,#9401a3,#9603a1,#a0099c,#ad1194,#b91b8c,#c22684,#c62a81,#c32783,#bb1e8a,#b31590,#ac1095,#a90e96,#ac1095,#b5168f,#c42982,#d9446e)"></i><i style="background:linear-gradient(90deg,#2c0598,#6500a6,#9b059f,#bb1e89,#cc337b,#d63f72,#dd4a69,#e45461,#e95c5b,#e85b5c,#e04e66,#d23976,#bd2088,#aa0f96,#9b069f,#9401a3,#9703a1,#a0099c,#ad1194,#ba1c8b,#c22784,#c62b80,#c32783,#bb1e8a,#b21491,#ab1095,#a80e97,#ab1095,#b5168f,#c52a81,#da466c)"></i><i style="background:linear-gradient(90deg,#39049b,#7100a7,#a30b9a,#c02386,#cf3679,#d74170,#de4b68,#e45560,#e95c5b,#e85a5c,#df4e66,#d23a76,#be2187,#ab0f95,#9b069e,#9402a3,#9703a1,#a1099b,#ae1193,#ba1c8b,#c32783,#c62c80,#c32783,#bb1e8a,#b21491,#aa0f95,#a70d97,#aa0f95,#b5168f,#c52a81,#db476b)"></i><i style="background:linear-gradient(90deg,#46039f,#7c00a6,#aa0f95,#c32883,#d13977,#d8436e,#df4c67,#e55560,#e95b5b,#e85a5c,#df4d66,#d23a76,#be2287,#ab1095,#9c069e,#9502a2,#9804a1,#a10a9b,#af1293,#bb1d8a,#c42882,#c72c80,#c32883,#bb1e8a,#b21491,#aa0f96,#a70d98,#aa0f96,#b5168f,#c62b81,#dc496a)"></i><i style="background:linear-gradient(90deg,#5002a1,#8700a5,#b11491,#c72c80,#d33c75,#da456d,#e04e66,#e5565f,#e95b5b,#e7595d,#df4d66,#d23a76,#bf2386,#ad1194,#9d079d,#9603a1,#9904a0,#a20a9a,#b01392,#bc1e89,#c42982,#c72d7f,#c32883,#bb1e8a,#b11491,#a90f96,#a60d98,#a90f96,#b5168f,#c62b80,#dd4a69)"></i><i style="background:linear-gradient(90deg,#5b01a4,#9200a4,#b7198d,#ca307d,#d53e73,#db476b,#e14f65,#e6575f,#e95c5b,#e7595d,#df4d66,#d33b75,#c02485,#ae1293,#9f089c,#9804a1,#9a059f,#a40b99,#b11391,#bd2088,#c52a81,#c82d7f,#c42882,#bb1d8a,#b11391,#a80e97,#a50c99,#a90e96,#b4168f,#c62c80,#de4c68)"></i><i style="background:linear-gradient(90deg,#6600a7,#9b069f,#bc1e89,#cd347a,#d64071,#dc496a,#e25164,#e6585e,#e95c5b,#e7595d,#df4d66,#d33b75,#c12584,#b01392,#a1099b,#9905a0,#9c069e,#a50c98,#b21491,#be2187,#c62b80,#c92e7e,#c42982,#bb1d8a,#b01392,#a80e97,#a40c99,#a80e97,#b41590,#c72c80,#df4d66)"></i><i style="background:linear-gradient(90deg,#7200a7,#a30b9a,#c02486,#d03778,#d8426f,#de4b68,#e35262,#e7585d,#e95c5b,#e7595d,#df4d66,#d43c74,#c32783,#b21491,#a30a9a,#9b069e,#9e079d,#a70d97,#b41590,#bf2287,#c72c80,#c92f7e,#c42982,#bb1d8a,#b01392,#a70d97,#a40b99,#a70d97,#b41590,#c72c7f,#e04e65)"></i><i style="background:linear-gradient(90deg,#7d00a6,#ab1095,#c42882,#d23a76,#d9456d,#df4d67,#e45461,#e8595c,#e95c5a,#e7595d,#e04e66,#d43d73,#c42982,#b41590,#a50c99,#9e079d,#a0099c,#a90e96,#b5178f,#c02486,#c82d7f,#ca307d,#c52982,#bb1d8a,#b01392,#a60d98,#a30a9a,#a60d98,#b31590,#c72d7f,#e15064)"></i><i style="background:linear-gradient(90deg,#8800a5,#b21491,#c72c7f,#d43c74,#db476c,#e04f65,#e55560,#e85a5c,#e95d5a,#e7595d,#e04e66,#d53e73,#c52a81,#b6178e,#a70d97,#a0099c,#a20a9a,#ab1095,#b7188d,#c12584,#c92e7e,#ca317c,#c52a81,#bb1d8a,#af1293,#a60c98,#a20a9b,#a60c98,#b31590,#c82d7f,#e25163)"></i><i style="background:linear-gradient(90deg,#9301a3,#b7198d,#ca307d,#d53f72,#dc496a,#e15064,#e6575f,#e95c5b,#e95d5a,#e7595d,#e04f65,#d63f72,#c72c7f,#b81a8c,#aa0f95,#a30b9a,#a50c99,#ad1194,#b91a8c,#c32783,#ca307d,#cb327c,#c52a81,#bb1d8a,#af1293,#a50c99,#a1099b,#a50c99,#b21491,#c82d7f,#e35262)"></i><i style="background:linear-gradient(90deg,#9c069e,#bc1f89,#cd347a,#d74170,#dd4b68,#e35262,#e7585d,#e95d5a,#ea5e59,#e85a5c,#e14f65,#d74171,#c92f7e,#ba1c8b,#ad1194,#a60d98,#a80e97,#b01392,#ba1d8a,#c42982,#cb317c,#cc337b,#c62b81,#bb1d8a,#ae1293,#a40b99,#a0099c,#a40b99,#b21491,#c82d7f,#e35361)"></i><i style="background:linear-gradient(90deg,#a50c99,#c02485,#d03778,#d8436e,#df4d67,#e45461,#e85a5c,#ea5f59,#ea5f59,#e85a5c,#e15064,#d74270,#cb317c,#bc1f89,#b01392,#a90f96,#ab1095,#b21491,#bc1f89,#c52a81,#cc327b,#cd347b,#c62b80,#bb1d8a,#ae1193,#a30b9a,#9f089c,#a30b9a,#b11491,#c82d7f,#e45461)"></i><i style="background:linear-gradient(90deg,#ad1194,#c42982,#d23a76,#da466d,#e04f65,#e5565f,#e95c5b,#ea6058,#ea6058,#e85b5b,#e25163,#d8436e,#cc337b,#bf2286,#b41590,#ad1194,#ae1293,#b5168f,#be2187,#c72c80,#cd347a,#ce357a,#c72c80,#bb1d8a,#ad1194,#a20a9a,#9e079d,#a20a9a,#b01392,#c82d7f,#e55560)"></i><i style="background:linear-gradient(90deg,#b41590,#c82d7f,#d43d74,#db486b,#e25164,#e7585e,#ea5e59,#eb6257,#eb6157,#e95c5b,#e35262,#d9456d,#ce3679,#c12584,#b7198d,#b11391,#b21491,#b8198d,#c02486,#c82e7e,#ce3579,#ce3679,#c72c80,#bb1d8a,#ad1194,#a10a9b,#9d079e,#a1099b,#b01392,#c82d7f,#e5565f)"></i><i style="background:linear-gradient(90deg,#b91b8b,#cb317c,#d63f72,#dd4a69,#e35362,#e85a5c,#ea6058,#ec6356,#eb6356,#e95d5a,#e35361,#db466c,#d03877,#c42982,#ba1d8a,#b5168f,#b5178f,#ba1d8a,#c22684,#ca307d,#d03778,#cf3778,#c72d7f,#bb1d8a,#ac1194,#a1099b,#9c069e,#a0099c,#af1293,#c82d7f,#e6575e)"></i><i style="background:linear-gradient(90deg,#be2187,#ce357a,#d74170,#de4c68,#e45560,#e95c5b,#eb6256,#ec6555,#ec6455,#ea5f59,#e45560,#dc486b,#d23b76,#c72c80,#be2188,#b81a8c,#b91b8c,#bd2088,#c42982,#cc327b,#d13877,#d03878,#c82d7f,#bb1d8a,#ac1095,#a0099c,#9b059f,#9f089c,#ae1293,#c82d7f,#e7585e)"></i><i style="background:linear-gradient(90deg,#c22783,#d03877,#d9446e,#df4e66,#e6565f,#ea5e59,#ec6455,#ed6753,#ed6654,#ea6058,#e5565f,#dd4a69,#d43d74,#ca307d,#c12585,#bc1f89,#bc1f89,#c02486,#c62b80,#cd347a,#d23a76,#d13977,#c82e7e,#bb1d8a,#ab1095,#9f089c,#9a059f,#9e079d,#ae1193,#c82d7f,#e7595d)"></i><i style="background:linear-gradient(90deg,#c62c80,#d33b75,#da466d,#e14f65,#e7585d,#eb6158,#ed6654,#ee6952,#ed6753,#eb6157,#e6575e,#de4c68,#d63f72,#cc337b,#c42982,#c02386,#bf2386,#c32783,#c82e7e,#cf3679,#d33b75,#d23a76,#c92f7e,#bb1d8a,#ab1095,#9e089d,#9804a0,#9d079e,#ad1194,#c72d7f,#e85a5c)"></i><i style="background:linear-gradient(90deg,#ca307d,#d43d73,#db476b,#e25163,#e85a5c,#eb6356,#ee6952,#ef6b51,#ee6952,#eb6356,#e7595d,#df4d66,#d74270,#cf3778,#c82d7f,#c42882,#c32783,#c62b81,#cb317c,#d13877,#d43d74,#d33b75,#c92f7e,#bb1d8a,#aa0f95,#9d079d,#9703a1,#9b069e,#ac1094,#c72d7f,#e85b5c)"></i><i style="background:linear-gradient(90deg,#cd347a,#d64072,#dc496a,#e35362,#e95c5b,#ec6555,#ee6a51,#ef6d50,#ee6a51,#ec6455,#e85a5c,#e14f65,#d9446e,#d23a76,#cb327c,#c72d7f,#c72c80,#c92e7e,#cd347a,#d23a76,#d53e73,#d33c75,#ca2f7d,#bb1d8a,#aa0f96,#9c069e,#9603a1,#9a059f,#ab1095,#c72d7f,#e95b5b)"></i><i style="background:linear-gradient(90deg,#d03877,#d74270,#dd4b68,#e45461,#e95e5a,#ed6654,#ef6c50,#f06e4e,#ef6c50,#ed6654,#e95c5b,#e25163,#db476c,#d43e73,#cf3679,#cb327c,#ca307d,#cc327c,#cf3679,#d33c74,#d63f72,#d43d74,#ca307d,#bb1d8a,#a90f96,#9b069e,#9502a2,#9905a0,#aa0f95,#c72c7f,#e95c5b)"></i><i style="background:linear-gradient(90deg,#d33b75,#d9446e,#de4c67,#e55560,#ea5f59,#ed6853,#f06e4f,#f1704d,#f06d4f,#ed6753,#e95d5a,#e35362,#dc496a,#d74170,#d23b75,#cf3678,#ce357a,#cf3679,#d13977,#d53e73,#d74171,#d43d73,#ca307d,#ba1d8a,#a90e96,#9a059f,#9401a3,#9804a0,#aa0f96,#c72c80,#e95d5a)"></i><i style="background:linear-gradient(90deg,#d53e72,#da456d,#df4d66,#e6565f,#eb6158,#ee6a52,#f1704d,#f1724c,#f06f4e,#ee6952,#ea5f59,#e45560,#de4b68,#d9446e,#d53f72,#d33b75,#d13977,#d13976,#d33c75,#d64071,#d74270,#d53e73,#ca307d,#ba1d8a,#a80e97,#9905a0,#9301a3,#9703a1,#a90e96,#c72c80,#e95d5a)"></i><i style="background:linear-gradient(90deg,#d74170,#db476c,#e04e65,#e6575e,#eb6257,#ef6b51,#f1714c,#f2734b,#f1704d,#ee6a51,#eb6158,#e6575f,#e04e66,#db476b,#d8436f,#d63f72,#d43d73,#d43d74,#d53e73,#d74170,#d8436f,#d53f72,#ca317c,#ba1c8b,#a70d97,#9904a0,#9200a4,#9603a1,#a80e97,#c72c80,#ea5e59)"></i><i style="background:linear-gradient(90deg,#d9446e,#dc486a,#e14f65,#e7585d,#eb6356,#ef6c50,#f2734b,#f2744a,#f1724c,#ef6b51,#eb6257,#e7585d,#e15064,#dd4a69,#db466c,#d9436e,#d74170,#d64071,#d64171,#d8436f,#d9446e,#d63f72,#cb317c,#ba1c8b,#a70d98,#9804a1,#9100a4,#9502a2,#a70d97,#c62c80,#ea5f59)"></i><i style="background:linear-gradient(90deg,#db466c,#dd4a69,#e15064,#e7595d,#ec6456,#f06d4f,#f2744b,#f3764a,#f2734b,#ef6c50,#ec6456,#e85a5c,#e35362,#df4e66,#dd4a69,#db486b,#d9456d,#d8436f,#d8436f,#d9456d,#da456d,#d64071,#cb317c,#b91c8b,#a60d98,#9703a1,#9000a4,#9402a3,#a70d97,#c62b80,#ea5f58)"></i><i style="background:linear-gradient(90deg,#dc496a,#de4b68,#e25164,#e7595d,#ec6455,#f06e4e,#f3754a,#f37749,#f2744b,#f06e4f,#ec6555,#e95c5b,#e55560,#e25164,#e04e66,#de4b68,#dc496a,#da466c,#da456d,#da466c,#da466c,#d64071,#ca317c,#b91b8b,#a50c98,#9602a2,#8f00a4,#9401a3,#a60d98,#c62b80,#ea6058)"></i><i style="background:linear-gradient(90deg,#de4b68,#de4c68,#e25163,#e8595c,#ec6555,#f06f4e,#f37649,#f47848,#f2754a,#f06f4e,#ed6654,#ea5e59,#e6575e,#e45461,#e25163,#e14f65,#de4c67,#dc496a,#db476b,#db486b,#db476c,#d64071,#ca307d,#b91b8c,#a40c99,#9502a2,#8e00a4,#9301a3,#a60c98,#c62b80,#eb6158)"></i><i style="background:linear-gradient(90deg,#e04e66,#df4d67,#e25163,#e8595d,#ec6555,#f06f4e,#f37749,#f47848,#f3764a,#f06f4e,#ed6853,#ea6058,#e85a5c,#e6575f,#e45560,#e35362,#e15064,#de4c67,#dd4a69,#dc496a,#db486b,#d64071,#ca307d,#b81a8c,#a40b99,#9401a3,#8d00a5,#9200a4,#a50c98,#c62b80,#eb6157)"></i><i style="background:linear-gradient(90deg,#e15064,#df4d66,#e25163,#e7595d,#ec6455,#f06f4e,#f37749,#f47947,#f37649,#f1704d,#ee6952,#eb6157,#e95c5b,#e8595d,#e7585e,#e5565f,#e35362,#e04f65,#de4c68,#dd4a69,#dc486b,#d64071,#ca307d,#b8198d,#a30b9a,#9301a3,#8c00a5,#9100a4,#a50c99,#c62b80,#eb6257)"></i><i style="background:linear-gradient(90deg,#e35262,#e04e66,#e25164,#e7585d,#ec6455,#f06f4e,#f37749,#f47947,#f37649,#f1714d,#ee6a52,#ec6356,#ea5e59,#e95c5b,#e95b5b,#e85a5c,#e5565f,#e25163,#df4e66,#de4c68,#dc496a,#d64071,#c92f7e,#b7188d,#a20a9a,#9200a4,#8b00a5,#9100a4,#a50c99,#c62b80,#eb6257)"></i><i style="background:linear-gradient(90deg,#e45560,#e04e66,#e15064,#e6585e,#ec6356,#f06f4e,#f37749,#f47947,#f37749,#f1714d,#ee6b51,#ec6555,#eb6158,#ea5f59,#ea5f59,#e95d5a,#e7595d,#e45461,#e14f65,#df4d67,#dc496a,#d64071,#c92e7e,#b6178e,#a1099b,#9200a4,#8b00a5,#9000a4,#a40c99,#c62b80,#eb6356)"></i><i style="background:linear-gradient(90deg,#e6575e,#e04f65,#e14f65,#e6575f,#eb6257,#f06e4f,#f37749,#f47947,#f37649,#f1714d,#ef6b50,#ed6654,#eb6356,#eb6257,#eb6257,#ea6058,#e95c5b,#e5565f,#e25163,#e04e66,#dc496a,#d64072,#c82d7f,#b5168f,#a0099b,#9100a4,#8a00a5,#9000a4,#a40c99,#c62c80,#ec6356)"></i><i style="background:linear-gradient(90deg,#e8595c,#e04f65,#e04f65,#e55560,#eb6158,#ef6d4f,#f37649,#f47948,#f37649,#f1714c,#ef6c50,#ed6753,#ec6555,#ec6455,#ec6555,#ec6356,#ea5e59,#e7585d,#e35362,#e04f65,#dc496a,#d53f72,#c72d7f,#b4168f,#9f089c,#9000a4,#8900a5,#9000a4,#a40c99,#c72c80,#ec6456)"></i><i style="background:linear-gradient(90deg,#e95c5b,#e04f65,#df4e66,#e45461,#ea5f59,#ef6c50,#f3754a,#f47848,#f37649,#f1714d,#ef6c50,#ee6952,#ed6753,#ed6753,#ed6753,#ed6654,#eb6157,#e85a5c,#e45461,#e14f65,#dc496a,#d53e72,#c62c80,#b31590,#9e089d,#8f00a4,#8900a5,#8f00a4,#a40c99,#c72c80,#ec6455)"></i><i style="background:linear-gradient(90deg,#ea5f59,#e14f65,#df4c67,#e35262,#e95d5a,#ee6b51,#f2744b,#f37748,#f3754a,#f1714d,#ef6d4f,#ee6a51,#ee6952,#ee6952,#ee6a51,#ee6852,#ec6356,#e95c5a,#e5565f,#e15064,#dc496a,#d53e73,#c52a81,#b21491,#9e079d,#8f00a4,#8900a5,#8f00a4,#a50c99,#c72d7f,#ec6555)"></i><i style="background:linear-gradient(90deg,#eb6157,#e14f65,#de4b68,#e15164,#e95b5b,#ee6952,#f2734b,#f37649,#f2754a,#f1714d,#ef6d4f,#ef6b51,#ee6a51,#ef6b51,#ef6c50,#ee6b51,#ed6654,#ea5e59,#e6575e,#e25164,#dc496a,#d43d74,#c52982,#b11491,#9d079e,#8e00a4,#8800a5,#8f00a4,#a50c99,#c72d7f,#ec6555)"></i><i style="background:linear-gradient(90deg,#ec6455,#e14f65,#dd4a69,#e04f65,#e8595d,#ed6753,#f1714c,#f3754a,#f2744b,#f1704d,#f06d4f,#ef6c50,#ef6c50,#ef6d4f,#f06e4f,#ef6d50,#ed6853,#ea6058,#e7585e,#e25163,#dc496a,#d33c74,#c42882,#b01392,#9c069e,#8e00a4,#8800a5,#9000a4,#a50c98,#c82d7f,#ec6554)"></i><i style="background:linear-gradient(90deg,#ed6753,#e14f65,#dc496a,#df4d67,#e6575e,#ec6555,#f0704e,#f2744b,#f2734c,#f0704e,#f06e4f,#ef6d4f,#f06d4f,#f06f4e,#f1704d,#f06e4e,#ee6952,#eb6157,#e7595d,#e25163,#dc486a,#d33b75,#c32783,#af1292,#9b069e,#8d00a5,#8800a5,#9000a4,#a60c98,#c82e7e,#ed6654)"></i><i style="background:linear-gradient(90deg,#ee6a52,#e14f65,#db476b,#dd4b69,#e55560,#eb6356,#f06e4f,#f1724c,#f1714c,#f06f4e,#f06e4f,#f06e4f,#f06f4e,#f1704d,#f1714c,#f1704d,#ee6b51,#eb6356,#e85a5c,#e25263,#dc486b,#d23a76,#c22684,#ae1293,#9b059f,#8d00a5,#8800a5,#9100a4,#a70d98,#c92f7e,#ed6654)"></i><i style="background:linear-gradient(90deg,#ef6c50,#e14f65,#da466d,#dc486a,#e35362,#ea6058,#ef6c50,#f1704d,#f1704d,#f06e4e,#f06e4f,#f06e4f,#f0704d,#f1724c,#f2734b,#f1714d,#ef6c50,#ec6455,#e85a5c,#e25263,#db476b,#d23976,#c12585,#ad1194,#9a059f,#8d00a5,#8900a5,#9100a4,#a70d97,#ca307d,#ed6754)"></i><i style="background:linear-gradient(90deg,#f06f4e,#e14f65,#d9446e,#da466c,#e15064,#e95d5a,#ee6952,#f06e4e,#f06f4e,#f06e4f,#f06d4f,#f06f4e,#f1714d,#f2734b,#f2744b,#f1724c,#ef6d4f,#ec6555,#e85b5b,#e25263,#db476c,#d13877,#c02486,#ad1194,#9a059f,#8d00a5,#8900a5,#9200a4,#a80e97,#ca307d,#ed6753)"></i><i style="background:linear-gradient(90deg,#f1724c,#e14f65,#d8436f,#d9446e,#df4d66,#e85a5c,#ed6754,#ef6c50,#ef6d4f,#ef6d50,#ef6d4f,#f06f4e,#f1724c,#f2744b,#f2754a,#f2734b,#f06d4f,#ec6555,#e85b5b,#e25163,#da466c,#d03778,#bf2286,#ac1095,#9905a0,#8d00a5,#8a00a5,#9301a3,#a90f96,#cb317c,#ed6753)"></i><i style="background:linear-gradient(90deg,#f2754a,#e15064,#d74170,#d74170,#dd4b68,#e6585e,#ec6455,#ee6a51,#ef6c50,#ef6c50,#ef6d4f,#f06f4e,#f1724c,#f2754a,#f3754a,#f2734b,#f06e4f,#ec6554,#e85b5b,#e25163,#da456d,#cf3679,#be2187,#ab1095,#9904a0,#8d00a5,#8b00a5,#9401a3,#ab0f95,#cc327b,#ed6853)"></i><i style="background:linear-gradient(90deg,#f37748,#e15064,#d64071,#d53f72,#db486b,#e45560,#eb6157,#ed6853,#ee6a51,#ee6b51,#ef6d50,#f0704e,#f2734b,#f3754a,#f37649,#f2744b,#f06e4f,#ec6554,#e85b5b,#e25164,#d9456d,#ce3579,#bd2088,#aa0f95,#9904a0,#8e00a4,#8c00a5,#9602a2,#ac1094,#cd337b,#ed6853)"></i><i style="background:linear-gradient(90deg,#f57a46,#e15064,#d53e72,#d43d74,#d9456d,#e25263,#e95e5a,#ec6555,#ed6853,#ee6a52,#ef6c50,#f0704e,#f2734b,#f3754a,#f37649,#f2744b,#f06e4f,#ec6555,#e85b5c,#e15064,#d9446e,#cd347a,#bd1f88,#aa0f96,#9904a0,#8e00a4,#8d00a5,#9703a1,#ae1193,#ce357a,#ed6853)"></i><i style="background:linear-gradient(90deg,#f67d45,#e15064,#d43d73,#d23a76,#d74270,#e04e65,#e85a5c,#eb6256,#ed6654,#ee6952,#ef6c50,#f0704e,#f2734b,#f3764a,#f37649,#f2734b,#f06d4f,#ec6555,#e85a5c,#e14f65,#d8436f,#cc337b,#bc1f89,#a90f96,#9904a0,#8f00a4,#8e00a4,#9904a0,#af1292,#cf3679,#ee6852)"></i><i style="background:linear-gradient(90deg,#f78043,#e25163,#d33c74,#d03878,#d53f72,#de4b68,#e6575e,#ea5f58,#ec6455,#ed6753,#ef6b50,#f06f4e,#f2734b,#f3754a,#f3754a,#f2734c,#ef6d50,#ec6455,#e8595d,#e04f65,#d74270,#cb327c,#bb1e8a,#a90f96,#9905a0,#9000a4,#9000a4,#9b059f,#b11491,#d03778,#ee6952)"></i><i style="background:linear-gradient(90deg,#f78341,#e25163,#d33b75,#ce357a,#d33c75,#db476b,#e45461,#e95c5a,#eb6257,#ed6654,#ee6b51,#f06f4e,#f2734b,#f2754a,#f2754a,#f1724c,#ef6c50,#eb6356,#e7585d,#df4d66,#d74170,#cb317c,#bb1d8a,#a90e96,#9a059f,#9100a4,#9200a4,#9d079e,#b31590,#d13977,#ee6952)"></i><i style="background:linear-gradient(90deg,#f8863f,#e25263,#d23a76,#cc327b,#d13877,#d9446e,#e15064,#e7595d,#ea6058,#ec6555,#ee6a51,#f06f4e,#f1724c,#f2744a,#f2744b,#f1714d,#ee6a51,#eb6157,#e6575e,#df4c67,#d64071,#ca307d,#ba1d8a,#a90e96,#9a059f,#9300a4,#9401a3,#9f089c,#b5178f,#d23b76,#ee6952)"></i><i style="background:linear-gradient(90deg,#f9893d,#e35362,#d13977,#ca307d,#ce357a,#d64071,#df4d67,#e5565f,#e95e5a,#ec6456,#ee6952,#f06e4f,#f1724c,#f2734b,#f2734c,#f06f4e,#ee6952,#ea6058,#e55660,#de4b68,#d53f72,#c92f7e,#ba1c8b,#a90e96,#9b069f,#9401a3,#9602a2,#a10a9b,#b7198d,#d33c74,#ee6952)"></i><i style="background:linear-gradient(90deg,#fa8c3b,#e35361,#d03878,#c82d7f,#cb317c,#d43d74,#dc496a,#e35361,#e95b5b,#eb6256,#ee6952,#f06e4f,#f1714d,#f2724c,#f1714c,#f06e4f,#ed6753,#ea5e59,#e45461,#dd4969,#d43d73,#c82e7e,#b91c8b,#a90e96,#9c069e,#9602a2,#9804a0,#a40b99,#b91b8b,#d53e73,#ee6952)"></i><i style="background:linear-gradient(90deg,#fa8f39,#e45461,#cf3778,#c62b80,#c82d7f,#d13977,#da456d,#e15064,#e7595d,#eb6157,#ed6853,#ef6d4f,#f1704d,#f1714c,#f1704d,#ef6c50,#ec6555,#e95c5b,#e35262,#db486b,#d33c74,#c72d7f,#b91b8c,#a90f96,#9c079e,#9703a1,#9a059f,#a70d98,#bc1e89,#d63f72,#ee6952)"></i><i style="background:linear-gradient(90deg,#fb9138,#e45560,#cf3679,#c42982,#c52a81,#ce357a,#d74270,#df4d66,#e6575e,#ea6058,#ed6753,#ef6c50,#f06f4e,#f1704d,#f06e4f,#ee6a51,#eb6356,#e8595c,#e15064,#da466c,#d23b75,#c72c80,#b91b8c,#a90f96,#9d079d,#9904a0,#9d079e,#a90f96,#be2188,#d74170,#ee6952)"></i><i style="background:linear-gradient(90deg,#fc9436,#e55660,#ce3579,#c22684,#c22684,#ca307d,#d53e73,#dd4a69,#e55560,#ea5f59,#ed6654,#ef6b50,#f06e4f,#f06e4e,#ef6c50,#ed6853,#ea6058,#e6575e,#e04e66,#d9446e,#d13977,#c62b81,#b81a8c,#a90f96,#9e089d,#9a059f,#9f089c,#ac1094,#c02386,#d8436f,#ee6a52)"></i><i style="background:linear-gradient(90deg,#fc9635,#e5565f,#ce357a,#c02485,#c02386,#c72c7f,#d23a76,#db476b,#e35361,#e95d5a,#ec6554,#ee6b51,#ef6d4f,#ef6d4f,#ee6a51,#ec6555,#e95d5a,#e45461,#de4b68,#d74270,#d03778,#c52982,#b8198d,#a90f96,#9f089c,#9c069e,#a10a9b,#af1293,#c22684,#d9446e,#ee6a52)"></i><i style="background:linear-gradient(90deg,#fd9933,#e6575e,#cd347a,#bf2287,#bd2088,#c42882,#cf3778,#d9456d,#e25163,#e95c5b,#ec6555,#ee6a52,#ef6c50,#ef6b51,#ed6853,#eb6256,#e85a5c,#e25263,#dc486a,#d63f72,#ce357a,#c32883,#b7198d,#a90f96,#a0099c,#9e079d,#a40b99,#b21491,#c42982,#da466c,#ee6a52)"></i><i style="background:linear-gradient(90deg,#fd9b32,#e6585e,#cd337b,#bd2088,#ba1d8a,#c12585,#cc337b,#d74270,#e14f65,#e85b5b,#ec6456,#ee6952,#ee6a51,#ee6952,#ed6654,#ea6058,#e6575e,#e04f65,#da456d,#d43d74,#cc327b,#c22684,#b6188e,#a90f96,#a1099b,#9f089c,#a60d98,#b5168f,#c72c80,#db486b,#ee6a52)"></i><i style="background:linear-gradient(90deg,#fd9d31,#e7585d,#cc337b,#bc1e89,#b81a8c,#be2187,#c92f7e,#d53f72,#df4d66,#e85a5c,#eb6356,#ed6853,#ee6952,#ed6853,#ec6356,#e95d5a,#e45461,#de4b68,#d8426f,#d23a76,#ca307d,#c12585,#b6178e,#a90f96,#a10a9b,#a1099b,#a90e96,#b7188d,#c92f7e,#dc496a,#ee6952)"></i><i style="background:linear-gradient(90deg,#fe9f2f,#e7595d,#cc327b,#ba1d8a,#b6178e,#bb1d8a,#c62b80,#d43c74,#de4c68,#e7595d,#eb6257,#ed6753,#ed6853,#ed6654,#eb6157,#e85a5c,#e25163,#db486b,#d53f72,#cf3679,#c82d7f,#bf2386,#b5168f,#a90f96,#a20a9a,#a30a9a,#ab1095,#b91b8b,#cb317c,#de4b68,#ee6952)"></i><i style="background:linear-gradient(90deg,#fea02e,#e85a5c,#cb327c,#b91b8c,#b31590,#b81a8c,#c32883,#d23a76,#dd4a69,#e6585e,#eb6157,#ed6654,#ed6654,#ec6455,#ea5e59,#e6575f,#e04e66,#d9446e,#d33b75,#cc337b,#c52a81,#be2188,#b41590,#a90e96,#a30a9a,#a40b99,#ad1194,#bb1e89,#cd347a,#df4c67,#ee6952)"></i><i style="background:linear-gradient(90deg,#fea22e,#e85a5c,#cb327c,#b8198d,#b11491,#b6178e,#c12585,#d03778,#dc486a,#e6575f,#ea6058,#ec6555,#ec6555,#eb6257,#e95c5b,#e45461,#dd4a69,#d64071,#cf3778,#c92f7e,#c32783,#bc1e89,#b21491,#a80e97,#a30b9a,#a50c98,#af1292,#be2188,#cf3678,#e04e66,#ee6952)"></i><i style="background:linear-gradient(90deg,#ffa32d,#e85b5c,#cb317c,#b7188e,#af1293,#b31590,#bf2287,#ce357a,#db476c,#e55660,#ea5f58,#ec6455,#ec6456,#ea6058,#e7595d,#e25164,#db466c,#d33c74,#cc327b,#c52a81,#c02486,#ba1c8b,#b11392,#a80e97,#a30b9a,#a70d98,#b11491,#c02386,#d13977,#e14f65,#ee6952)"></i><i style="background:linear-gradient(90deg,#ffa32c,#e85b5b,#cb317c,#b6178e,#ad1194,#b11491,#bd1f88,#cc327b,#da456d,#e45560,#ea5f59,#ec6356,#eb6256,#ea5e59,#e6575f,#df4d66,#d8436f,#d03778,#c82d7f,#c22684,#bd2088,#b7198d,#af1293,#a70d97,#a40b99,#a80e97,#b31590,#c22684,#d33b75,#e25164,#ee6952)"></i><i style="background:linear-gradient(90deg,#ffa42c,#e85b5b,#ca307d,#b5168f,#ac1095,#af1293,#bb1d8a,#ca307d,#d9446e,#e45461,#e95e5a,#eb6257,#eb6157,#e95c5b,#e45461,#dd4a69,#d53f72,#cc327b,#c32883,#be2187,#ba1c8b,#b5168f,#ad1194,#a60d98,#a30b9a,#a90e96,#b5168f,#c32883,#d43d73,#e25263,#ee6852)"></i><i style="background:linear-gradient(90deg,#ffa42c,#e95b5b,#ca307d,#b4158f,#aa0f95,#ad1194,#b91b8b,#c92f7e,#d8436f,#e35362,#e95d5a,#eb6157,#ea6058,#e85a5c,#e25263,#db476c,#d23a76,#c82d7f,#bf2386,#ba1c8b,#b6188e,#b21491,#ab1095,#a50c99,#a30b9a,#aa0f96,#b6188e,#c52a81,#d53f72,#e35362,#ed6853)"></i><i style="background:linear-gradient(90deg,#ffa42c,#e85b5b,#ca307d,#b41590,#a90f96,#ac1094,#b81a8c,#c82d7f,#d74270,#e25263,#e95c5b,#eb6158,#ea5f59,#e7585d,#e04f65,#d8436f,#ce3679,#c32883,#bb1d8a,#b6178e,#b21491,#ae1293,#a80e97,#a30b9a,#a30b9a,#aa0f96,#b8198d,#c72c80,#d74171,#e45461,#ed6853)"></i><i style="background:linear-gradient(90deg,#ffa42c,#e85b5b,#ca307d,#b31590,#a80e97,#ab1095,#b7198d,#c72c80,#d74171,#e25163,#e95b5b,#ea6058,#ea5e59,#e6575f,#df4d67,#d64071,#cb317c,#bf2287,#b6178e,#b01392,#ae1193,#ab1095,#a60c98,#a20a9b,#a20a9a,#ab0f95,#b91a8c,#c82e7e,#d8426f,#e55560,#ed6753)"></i><i style="background:linear-gradient(90deg,#ffa32d,#e85b5c,#c92f7e,#b31490,#a80e97,#aa0f95,#b6188e,#c62b80,#d64071,#e15064,#e85b5b,#ea5f59,#e95d5a,#e55560,#dd4a69,#d43c74,#c72c80,#ba1c8b,#b01392,#ab1095,#a90e96,#a70d98,#a30b9a,#a0099c,#a20a9b,#ab1095,#b91b8b,#ca2f7d,#d9446e,#e5565f,#ed6753)"></i><i style="background:linear-gradient(90deg,#ffa22d,#e85a5c,#c92f7e,#b21491,#a70d97,#aa0f96,#b6178e,#c52a81,#d63f72,#e15064,#e85a5c,#ea5f59,#e95c5b,#e45461,#db486b,#d13977,#c32783,#b6178e,#aa0f95,#a50c98,#a40b99,#a30b9a,#a0099c,#9e089d,#a1099b,#ab1095,#ba1c8b,#cb317c,#da456d,#e6575f,#ed6654)"></i><i style="background:linear-gradient(90deg,#fea12e,#e85a5c,#c92e7e,#b21491,#a70d97,#a90f96,#b5178f,#c52a81,#d53f72,#e14f65,#e85a5c,#ea5e59,#e95b5b,#e35362,#da466d,#ce3579,#bf2287,#b01392,#a40c99,#9f089c,#9f089c,#9f089c,#9d079d,#9c069e,#a0099c,#ab1095,#bb1d8a,#cc327b,#da466c,#e6575e,#ed6654)"></i><i style="background:linear-gradient(90deg,#fea02f,#e7595d,#c82e7e,#b21491,#a70d97,#a90f96,#b5168f,#c52982,#d53e73,#e04f65,#e85a5c,#ea5e59,#e85b5b,#e25263,#d8436e,#cb317c,#bb1d8a,#ab0f95,#9e089d,#9a059f,#9a059f,#9a059f,#9a059f,#9a059f,#9f089c,#ab1095,#bb1e8a,#cd337b,#db476b,#e7585e,#ec6554)"></i><i style="background:linear-gradient(90deg,#fe9e30,#e7585e,#c82e7f,#b21491,#a70d97,#a90f96,#b5168f,#c52982,#d53e73,#e04f65,#e8595d,#e95e59,#e85b5c,#e25164,#d74170,#c82e7e,#b7198d,#a50c98,#9904a0,#9401a3,#9402a3,#9603a1,#9703a1,#9804a1,#9e079d,#ab0f95,#bc1e89,#cd347a,#dc486b,#e7585d,#ec6555)"></i><i style="background:linear-gradient(90deg,#fd9d31,#e6575e,#c82d7f,#b11491,#a70d97,#aa0f96,#b5178f,#c52982,#d53e73,#e04e65,#e7595d,#e95e59,#e85a5c,#e15064,#d64071,#c62b81,#b31590,#a0099c,#9300a4,#8e00a4,#8f00a4,#9200a4,#9301a3,#9602a2,#9c079e,#aa0f95,#bc1f89,#ce357a,#dc496a,#e7595d,#ec6455)"></i><i style="background:linear-gradient(90deg,#fd9b32,#e5565f,#c72c7f,#b11491,#a70d97,#aa0f96,#b6178e,#c52a81,#d53e73,#e04e66,#e7595d,#ea5e59,#e85a5c,#e14f65,#d53e73,#c32883,#af1293,#9b059f,#8d00a5,#8800a5,#8900a5,#8d00a5,#9000a4,#9301a3,#9b069f,#aa0f96,#bc1f89,#ce3579,#dc496a,#e7595d,#ec6356)"></i><i style="background:linear-gradient(90deg,#fd9833,#e55560,#c62c80,#b11491,#a80e97,#aa0f95,#b6178e,#c52a81,#d53e73,#e04e65,#e8595c,#ea5e59,#e85a5c,#e04f65,#d43d74,#c12585,#ab1095,#9602a2,#8600a5,#8100a6,#8400a5,#8900a5,#8c00a5,#9100a4,#9a059f,#a90f96,#bc1f89,#ce3679,#dc496a,#e7595d,#eb6256)"></i><i style="background:linear-gradient(90deg,#fc9635,#e45461,#c62b80,#b11391,#a80e97,#ab1095,#b7188e,#c62a81,#d53e72,#e04f65,#e85a5c,#ea5f59,#e85b5c,#e04e65,#d33c75,#bf2386,#a80e97,#9100a4,#8100a6,#7c00a6,#7e00a6,#8400a5,#8900a5,#8f00a4,#9904a0,#a90e96,#bc1f89,#cf3679,#dd496a,#e7585d,#eb6157)"></i><i style="background:linear-gradient(90deg,#fc9436,#e35262,#c52a81,#b11392,#a80e97,#ac1095,#b7198d,#c62b80,#d53f72,#e04f65,#e85a5c,#ea5f58,#e85b5b,#e04e65,#d33b75,#be2188,#a40c99,#8c00a5,#7b00a6,#7600a7,#7900a7,#8000a6,#8500a5,#8c00a5,#9703a1,#a80e97,#bc1f89,#cf3679,#dc496a,#e7585e,#ea6058)"></i><i style="background:linear-gradient(90deg,#fb9138,#e25164,#c42982,#b01392,#a80e97,#ac1094,#b81a8c,#c72c80,#d63f72,#e15064,#e85b5b,#ea6058,#e95c5b,#e04f65,#d23b76,#bc1f89,#a20a9b,#8800a5,#7600a7,#7000a8,#7400a7,#7b00a6,#8200a6,#8a00a5,#9603a2,#a80e97,#bc1e89,#ce3679,#dc496a,#e6575e,#ea5f59)"></i><i style="background:linear-gradient(90deg,#fa8e3a,#e04f65,#c32883,#b01392,#a80e97,#ad1194,#b91b8c,#c72d7f,#d64071,#e15064,#e95c5b,#eb6157,#e95d5a,#e14f65,#d23a76,#bb1e8a,#9f089c,#8400a6,#7100a8,#6b00a8,#6f00a8,#7700a7,#7f00a6,#8800a5,#9502a2,#a70d97,#bb1e8a,#ce3579,#dc486a,#e6575f,#ea5e59)"></i><i style="background:linear-gradient(90deg,#fa8b3c,#df4d66,#c22783,#af1292,#a90e96,#ad1194,#b91b8b,#c82e7e,#d74170,#e25163,#e95d5a,#eb6256,#ea5e59,#e15064,#d33b75,#bb1d8a,#9d079d,#8000a6,#6c00a8,#6600a6,#6a00a8,#7300a7,#7c00a6,#8600a5,#9401a3,#a60d98,#bb1d8a,#ce347a,#db486b,#e55660,#e95d5a)"></i><i style="background:linear-gradient(90deg,#f9883d,#de4b68,#c12584,#af1293,#a90e96,#ae1193,#ba1c8b,#c92f7e,#d8426f,#e35262,#ea5f59,#ec6455,#ea6058,#e25163,#d33b75,#bb1d8a,#9c069e,#7d00a6,#6800a7,#6101a5,#6500a6,#6f00a8,#7900a7,#8400a5,#9301a3,#a60c98,#ba1d8a,#cd347a,#db476c,#e45460,#e95b5b)"></i><i style="background:linear-gradient(90deg,#f8853f,#dc496a,#c02486,#ae1293,#a80e97,#ae1293,#bb1d8a,#ca307d,#d8436e,#e45461,#ea6058,#ed6654,#eb6157,#e35362,#d43c74,#bb1d8a,#9b059f,#7a00a6,#6401a6,#5c01a4,#6101a5,#6c00a8,#7600a7,#8200a6,#9200a4,#a50c99,#ba1c8b,#cc337b,#da466d,#e35362,#e85a5c)"></i><i style="background:linear-gradient(90deg,#f78241,#db476b,#bf2287,#ad1194,#a80e97,#af1293,#bc1e89,#cb327c,#d9456d,#e55560,#eb6257,#ed6853,#ec6356,#e45461,#d53e73,#bc1e89,#9a059f,#7800a7,#6001a5,#5801a3,#5d01a4,#6800a7,#7400a7,#8100a6,#9100a4,#a40c99,#b91b8b,#cb327c,#d9446e,#e25263,#e7585d)"></i><i style="background:linear-gradient(90deg,#f67f44,#d9456d,#bd2088,#ac1095,#a80e97,#af1293,#bc1f89,#cc337b,#da466c,#e6575e,#ec6455,#ee6a51,#ed6654,#e6565f,#d64071,#bd2088,#9a059f,#7700a7,#5d01a4,#5502a2,#5a01a3,#6501a6,#7200a7,#7f00a6,#9000a4,#a40b99,#b81a8c,#ca307d,#d8436f,#e15064,#e6575e)"></i><i style="background:linear-gradient(90deg,#f57c46,#d8426f,#bb1e89,#ab0f95,#a70d97,#af1293,#bd2088,#cd347a,#dc486b,#e7595d,#ed6754,#ef6c50,#ee6852,#e7595d,#d74270,#be2187,#9b069f,#7600a7,#5b01a4,#5202a1,#5602a3,#6201a6,#7000a8,#7e00a6,#9000a4,#a30b9a,#b8198d,#c92f7e,#d74170,#e04e66,#e55560)"></i><i style="background:linear-gradient(90deg,#f47848,#d64071,#ba1c8b,#a90f96,#a60d98,#af1293,#be2188,#cf3679,#dd4a69,#e95b5b,#ee6952,#f06f4e,#ef6b51,#e95c5b,#d9456d,#c02485,#9c069e,#7600a7,#5901a3,#4f02a1,#5302a2,#6001a5,#6e00a8,#7d00a6,#8f00a4,#a20a9a,#b7188d,#c82d7f,#d53f72,#de4c67,#e45461)"></i><i style="background:linear-gradient(90deg,#f2754a,#d43d73,#b8198d,#a80e97,#a60c98,#af1293,#be2187,#d03778,#de4c68,#ea5e59,#ef6c50,#f1724c,#f06e4f,#ea5f59,#db476b,#c22684,#9d079d,#7500a7,#5702a3,#4c02a0,#5102a1,#5e01a4,#6d00a8,#7d00a6,#8f00a4,#a20a9a,#b6178e,#c62b80,#d43d74,#dd4a69,#e25263)"></i><i style="background:linear-gradient(90deg,#f1724c,#d33b75,#b6178e,#a60c98,#a50c99,#af1293,#bf2287,#d13977,#e04e66,#eb6157,#f06f4e,#f3754a,#f1714c,#eb6257,#dd4a69,#c52981,#9f089c,#7600a7,#5602a3,#4a03a0,#4f02a1,#5c01a4,#6b00a8,#7c00a6,#8e00a4,#a10a9b,#b5168f,#c52a81,#d33b75,#db486b,#e15064)"></i><i style="background:linear-gradient(90deg,#f06e4f,#d03878,#b41590,#a40b99,#a40b99,#af1293,#bf2386,#d23a76,#e15064,#ec6455,#f1724c,#f47848,#f2754a,#ed6654,#e04e66,#c72d7f,#a10a9b,#7600a7,#5502a2,#49039f,#4d02a0,#5a01a3,#6a00a8,#7b00a6,#8e00a4,#a1099b,#b41590,#c32883,#d13977,#da456d,#e04e65)"></i><i style="background:linear-gradient(90deg,#ef6b51,#ce357a,#b11391,#a20a9a,#a20a9a,#ae1293,#c02486,#d33c74,#e35262,#ed6753,#f37649,#f57c45,#f47848,#ee6a52,#e25163,#ca307d,#a40b99,#7700a7,#5502a2,#47039f,#4b02a0,#5901a3,#6900a7,#7b00a6,#8e00a4,#a1099b,#b31590,#c22684,#cf3679,#d8436f,#df4d67)"></i><i style="background:linear-gradient(90deg,#ed6753,#cb317c,#ae1293,#a0099c,#a10a9b,#ae1293,#c02485,#d43d73,#e45560,#ee6a51,#f47947,#f68043,#f57c45,#f06e4f,#e55560,#cd347a,#a60d98,#7900a7,#5502a2,#46039f,#4a039f,#5702a3,#6900a7,#7b00a6,#8e00a4,#a0099b,#b21491,#c02485,#cd347a,#d74171,#dd4b68)"></i><i style="background:linear-gradient(90deg,#ec6456,#c82e7e,#ac1095,#9e089d,#a0099c,#ae1193,#c12585,#d53f72,#e6575e,#f06e4f,#f67d45,#f88440,#f78043,#f1724c,#e7595d,#d03877,#a90e96,#7a00a7,#5502a2,#45039e,#49039f,#5702a3,#6800a7,#7b00a6,#8e00a4,#a0099c,#b11392,#bf2287,#cb317c,#d53e73,#dc496a)"></i><i style="background:linear-gradient(90deg,#ea6058,#c62b81,#a90e96,#9c069e,#9e089d,#ad1194,#c12584,#d64171,#e85a5c,#f1714c,#f78142,#f9883e,#f88440,#f37649,#e95d5a,#d33c74,#ac1094,#7c00a6,#5502a2,#45039e,#48039f,#5602a2,#6800a7,#7b00a6,#8e00a4,#a0099c,#b01392,#bd2088,#c92f7e,#d33c75,#db476c)"></i><i style="background:linear-gradient(90deg,#e95d5a,#c32883,#a60d98,#9905a0,#9d079d,#ac1194,#c22684,#d8426f,#e95c5a,#f3754a,#f8863f,#fa8c3b,#f9893d,#f57a46,#eb6257,#d64072,#af1293,#7e00a6,#5602a2,#45039e,#47039f,#5602a2,#6800a7,#7b00a6,#8f00a4,#9f089c,#af1293,#bc1e89,#c72c80,#d23976,#da456d)"></i><i style="background:linear-gradient(90deg,#e7595d,#c02485,#a30b9a,#9703a1,#9b069e,#ac1094,#c22684,#d9446e,#ea5f58,#f47947,#f98a3c,#fb9138,#fa8d3a,#f67f43,#ed6654,#d8436f,#b21491,#8000a6,#5602a3,#45039e,#47039f,#5502a2,#6800a7,#7c00a6,#8f00a4,#9f089c,#ae1293,#ba1d8a,#c52a81,#cf3778,#d8436f)"></i><i style="background:linear-gradient(90deg,#e5565f,#be2188,#a0099c,#9502a2,#9a059f,#ab1095,#c32783,#da456d,#eb6256,#f67d45,#fa8e3a,#fc9535,#fb9237,#f78440,#ee6a51,#db476c,#b5168f,#8200a6,#5702a3,#45039e,#47039f,#5602a2,#6900a7,#7c00a6,#9000a4,#9f089c,#ad1194,#b91b8c,#c32783,#cd347a,#d74170)"></i><i style="background:linear-gradient(90deg,#e35362,#bb1d8a,#9d079d,#9200a4,#9804a0,#aa0f95,#c32783,#db476c,#ec6554,#f78142,#fb9337,#fd9a32,#fc9734,#f9883d,#f06f4e,#dd4a69,#b8198d,#8400a6,#5801a3,#45039e,#47039f,#5602a2,#6900a7,#7d00a6,#9000a4,#9f089c,#ac1194,#b8198d,#c12584,#cb327c,#d63f72)"></i><i style="background:linear-gradient(90deg,#e15064,#b81a8c,#9a059f,#8f00a4,#9603a2,#a90f96,#c32883,#dc486a,#ee6852,#f8853f,#fc9834,#fe9f2f,#fd9b31,#fa8d3a,#f2734b,#e04e66,#ba1c8b,#8600a5,#5a01a3,#46039f,#48039f,#5602a3,#6a00a7,#7e00a6,#9100a4,#9f089c,#ac1095,#b7188e,#c02386,#ca307d,#d43d73)"></i><i style="background:linear-gradient(90deg,#df4c67,#b5168f,#9703a1,#8d00a5,#9401a3,#a90e96,#c32883,#dd4a69,#ef6c50,#f98a3d,#fd9d31,#ffa42c,#fea02e,#fb9238,#f37748,#e25163,#bc1f89,#8800a5,#5b01a4,#47039f,#49039f,#5702a3,#6b00a8,#7f00a6,#9100a4,#a0099c,#ab1095,#b6178e,#be2287,#c82d7f,#d33b75)"></i><i style="background:linear-gradient(90deg,#dd496a,#b21491,#9401a3,#8a00a5,#9200a4,#a80e97,#c42882,#de4b68,#f06f4e,#fa8e3a,#ffa22d,#ffa929,#ffa52b,#fc9635,#f57b46,#e45461,#be2287,#8a00a5,#5c01a4,#48039f,#4a039f,#5801a3,#6c00a8,#8000a6,#9200a4,#a0099c,#ab1095,#b5168f,#bd2088,#c62b80,#d23a76)"></i><i style="background:linear-gradient(90deg,#da466c,#af1293,#9100a4,#8700a5,#9000a4,#a70d98,#c42882,#df4d67,#f1724c,#fb9337,#ffa72a,#ffaf26,#ffaa28,#fd9b32,#f67f43,#e6575e,#c12485,#8c00a5,#5e01a4,#49039f,#4b02a0,#5901a3,#6d00a8,#8100a6,#9301a3,#a0099b,#ab1095,#b41590,#bc1f89,#c52a81,#d03878)"></i><i style="background:linear-gradient(90deg,#d8436f,#ab1095,#8d00a5,#8400a5,#8e00a4,#a60c98,#c42882,#e04e65,#f2754a,#fc9734,#ffac27,#ffb422,#ffaf25,#fe9f2f,#f78341,#e85a5c,#c22783,#8e00a4,#5f01a5,#4a03a0,#4c02a0,#5b01a4,#6e00a8,#8200a6,#9401a3,#a1099b,#ab1095,#b31590,#bb1d8a,#c42882,#cf3679)"></i><i style="background:linear-gradient(90deg,#d64071,#a80e97,#8a00a5,#8100a6,#8c00a5,#a40c99,#c42982,#e15064,#f47848,#fd9c31,#ffb224,#ffb91f,#ffb422,#ffa42c,#f8873e,#e95c5a,#c42982,#8f00a4,#6101a5,#4c02a0,#4e02a0,#5c01a4,#7000a8,#8300a6,#9502a2,#a1099b,#ab1095,#b31590,#ba1c8b,#c22783,#cd347a)"></i><i style="background:linear-gradient(90deg,#d43d73,#a50c99,#8700a5,#7e00a6,#8a00a5,#a30b9a,#c42982,#e25163,#f57b46,#fea02f,#ffb721,#ffbe1b,#ffb91f,#ffa82a,#f98a3c,#ea5f59,#c62b81,#9100a4,#6201a6,#4d02a0,#4f02a1,#5e01a5,#7200a7,#8500a5,#9602a2,#a20a9b,#ab1095,#b31590,#ba1c8b,#c12584,#cc327c)"></i><i style="background:linear-gradient(90deg,#d23a76,#a20a9b,#8300a6,#7b00a6,#8800a5,#a20a9a,#c42982,#e35262,#f67e44,#ffa42c,#ffbc1d,#ffc418,#ffbe1c,#ffac27,#fa8d3a,#eb6157,#c72c7f,#9200a4,#6401a6,#4f02a1,#5102a1,#6001a5,#7300a7,#8600a5,#9703a1,#a20a9a,#ab1095,#b31490,#b91b8b,#c02485,#ca307d)"></i><i style="background:linear-gradient(90deg,#d03778,#9e089d,#8000a6,#7900a7,#8500a5,#a1099b,#c42982,#e45461,#f78142,#ffa929,#ffc119,#ffc814,#ffc218,#ffb025,#fb9039,#ec6356,#c82e7e,#9401a3,#6501a6,#5102a1,#5302a2,#6201a6,#7500a7,#8800a5,#9803a1,#a30b9a,#ab1095,#b21491,#b91b8c,#c02386,#c92e7e)"></i><i style="background:linear-gradient(90deg,#cd347a,#9b069e,#7d00a6,#7600a7,#8300a6,#a0099c,#c42982,#e55560,#f88440,#ffad26,#ffc616,#ffcd11,#ffc715,#ffb422,#fb9337,#ec6555,#ca2f7d,#9502a2,#6700a7,#5302a2,#5502a2,#6401a6,#7700a7,#8900a5,#9904a0,#a40b99,#ac1094,#b31490,#b81a8c,#bf2287,#c72d7f)"></i><i style="background:linear-gradient(90deg,#ca317d,#9804a0,#7a00a7,#7300a7,#8100a6,#9f089c,#c42982,#e5565f,#f8873e,#ffb124,#ffca13,#ffd00e,#ffcb12,#ffb720,#fc9535,#ed6754,#cb317c,#9603a1,#6900a7,#5502a2,#5702a3,#6700a7,#7900a7,#8b00a5,#9a059f,#a40c99,#ac1194,#b31590,#b81a8c,#be2187,#c62b80)"></i><i style="background:linear-gradient(90deg,#c82e7f,#9502a2,#7600a7,#7000a8,#7f00a6,#9e079d,#c42982,#e6575e,#f98a3d,#ffb522,#ffce10,#ffd40c,#ffce10,#ffbb1e,#fc9834,#ed6853,#cb327c,#9804a1,#6a00a8,#5702a3,#5a01a3,#6900a7,#7b00a6,#8c00a5,#9b059f,#a50c99,#ad1194,#b31590,#b81a8c,#bd2188,#c52982)"></i><i style="background:linear-gradient(90deg,#c62b81,#9200a4,#7300a7,#6e00a8,#7d00a6,#9d079e,#c42882,#e7585d,#fa8c3b,#ffb91f,#ffd10e,#ffd70a,#ffd10e,#ffbe1c,#fd9a33,#ee6952,#cc337b,#9904a0,#6c00a8,#5901a3,#5c01a4,#6c00a8,#7d00a6,#8e00a4,#9c069e,#a60c98,#ad1194,#b31590,#b81a8c,#bd2088,#c32883)"></i><i style="background:linear-gradient(90deg,#c32883,#8f00a4,#7000a8,#6b00a8,#7b00a6,#9c069e,#c42882,#e8595d,#fa8f39,#ffbd1d,#ffd40c,#ffda08,#ffd40c,#ffc01a,#fd9b32,#ee6a51,#cd347a,#9a059f,#6e00a8,#5b01a4,#5f01a5,#6e00a8,#7f00a6,#9000a4,#9d079e,#a70d98,#ae1193,#b31590,#b81a8d,#bc1f89,#c22684)"></i><i style="background:linear-gradient(90deg,#c12585,#8c00a5,#6e00a8,#6800a7,#7900a7,#9b059f,#c42882,#e85a5c,#fb9138,#ffc01a,#ffd70a,#ffdc06,#ffd70a,#ffc318,#fd9d31,#ef6b51,#ce357a,#9b069f,#7000a8,#5e01a4,#6201a5,#7000a8,#8100a6,#9100a4,#9e079d,#a70d97,#ae1293,#b41590,#b81a8d,#bc1f89,#c12585)"></i><i style="background:linear-gradient(90deg,#bf2287,#8900a5,#6b00a8,#6600a6,#7700a7,#9a059f,#c42882,#e85b5b,#fb9337,#ffc318,#ffda08,#ffde05,#ffd909,#ffc517,#fe9e30,#ef6c50,#ce3579,#9c069e,#7200a7,#6001a5,#6401a6,#7300a7,#8300a6,#9300a4,#9f089c,#a80e97,#af1293,#b41590,#b81a8d,#bb1e89,#c02386)"></i><i style="background:linear-gradient(90deg,#bc1f89,#8600a5,#6800a7,#6401a6,#7600a7,#9904a0,#c42882,#e95c5b,#fc9536,#ffc516,#ffdc07,#ffe004,#ffdb07,#ffc715,#fe9f2f,#ef6c50,#cf3679,#9d079d,#7400a7,#6301a6,#6700a7,#7600a7,#8500a5,#9401a3,#a0099c,#a90e96,#af1292,#b4168f,#b8198d,#bb1d8a,#bf2287)"></i><i style="background:linear-gradient(90deg,#ba1d8a,#8300a6,#6501a6,#6101a5,#7400a7,#9804a0,#c42882,#e95d5a,#fc9635,#ffc715,#ffdd06,#ffe202,#ffdc07,#ffc814,#fe9f2f,#ef6c50,#cf3679,#9f089c,#7600a7,#6500a6,#6a00a7,#7800a7,#8800a5,#9602a2,#a1099b,#aa0f96,#b01392,#b5168f,#b8198d,#bb1d8a,#be2188)"></i><i style="background:linear-gradient(90deg,#b81a8c,#8100a6,#6301a6,#5f01a5,#7300a7,#9703a1,#c42882,#e95d5a,#fc9734,#ffc914,#ffde05,#ffe301,#ffdd06,#ffc913,#fea02f,#ef6c50,#cf3778,#a0099c,#7800a7,#6800a7,#6d00a8,#7b00a6,#8a00a5,#9703a1,#a20a9a,#aa0f95,#b01392,#b5168f,#b8198d,#ba1c8b,#bd1f89)"></i><i style="background:linear-gradient(90deg,#b6188e,#7e00a6,#6001a5,#5d01a4,#7100a7,#9703a1,#c42882,#e95e59,#fd9833,#ffca13,#ffdf04,#ffe401,#ffde05,#ffca13,#fea02f,#ef6c50,#d03778,#a1099b,#7a00a7,#6b00a8,#6f00a8,#7d00a6,#8c00a5,#9904a0,#a30b9a,#ab1095,#b11392,#b5168f,#b8198d,#ba1c8b,#bc1e89)"></i><i style="background:linear-gradient(90deg,#b4168f,#7c00a6,#5e01a5,#5b01a4,#7000a8,#9603a1,#c32883,#ea5e59,#fd9933,#ffcb12,#ffe004,#ffe500,#ffdf05,#ffca12,#fea02f,#ef6c50,#d03778,#a20a9a,#7c00a6,#6e00a8,#7200a7,#8000a6,#8e00a4,#9a059f,#a40b99,#ab1095,#b11391,#b5168f,#b7198d,#b91b8b,#bb1d8a)"></i><i style="background:linear-gradient(90deg,#b21491,#7900a7,#5c01a4,#5a01a3,#6f00a8,#9602a2,#c32883,#ea5e59,#fd9933,#ffcc12,#ffe003,#ffe500,#ffdf04,#ffca12,#fe9f2f,#ef6b50,#d03778,#a30b9a,#7e00a6,#7000a8,#7500a7,#8200a6,#9000a4,#9b069e,#a50c99,#ac1094,#b11491,#b5168f,#b7198d,#b91a8c,#ba1c8b)"></i><i style="background:linear-gradient(90deg,#b01392,#7700a7,#5a01a4,#5801a3,#6e00a8,#9502a2,#c42882,#ea5f59,#fd9a33,#ffcc12,#ffe003,#ffe500,#ffdf04,#ffca13,#fe9f2f,#ef6b51,#d03878,#a40b99,#8000a6,#7300a7,#7800a7,#8500a5,#9200a4,#9d079e,#a50c98,#ac1194,#b11491,#b5168f,#b7188d,#b81a8c,#b91a8c)"></i><i style="background:linear-gradient(90deg,#ae1293,#7500a7,#5801a3,#5702a3,#6e00a8,#9502a2,#c42882,#ea5f59,#fd9933,#ffcb12,#ffe004,#ffe500,#ffdf05,#ffc913,#fe9e30,#ee6a51,#d03878,#a50c98,#8300a6,#7600a7,#7a00a6,#8700a5,#9401a3,#9e079d,#a60d98,#ad1194,#b11491,#b5168f,#b6188e,#b7198d,#b8198d)"></i><i style="background:linear-gradient(90deg,#ac1194,#7300a7,#5702a3,#5602a3,#6d00a8,#9502a2,#c42882,#ea5e59,#fd9933,#ffcb12,#ffe004,#ffe500,#ffde05,#ffc814,#fd9c31,#ee6952,#d03878,#a70d98,#8500a5,#7900a7,#7d00a6,#8900a5,#9502a2,#9f089c,#a70d97,#ad1194,#b11491,#b4168f,#b6178e,#b7188e,#b7188d)"></i><i style="background:linear-gradient(90deg,#ab1095,#7200a7,#5502a2,#5502a2,#6d00a8,#9502a2,#c42882,#ea5e59,#fd9833,#ffca13,#ffdf04,#ffe401,#ffde05,#ffc715,#fd9b32,#ed6853,#d03878,#a80e97,#8700a5,#7b00a6,#8000a6,#8c00a5,#9703a1,#a0099b,#a80e97,#ad1194,#b11491,#b41590,#b6178f,#b6178e,#b6178e)"></i><i style="background:linear-gradient(90deg,#a90f96,#7000a8,#5402a2,#5502a2,#6d00a8,#9502a2,#c42882,#ea5e59,#fc9734,#ffc814,#ffde05,#ffe301,#ffdd06,#ffc516,#fd9933,#ed6753,#d03778,#a90e96,#8a00a5,#7e00a6,#8300a6,#8e00a4,#9904a0,#a10a9b,#a80e97,#ae1193,#b11491,#b41590,#b5168f,#b5168f,#b5168f)"></i><i style="background:linear-gradient(90deg,#a80e97,#6f00a8,#5302a2,#5402a2,#6d00a8,#9602a2,#c42882,#e95d5a,#fc9635,#ffc615,#ffdd06,#ffe202,#ffdc07,#ffc417,#fc9834,#ed6654,#d03778,#aa0f96,#8c00a5,#8100a6,#8500a5,#9000a4,#9a059f,#a20a9a,#a90e96,#ae1193,#b11491,#b31590,#b4168f,#b5168f,#b4168f)"></i><i style="background:linear-gradient(90deg,#a70d98,#6d00a8,#5202a2,#5402a2,#6d00a8,#9602a2,#c42982,#e95d5a,#fc9536,#ffc417,#ffdc07,#ffe103,#ffda08,#ffc119,#fc9535,#ec6455,#d03778,#ab1095,#8f00a4,#8400a5,#8800a5,#9200a4,#9c069e,#a30b9a,#aa0f96,#ae1293,#b11391,#b31590,#b41590,#b41590,#b31590)"></i><i style="background:linear-gradient(90deg,#a50c98,#6c00a8,#5202a1,#5402a2,#6d00a8,#9603a1,#c42982,#e95c5a,#fb9337,#ffc219,#ffda08,#ffdf04,#ffd909,#ffbf1b,#fb9337,#eb6356,#cf3778,#ac1194,#9100a4,#8700a5,#8b00a5,#9402a3,#9d079d,#a40c99,#aa0f96,#ae1293,#b11392,#b21491,#b31590,#b31590,#b31590)"></i><i style="background:linear-gradient(90deg,#a50c99,#6c00a8,#5102a1,#5402a2,#6e00a8,#9703a1,#c42982,#e95c5b,#fb9138,#ffbf1b,#ffd809,#ffdd05,#ffd60a,#ffbc1d,#fb9138,#eb6157,#cf3778,#ae1193,#9301a3,#8a00a5,#8d00a4,#9603a1,#9f089c,#a50c98,#ab0f95,#ae1293,#b11392,#b21491,#b21491,#b21491,#b21491)"></i><i style="background:linear-gradient(90deg,#a40b99,#6b00a8,#5102a1,#5402a2,#6f00a8,#9804a1,#c42982,#e85b5b,#fb9039,#ffbd1d,#ffd50b,#ffdc07,#ffd40c,#ffb91f,#fa8e3a,#ea6058,#cf3679,#af1293,#9602a2,#8c00a5,#9000a4,#9804a0,#a0099c,#a60d98,#ab1095,#ae1293,#b01392,#b11491,#b21491,#b11491,#b11491)"></i><i style="background:linear-gradient(90deg,#a30b9a,#6b00a8,#5102a1,#5502a2,#6f00a8,#9804a0,#c52a81,#e85a5c,#fa8d3a,#ffba1f,#ffd20d,#ffd908,#ffd10e,#ffb621,#fa8b3c,#e95e59,#cf3679,#b01392,#9804a0,#8f00a4,#9200a4,#9a059f,#a10a9b,#a70d97,#ac1095,#ae1293,#b01392,#b11392,#b11391,#b11392,#b11392)"></i><i style="background:linear-gradient(90deg,#a30b9a,#6b00a8,#5102a1,#5602a2,#7000a8,#9905a0,#c52a81,#e85a5c,#fa8b3c,#ffb621,#ffcf0f,#ffd60a,#ffce10,#ffb223,#f9893d,#e95c5b,#ce3579,#b11391,#9a059f,#9200a4,#9502a2,#9c069e,#a30b9a,#a80e97,#ac1094,#af1293,#b01392,#b01392,#b01392,#b01392,#b01392)"></i><i style="background:linear-gradient(90deg,#a30a9a,#6b00a8,#5202a1,#5702a3,#7200a7,#9a059f,#c52a81,#e7595d,#f9893d,#ffb223,#ffcc11,#ffd30d,#ffcb12,#ffaf26,#f8863f,#e85a5c,#ce3579,#b21491,#9c069e,#9402a3,#9703a1,#9e079d,#a40b99,#a90e96,#ad1194,#af1293,#b01392,#b01392,#af1392,#af1292,#af1292)"></i><i style="background:linear-gradient(90deg,#a30a9a,#6b00a8,#5302a2,#5802a3,#7300a7,#9b069f,#c62b81,#e7585d,#f8873f,#ffaf26,#ffc814,#ffd00f,#ffc715,#ffab28,#f78241,#e7585d,#ce347a,#b31590,#9e089d,#9703a1,#9904a0,#9f089c,#a50c98,#aa0f96,#ad1194,#af1293,#af1292,#af1292,#af1293,#af1293,#af1293)"></i><i style="background:linear-gradient(90deg,#a30b9a,#6c00a8,#5402a2,#5901a3,#7400a7,#9c069e,#c62b80,#e6575e,#f88440,#ffab28,#ffc417,#ffcc11,#ffc318,#ffa72a,#f67f43,#e6575f,#cd347a,#b41590,#a0099b,#9905a0,#9b069e,#a1099b,#a60d98,#ab0f95,#ad1194,#af1293,#af1293,#af1293,#ae1293,#ae1293,#af1293)"></i><i style="background:linear-gradient(90deg,#a30b9a,#6c00a8,#5502a2,#5b01a4,#7600a7,#9d079d,#c62b80,#e6575f,#f78142,#ffa72a,#ffbf1b,#ffc814,#ffbf1b,#ffa32d,#f57c45,#e45560,#cd337b,#b5168f,#a20a9a,#9c069e,#9d079d,#a30a9a,#a80e97,#ab1095,#ae1193,#af1293,#af1293,#ae1293,#ae1193,#ad1194,#ae1293)"></i><i style="background:linear-gradient(90deg,#a40b99,#6e00a8,#5702a3,#5d01a4,#7800a7,#9f089c,#c72c80,#e5565f,#f67f43,#ffa22d,#ffbb1e,#ffc318,#ffba1f,#fe9e30,#f47947,#e35362,#cc337b,#b6178e,#a40b99,#9e079d,#9f089c,#a40b99,#a90e96,#ac1094,#ae1293,#af1293,#af1293,#ae1193,#ad1194,#ad1194,#ae1293)"></i><i style="background:linear-gradient(90deg,#a50c99,#6f00a8,#5901a3,#5f01a5,#7a00a7,#a0099c,#c72c80,#e45560,#f57c45,#fe9e30,#ffb621,#ffbe1c,#ffb522,#fd9a32,#f3764a,#e25163,#cc327b,#b6188e,#a60d98,#a0099c,#a10a9b,#a60c98,#aa0f96,#ad1194,#af1293,#af1293,#ae1293,#ad1194,#ad1194,#ad1194,#ae1193)"></i><i style="background:linear-gradient(90deg,#a60c98,#7100a8,#5b01a4,#6101a5,#7c00a6,#a20a9b,#c72d7f,#e45461,#f47a47,#fd9a32,#ffb025,#ffb920,#ffb025,#fc9635,#f1724c,#e04f65,#cb317c,#b7188d,#a80e97,#a20a9a,#a30b9a,#a70d97,#ab1095,#ad1194,#af1293,#af1293,#ae1293,#ad1194,#ac1194,#ac1094,#ae1193)"></i><i style="background:linear-gradient(90deg,#a70d97,#7300a7,#5d01a4,#6401a6,#7e00a6,#a30b9a,#c82d7f,#e35362,#f37749,#fc9635,#ffab28,#ffb323,#ffab28,#fb9138,#f06f4e,#df4d66,#cb317c,#b8198d,#aa0f96,#a40b99,#a50c99,#a80e97,#ac1095,#ae1293,#af1292,#af1293,#ae1293,#ad1194,#ac1094,#ac1094,#ad1194)"></i><i style="background:linear-gradient(90deg,#a80e97,#7500a7,#6001a5,#6700a7,#8100a6,#a50c99,#c82e7e,#e35262,#f2744a,#fb9238,#ffa62b,#ffae26,#ffa52b,#fa8d3b,#ef6c50,#de4b68,#ca307d,#b81a8c,#ab1095,#a60d98,#a70d98,#aa0f96,#ad1194,#af1293,#b01392,#af1292,#ae1293,#ad1194,#ac1095,#ac1095,#ad1194)"></i><i style="background:linear-gradient(90deg,#aa0f95,#7700a7,#6301a6,#6a00a7,#8300a6,#a70d98,#c92f7e,#e25163,#f1724c,#fa8d3a,#fea02e,#ffa82a,#fea02f,#f9883e,#ee6853,#dc496a,#c92f7d,#b91b8c,#ad1194,#a80e97,#a80e97,#ab1095,#ae1193,#af1292,#b01392,#af1292,#ae1293,#ad1194,#ac1095,#ac1095,#ad1194)"></i><i style="background:linear-gradient(90deg,#ac1194,#7a00a6,#6700a7,#6d00a8,#8600a5,#a80e97,#c92f7d,#e25164,#f06f4e,#f9893d,#fd9b31,#ffa22d,#fd9b32,#f78440,#ec6555,#db476b,#c92f7e,#b91b8b,#ae1293,#aa0f96,#aa0f96,#ac1094,#ae1293,#b01392,#b01392,#b01392,#ae1293,#ad1194,#ac1095,#ac1095,#ae1193)"></i><i style="background:linear-gradient(90deg,#af1293,#7e00a6,#6a00a8,#7100a7,#8900a5,#aa0f95,#ca307d,#e15064,#ef6d50,#f88540,#fc9635,#fd9d31,#fc9535,#f67f43,#eb6157,#da456d,#c82e7e,#ba1c8b,#b01392,#ab1095,#ab1095,#ad1194,#af1292,#b01392,#b11392,#b01392,#ae1293,#ad1194,#ac1095,#ac1094,#ae1193)"></i><i style="background:linear-gradient(90deg,#b11491,#8100a6,#6e00a8,#7500a7,#8c00a5,#ac1194,#cb317c,#e04f65,#ee6a51,#f78142,#fb9138,#fc9734,#fb9039,#f57b46,#ea5e59,#d9446e,#c82d7f,#ba1c8b,#b11392,#ad1194,#ad1194,#ae1293,#b01392,#b11391,#b11491,#b01392,#ae1293,#ad1194,#ac1094,#ac1094,#ae1293)"></i><i style="background:linear-gradient(90deg,#b41590,#8500a5,#7300a7,#7800a7,#9000a4,#ae1293,#cb327c,#e04e65,#ed6853,#f57d45,#fa8c3b,#fb9238,#f98b3c,#f37649,#e85b5c,#d74270,#c72c80,#ba1c8b,#b21491,#ae1293,#ae1193,#af1292,#b11392,#b11491,#b11491,#b01392,#af1293,#ad1194,#ac1094,#ac1194,#ae1293)"></i><i style="background:linear-gradient(90deg,#b7188e,#8900a5,#7700a7,#7d00a6,#9301a3,#b11392,#cc327b,#e04e66,#ec6555,#f47947,#f8873e,#fa8c3b,#f8853f,#f1724c,#e6585e,#d64071,#c62b80,#ba1d8a,#b31590,#af1293,#af1293,#b01392,#b11491,#b21491,#b21491,#b11392,#af1293,#ae1193,#ad1194,#ad1194,#af1293)"></i><i style="background:linear-gradient(90deg,#ba1c8b,#8e00a4,#7c00a6,#8100a6,#9603a1,#b31590,#cd337b,#df4d67,#eb6356,#f3754a,#f78241,#f8873e,#f78043,#f06d4f,#e45560,#d53e73,#c62b81,#ba1d8a,#b41590,#b01392,#b01392,#b11491,#b21491,#b21491,#b21491,#b11391,#af1392,#ae1293,#ad1194,#ae1193,#af1392)"></i><i style="background:linear-gradient(90deg,#bd1f88,#9300a4,#8100a6,#8600a5,#9a059f,#b5168f,#cd347a,#df4c67,#eb6158,#f1724c,#f67d44,#f78242,#f57b46,#ee6952,#e25263,#d43c74,#c52a81,#ba1d8a,#b4168f,#b11491,#b11391,#b21491,#b31590,#b31590,#b31490,#b11491,#b01392,#af1293,#ae1293,#ae1293,#b01392)"></i><i style="background:linear-gradient(90deg,#c02486,#9804a1,#8700a5,#8b00a5,#9e079d,#b7198d,#ce3579,#de4c67,#ea5e59,#f06e4e,#f47947,#f57c45,#f37649,#ec6555,#e04f65,#d23b76,#c42982,#ba1d8a,#b5168f,#b21491,#b21491,#b31590,#b31590,#b31590,#b31590,#b21491,#b11392,#af1392,#af1293,#af1292,#b11392)"></i><i style="background:linear-gradient(90deg,#c32883,#9d079d,#8c00a5,#9000a4,#a10a9b,#b91b8b,#cf3679,#de4b68,#e95d5a,#ef6b51,#f2754a,#f47848,#f1714c,#eb6157,#df4c67,#d13977,#c32883,#ba1d8a,#b5168f,#b31490,#b21491,#b31590,#b41590,#b41590,#b31590,#b21491,#b11491,#b01392,#b01392,#b01392,#b21491)"></i><i style="background:linear-gradient(90deg,#c72d7f,#a30a9a,#9300a4,#9602a2,#a50c98,#bb1e8a,#d03778,#de4b68,#e85b5c,#ed6853,#f1714d,#f2734b,#ef6d50,#e95d5a,#dd4a69,#d03778,#c32783,#ba1c8b,#b5168f,#b31590,#b31590,#b41590,#b4168f,#b4168f,#b41590,#b31590,#b21491,#b21491,#b11491,#b11491,#b21491)"></i><i style="background:linear-gradient(90deg,#cb327c,#a90e96,#9904a0,#9b069f,#aa0f96,#bd2188,#d13877,#dd4b68,#e7595d,#ec6555,#ef6d50,#f06e4e,#ed6853,#e7595d,#db476b,#ce3579,#c22684,#ba1c8b,#b5168f,#b31590,#b31590,#b4168f,#b5168f,#b5168f,#b4168f,#b41590,#b31590,#b31590,#b31490,#b31590,#b31590)"></i><i style="background:linear-gradient(90deg,#d03778,#af1293,#9f089c,#a1099b,#ae1293,#c02386,#d23976,#dd4a69,#e6585e,#eb6256,#ee6952,#ee6a51,#ec6356,#e55560,#d9456d,#cd347a,#c12584,#ba1c8b,#b5168f,#b31590,#b41590,#b5168f,#b5168f,#b5168f,#b5168f,#b4168f,#b4168f,#b4168f,#b4168f,#b4168f,#b4168f)"></i></div>
<div class="cb" style="left:575px;top:322px;width:10px;height:179px;background:linear-gradient(180deg,#ffe500,#ffcb12,#ffa42c,#f67e44,#e85a5c,#d23a76,#b5168f,#9200a4,#6c00a8,#44039e,#030a80)"></div>
<div class="hm" style="left:704px;top:334px;width:186px;height:181px;--rh:1px"><i style="background:linear-gradient(90deg,#9200a4,#a0099c,#b21491,#c32783,#d33b75,#de4c68,#e7585d,#ea6058,#ec6356,#eb6257,#ea5f59,#e8595c,#e15064,#d74270,#c72c7f,#b21491,#9703a1,#7c00a6,#6401a6,#5302a2,#4a039f,#49039f,#5002a1,#5f01a5,#7100a7,#8500a5,#9804a0,#a90e96,#b6188e,#bf2286,#c32883,#c32783)"></i><i style="background:linear-gradient(90deg,#9200a4,#a10a9b,#b41590,#c52a81,#d43e73,#df4d66,#e85a5c,#eb6157,#ec6455,#ec6356,#eb6058,#e95b5b,#e35362,#d9446e,#ca307d,#b5168f,#9a059f,#7f00a6,#6700a7,#5502a2,#4c02a0,#4b02a0,#5302a2,#6201a5,#7500a7,#8800a5,#9b059f,#aa0f95,#b7188d,#bf2287,#c32783,#c22783)"></i><i style="background:linear-gradient(90deg,#9200a4,#a30a9a,#b6178e,#c72c80,#d63f72,#e04f65,#e85b5c,#eb6257,#ec6455,#ec6455,#eb6257,#e95d5a,#e45560,#db476c,#cc337b,#b7198d,#9d079e,#8100a6,#6900a7,#5702a3,#4e02a0,#4e02a0,#5602a2,#6501a6,#7800a7,#8c00a5,#9d079d,#ac1094,#b8198d,#bf2287,#c22684,#c22684)"></i><i style="background:linear-gradient(90deg,#9100a4,#a40b99,#b8198d,#c92e7e,#d74170,#e15064,#e95b5b,#eb6256,#ec6555,#ec6455,#eb6356,#ea5f59,#e6575f,#dc496a,#ce3579,#ba1c8b,#9f089c,#8400a5,#6b00a8,#5901a3,#5002a1,#5002a1,#5901a3,#6800a7,#7b00a6,#8f00a4,#a0089c,#ad1194,#b81a8c,#be2287,#c12584,#c12585)"></i><i style="background:linear-gradient(90deg,#9100a4,#a50c99,#b91b8c,#ca307d,#d8436f,#e25163,#e95c5b,#eb6356,#ec6555,#ec6555,#ec6456,#ea6058,#e7595d,#de4b68,#d13877,#bc1f89,#a20a9a,#8700a5,#6e00a8,#5c01a4,#5302a2,#5302a2,#5b01a4,#6c00a8,#7f00a6,#9200a4,#a20a9b,#af1293,#b81a8c,#be2187,#c12485,#c02486)"></i><i style="background:linear-gradient(90deg,#9100a4,#a60c98,#ba1d8a,#cb327c,#d9446e,#e35262,#e95d5a,#ec6356,#ec6554,#ec6555,#ec6455,#eb6157,#e85a5c,#df4e66,#d33b75,#be2187,#a50c99,#8a00a5,#7100a7,#5e01a5,#5502a2,#5502a2,#5e01a5,#6e00a8,#8100a6,#9401a3,#a40b99,#b01392,#b81a8c,#bd2188,#c02386,#bf2287)"></i><i style="background:linear-gradient(90deg,#9000a4,#a70d98,#bb1e8a,#cd337b,#d9456d,#e35362,#e95d5a,#ec6356,#ec6554,#ec6554,#ec6555,#eb6256,#e95c5b,#e14f65,#d43d73,#c12485,#a80e97,#8d00a5,#7400a7,#6101a5,#5801a3,#5801a3,#6101a5,#7100a7,#8400a5,#9703a1,#a50c98,#b11392,#b91a8c,#bd2088,#bf2287,#be2187)"></i><i style="background:linear-gradient(90deg,#9000a4,#a70d97,#bc1f89,#ce347a,#da466c,#e35361,#e95d5a,#ec6356,#ec6554,#ec6554,#ec6555,#ec6356,#e95d5a,#e25163,#d63f72,#c32783,#ab1095,#9000a4,#7700a7,#6401a6,#5b01a4,#5b01a4,#6401a6,#7400a7,#8700a5,#9904a0,#a70d98,#b21491,#b91a8c,#bc1f89,#be2188,#bd1f89)"></i><i style="background:linear-gradient(90deg,#8f00a4,#a80e97,#bd2088,#ce3679,#db466c,#e45461,#e95d5a,#ec6356,#ec6555,#ec6554,#ec6554,#ec6455,#ea5e59,#e35362,#d74270,#c52a81,#ae1293,#9301a3,#7a00a7,#6800a7,#5e01a5,#5e01a5,#6700a7,#7700a7,#8900a5,#9b059f,#a80e97,#b21491,#b81a8c,#bc1e89,#bd1f88,#bb1e8a)"></i><i style="background:linear-gradient(90deg,#8f00a4,#a80e97,#be2187,#cf3679,#db476b,#e45461,#e95d5a,#eb6356,#ec6555,#ec6555,#ec6554,#ec6455,#ea5f58,#e45461,#d9446e,#c82d7f,#b11491,#9703a1,#7d00a6,#6b00a8,#6101a5,#6101a5,#6a00a7,#7900a7,#8c00a5,#9c079e,#a90f96,#b31590,#b81a8c,#bb1d8a,#bc1e89,#ba1c8b)"></i><i style="background:linear-gradient(90deg,#8e00a4,#a90e96,#be2287,#d03778,#db476b,#e45461,#e95d5a,#eb6256,#ec6455,#ec6555,#ec6554,#ec6555,#ea6058,#e55660,#da466d,#ca307d,#b4168f,#9a059f,#8100a6,#6e00a8,#6501a6,#6401a6,#6d00a8,#7c00a6,#8e00a4,#9e089d,#aa0f95,#b31590,#b81a8c,#ba1d8a,#ba1d8a,#b91b8c)"></i><i style="background:linear-gradient(90deg,#8e00a4,#a90e96,#bf2287,#d03878,#db486b,#e45461,#e95d5a,#eb6257,#ec6455,#ec6555,#ec6554,#ec6555,#eb6157,#e6575f,#db476b,#cc337b,#b7188d,#9d079d,#8500a5,#7200a7,#6800a7,#6700a7,#6f00a8,#7e00a6,#9000a4,#9f089c,#ab1095,#b31590,#b8198d,#ba1c8b,#b91b8b,#b7198d)"></i><i style="background:linear-gradient(90deg,#8d00a5,#a90e96,#bf2386,#d03877,#dc486b,#e45461,#e95c5a,#eb6157,#ec6356,#ec6455,#ec6555,#ec6555,#eb6257,#e7585e,#dd496a,#ce3579,#ba1c8b,#a1099b,#8800a5,#7600a7,#6c00a8,#6b00a8,#7200a7,#8100a6,#9200a4,#a1099b,#ac1094,#b31590,#b7198d,#b91b8c,#b81a8c,#b6178e)"></i><i style="background:linear-gradient(90deg,#8d00a5,#a90e96,#bf2386,#d13877,#dc486b,#e45461,#e95c5b,#eb6157,#eb6356,#ec6456,#ec6555,#ec6555,#eb6257,#e7595d,#de4b68,#d03877,#bc1f89,#a40b99,#8c00a5,#7900a7,#6f00a8,#6e00a8,#7500a7,#8300a6,#9301a3,#a20a9b,#ac1194,#b41590,#b7198d,#b81a8c,#b7198d,#b5168f)"></i><i style="background:linear-gradient(90deg,#8c00a5,#a90e96,#c02386,#d13877,#db486b,#e35361,#e95b5b,#ea6058,#eb6257,#ec6356,#ec6455,#ec6555,#eb6256,#e85a5c,#df4d67,#d23b75,#bf2286,#a80e97,#9000a4,#7d00a6,#7300a7,#7100a7,#7800a7,#8500a5,#9502a2,#a30b9a,#ad1194,#b41590,#b7188e,#b7198d,#b6178e,#b31590)"></i><i style="background:linear-gradient(90deg,#8b00a5,#a90e96,#c02386,#d13877,#db486b,#e35362,#e85b5c,#ea5f58,#eb6157,#eb6256,#ec6455,#ec6555,#eb6356,#e85b5b,#e04e66,#d43d74,#c22684,#ab1095,#9401a3,#8100a6,#7600a7,#7400a7,#7a00a6,#8700a5,#9603a1,#a40b99,#ad1194,#b31590,#b6178e,#b6188e,#b5168f,#b21491)"></i><i style="background:linear-gradient(90deg,#8b00a5,#a90e96,#c02386,#d13877,#db476b,#e35262,#e85a5c,#ea5f59,#eb6158,#eb6257,#ec6356,#ec6455,#eb6356,#e95c5b,#e15064,#d63f72,#c42982,#af1293,#9703a1,#8500a5,#7a00a7,#7700a7,#7d00a6,#8900a5,#9804a1,#a40c99,#ae1193,#b31590,#b6178e,#b6178e,#b41590,#b01392)"></i><i style="background:linear-gradient(90deg,#8b00a5,#a90e96,#c02386,#d03877,#db476b,#e25263,#e7595d,#e95e5a,#ea6058,#eb6157,#eb6356,#ec6455,#eb6356,#e95c5a,#e25163,#d74270,#c72c80,#b21491,#9b069e,#8900a5,#7d00a6,#7b00a6,#8000a6,#8b00a5,#9904a0,#a50c99,#ae1193,#b31590,#b5168f,#b5168f,#b31490,#af1293)"></i><i style="background:linear-gradient(90deg,#8a00a5,#a90e96,#bf2386,#d03878,#db476c,#e25163,#e7585d,#e95d5a,#ea5f59,#ea6058,#eb6257,#ec6456,#eb6356,#e95d5a,#e35362,#d9446e,#ca307d,#b6178e,#9f089c,#8d00a5,#8100a6,#7e00a6,#8200a6,#8d00a5,#9a059f,#a60c98,#ae1293,#b31590,#b5168f,#b41590,#b21491,#ad1194)"></i><i style="background:linear-gradient(90deg,#8a00a5,#a90e96,#bf2386,#d03778,#da466c,#e15164,#e6585e,#e95c5b,#ea5e59,#ea5f58,#eb6157,#eb6356,#eb6256,#e95d5a,#e45461,#da466c,#cc337b,#b91b8c,#a30b9a,#9100a4,#8500a5,#8100a6,#8500a5,#8f00a4,#9b069f,#a60d98,#ae1293,#b21491,#b41590,#b31590,#b11392,#ac1094)"></i><i style="background:linear-gradient(90deg,#8900a5,#a80e97,#bf2386,#d03778,#da456d,#e15064,#e6575f,#e85b5c,#e95d5a,#ea5e59,#eb6058,#eb6256,#eb6257,#ea5e59,#e55560,#dc486a,#cf3679,#bc1e89,#a70d98,#9402a3,#8900a5,#8400a5,#8700a5,#9100a4,#9c069e,#a70d98,#ae1293,#b21491,#b41590,#b31590,#b01392,#ab1095)"></i><i style="background:linear-gradient(90deg,#8900a5,#a80e97,#bf2286,#cf3778,#d9456d,#e04f65,#e5565f,#e85a5c,#e95c5b,#e95e5a,#ea6058,#eb6257,#eb6257,#ea5e59,#e6565f,#dd4a69,#d13977,#bf2287,#aa0f95,#9804a0,#8c00a5,#8700a5,#8a00a5,#9200a4,#9d079d,#a70d97,#ae1193,#b21491,#b31590,#b21491,#af1293,#aa0f96)"></i><i style="background:linear-gradient(90deg,#8900a5,#a80e97,#bf2287,#cf3679,#d9446e,#e04e66,#e45560,#e7595d,#e85b5b,#e95d5a,#ea5f59,#eb6157,#eb6157,#ea5f59,#e6585e,#df4c67,#d33c74,#c22684,#ae1293,#9c069e,#9000a4,#8a00a5,#8c00a5,#9401a3,#9e079d,#a70d97,#ae1193,#b11491,#b31490,#b11491,#ae1293,#a90f96)"></i><i style="background:linear-gradient(90deg,#8900a5,#a80e97,#be2287,#ce3679,#d9446e,#df4d66,#e45461,#e6585e,#e85a5c,#e95c5b,#ea5e59,#ea6058,#eb6157,#ea5f59,#e7595d,#e04f65,#d53f72,#c52982,#b21491,#a0099c,#9401a3,#8d00a4,#8e00a4,#9502a2,#9e089d,#a70d97,#ad1194,#b11491,#b21491,#b11391,#ae1193,#a90e96)"></i><i style="background:linear-gradient(90deg,#8900a5,#a80e97,#be2187,#ce3579,#d8436f,#df4c67,#e35362,#e6575f,#e7595d,#e85b5c,#e95d5a,#ea5f58,#eb6158,#ea5f59,#e85a5c,#e15064,#d74270,#c72d7f,#b6178f,#a30b9a,#9703a1,#9100a4,#9100a4,#9703a1,#9f089c,#a70d97,#ad1194,#b11392,#b21491,#b11392,#ad1194,#a80e97)"></i><i style="background:linear-gradient(90deg,#8900a5,#a80e97,#be2187,#ce357a,#d8426f,#de4c68,#e25263,#e5565f,#e7585e,#e85a5c,#e95c5b,#ea5f59,#ea6058,#ea5f58,#e85b5b,#e35262,#d9446e,#ca307d,#b91a8c,#a70d97,#9a059f,#9301a3,#9301a3,#9804a0,#a0099c,#a70d97,#ad1194,#b01392,#b11491,#b01392,#ad1194,#a80e97)"></i><i style="background:linear-gradient(90deg,#8900a5,#a80e97,#be2187,#cd347a,#d74170,#dd4b68,#e25163,#e45560,#e6575e,#e7595d,#e95b5b,#ea5e59,#ea6058,#ea5f58,#e95c5b,#e45461,#db476c,#cd347a,#bc1e89,#ab0f95,#9e079d,#9603a1,#9502a2,#9905a0,#a0099b,#a80e97,#ad1194,#b01392,#b11491,#b01392,#ad1194,#a80e97)"></i><i style="background:linear-gradient(90deg,#8a00a5,#a80e97,#be2188,#cd337b,#d74171,#dd4a69,#e15064,#e45461,#e5565f,#e7585d,#e85a5c,#e95d5a,#ea5f59,#ea6058,#e95d5a,#e5565f,#dd496a,#d03778,#bf2287,#ae1293,#a1099b,#9904a0,#9703a1,#9a059f,#a1099b,#a80e97,#ad1194,#b01392,#b11491,#b01392,#ad1194,#a80e97)"></i><i style="background:linear-gradient(90deg,#8a00a5,#a80e97,#bd2088,#cc337b,#d64071,#dc496a,#e04f65,#e35362,#e55560,#e6575e,#e85a5c,#e95c5a,#ea5f59,#ea6058,#ea5e59,#e6585e,#de4c68,#d23b75,#c22684,#b21491,#a40b99,#9b069e,#9904a0,#9c069e,#a10a9b,#a80e97,#ac1194,#b01392,#b11491,#b01392,#ae1193,#a80e97)"></i><i style="background:linear-gradient(90deg,#8a00a5,#a80e97,#bd2088,#cc337b,#d63f72,#dc486b,#e04e66,#e25263,#e45560,#e6575f,#e7595d,#e95c5b,#ea5e59,#ea6058,#ea5f59,#e8595d,#e04e66,#d43e73,#c42982,#b5168f,#a70d97,#9e089d,#9b059f,#9d079e,#a20a9b,#a80e97,#ac1194,#b01392,#b11491,#b11392,#ae1293,#a90e96)"></i><i style="background:linear-gradient(90deg,#8b00a5,#a80e97,#bd2088,#cc327b,#d53f72,#db476b,#df4d66,#e25163,#e45461,#e5565f,#e7585d,#e85b5b,#e95e5a,#ea6058,#ea6058,#e85b5b,#e15164,#d64071,#c72d7f,#b81a8d,#aa0f96,#a0099b,#9c079e,#9e079d,#a20a9a,#a80e97,#ac1094,#b01392,#b11491,#b11491,#af1293,#aa0f96)"></i><i style="background:linear-gradient(90deg,#8c00a5,#a90e96,#bd2088,#cb327c,#d53e73,#db476c,#df4c67,#e15064,#e35362,#e55560,#e6585e,#e85a5c,#e95d5a,#ea6058,#eb6158,#e95d5a,#e35362,#d8436f,#ca307d,#bb1d8a,#ad1194,#a30b9a,#9e089d,#9f089c,#a30a9a,#a70e97,#ac1094,#b01392,#b21491,#b21491,#b01392,#ab1095)"></i><i style="background:linear-gradient(90deg,#8d00a5,#a90f96,#bd2088,#cb317c,#d53e73,#da466c,#de4b68,#e14f65,#e35262,#e45560,#e6575e,#e85a5c,#e95d5a,#ea6058,#eb6157,#ea5e59,#e45560,#da466c,#cd337b,#bd2088,#b01392,#a50c98,#a0099c,#a0099c,#a30b9a,#a70e97,#ac1094,#b01392,#b21491,#b31590,#b11491,#ac1194)"></i><i style="background:linear-gradient(90deg,#8e00a4,#aa0f96,#bd2188,#cb317c,#d43d73,#da456d,#dd4b68,#e04f65,#e25263,#e45461,#e6565f,#e7595d,#e95c5a,#ea6058,#eb6257,#ea6058,#e6575f,#dc486a,#cf3679,#c02386,#b31490,#a70d97,#a10a9b,#a1099b,#a30b9a,#a70e97,#ac1094,#b01392,#b31590,#b41590,#b31490,#ae1293)"></i><i style="background:linear-gradient(90deg,#8f00a4,#aa0f95,#be2188,#cb317c,#d43d74,#d9456d,#dd4a69,#e04e66,#e25163,#e35361,#e5565f,#e7595d,#e95c5b,#ea6058,#eb6356,#eb6157,#e7595d,#dd4b68,#d23976,#c22684,#b5168f,#a90f96,#a30b9a,#a10a9b,#a30b9a,#a80e97,#ac1094,#b01392,#b31590,#b5168f,#b4168f,#b01392)"></i><i style="background:linear-gradient(90deg,#9100a4,#ab1095,#be2187,#cb317c,#d43d74,#d9446e,#dd496a,#df4d66,#e15064,#e35362,#e55560,#e7585d,#e95c5b,#ea6058,#ec6456,#eb6356,#e85b5c,#df4d67,#d33c74,#c42982,#b7198d,#ab1095,#a40b99,#a20a9a,#a40b99,#a80e97,#ac1094,#b11392,#b4168f,#b6188e,#b6178e,#b31590)"></i><i style="background:linear-gradient(90deg,#9200a4,#ac1194,#be2287,#cb317c,#d43c74,#d9446e,#dc496a,#df4d67,#e15064,#e35262,#e55560,#e7585e,#e95b5b,#ea6058,#ec6455,#ec6455,#e95d5a,#e04f65,#d53e72,#c72c80,#b91b8b,#ad1194,#a60c98,#a30b9a,#a40b99,#a80e97,#ac1194,#b11491,#b5178f,#b8198d,#b81a8c,#b6178e)"></i><i style="background:linear-gradient(90deg,#9401a3,#ad1194,#bf2286,#cb327c,#d43c74,#d8436f,#dc486a,#de4c67,#e14f65,#e35262,#e45560,#e6585e,#e95b5b,#eb6058,#ec6555,#ec6554,#ea5e59,#e25163,#d74171,#c92f7e,#bb1d8a,#af1293,#a70d98,#a40b99,#a40c99,#a80e97,#ad1194,#b21491,#b7188e,#b91b8b,#ba1c8b,#b81a8c)"></i><i style="background:linear-gradient(90deg,#9602a2,#af1293,#c02386,#cb327c,#d43c74,#d8436f,#dc486b,#de4c68,#e04f65,#e25263,#e45560,#e6575e,#e95b5b,#eb6158,#ec6554,#ed6654,#ea6058,#e35362,#d8436f,#cb317c,#bd2088,#b11392,#a80e97,#a40b99,#a50c99,#a80e97,#ad1194,#b31590,#b8198d,#bb1e8a,#bc1f89,#bb1e8a)"></i><i style="background:linear-gradient(90deg,#9804a1,#b01392,#c02485,#cc327b,#d43c74,#d8436f,#db476b,#de4b68,#e04f65,#e25263,#e45461,#e6575e,#e95b5b,#eb6157,#ed6654,#ed6753,#eb6157,#e45560,#d9456d,#cd337b,#be2287,#b21491,#a90e96,#a50c99,#a50c99,#a80e97,#ae1193,#b41590,#b91b8c,#bd2088,#bf2286,#be2187)"></i><i style="background:linear-gradient(90deg,#9a059f,#b21491,#c12584,#cc337b,#d43c74,#d8436f,#db476b,#de4b68,#e04e65,#e25163,#e45461,#e6575e,#e95b5b,#eb6157,#ed6754,#ee6852,#eb6356,#e5565f,#db476c,#ce3579,#c02486,#b41590,#aa0f96,#a50c98,#a50c98,#a90e96,#ae1293,#b5168f,#bb1d8a,#bf2386,#c22684,#c22684)"></i><i style="background:linear-gradient(90deg,#9c069e,#b31590,#c22684,#cd347a,#d43d74,#d8436f,#db476b,#de4b68,#e04e66,#e25163,#e45461,#e6575e,#e95b5b,#eb6157,#ed6753,#ee6952,#ec6455,#e6585e,#dc486a,#d03778,#c12584,#b5168f,#ab1095,#a60c98,#a60c98,#a90e96,#af1293,#b6178e,#bc1f89,#c12584,#c52982,#c52a81)"></i><i style="background:linear-gradient(90deg,#9e089d,#b5168f,#c32883,#cd347a,#d43d74,#d8436f,#db476c,#dd4b69,#e04e66,#e25163,#e45461,#e6575e,#e95c5b,#eb6257,#ed6853,#ee6a51,#ec6555,#e7595d,#dd4a69,#d13977,#c32783,#b6178e,#ac1095,#a60d98,#a60d98,#a90f96,#b01392,#b7188d,#be2188,#c42882,#c82d7f,#c92f7e)"></i><i style="background:linear-gradient(90deg,#a1099b,#b6188e,#c42982,#ce3579,#d43d73,#d8436f,#db476c,#dd4a69,#e04e66,#e25163,#e45461,#e6585e,#e95c5b,#eb6257,#ed6853,#ee6b51,#ed6654,#e85a5c,#de4b68,#d33b75,#c42882,#b7188d,#ac1194,#a70d98,#a60d98,#aa0f96,#b01392,#b81a8c,#bf2386,#c62b80,#cb317c,#cd337b)"></i><i style="background:linear-gradient(90deg,#a30b9a,#b81a8c,#c52a81,#cf3679,#d53e73,#d8436f,#db476c,#dd4a69,#e04e66,#e25163,#e45461,#e6585e,#e95c5b,#eb6256,#ee6852,#ef6b51,#ed6753,#e95b5b,#df4d67,#d33c74,#c52a81,#b8198d,#ad1194,#a70d97,#a70d98,#aa0f96,#b11491,#b91b8b,#c12585,#c82e7e,#ce357a,#d03877)"></i><i style="background:linear-gradient(90deg,#a50c98,#ba1c8b,#c62c80,#cf3778,#d53e73,#d8436f,#db476c,#dd4a69,#e04e66,#e25163,#e45460,#e7585e,#e95c5a,#eb6356,#ee6952,#ef6c50,#ed6853,#e95d5a,#e04e66,#d43d73,#c62b80,#b91a8c,#ae1193,#a80e97,#a70d97,#ab0f95,#b21491,#ba1d8a,#c32783,#cb317c,#d13977,#d43d74)"></i><i style="background:linear-gradient(90deg,#a80e97,#bb1e8a,#c82d7f,#d03878,#d53f72,#d8436e,#db476c,#dd4a69,#e04e66,#e25163,#e45560,#e7585e,#e95d5a,#eb6356,#ee6952,#ef6c50,#ee6852,#e95d5a,#e04f65,#d53f72,#c72c80,#b91b8b,#ae1293,#a80e97,#a70d97,#ab1095,#b31590,#bc1e89,#c52a81,#ce347a,#d43d74,#d74170)"></i><i style="background:linear-gradient(90deg,#ab0f95,#bd2088,#c92e7e,#d13977,#d63f72,#d9446e,#db476b,#dd4a69,#e04e66,#e25163,#e45560,#e7585d,#e95d5a,#ec6356,#ee6952,#ef6c50,#ee6952,#ea5e59,#e15064,#d64071,#c82d7f,#ba1c8b,#af1293,#a80e97,#a80e97,#ac1095,#b41590,#bd2088,#c72c80,#d03878,#d64071,#da456d)"></i><i style="background:linear-gradient(90deg,#ad1194,#be2287,#ca307d,#d23a76,#d64071,#d9446e,#db476b,#dd4b69,#e04e66,#e25263,#e55560,#e7585d,#e95d5a,#ec6356,#ee6a52,#ef6d50,#ee6952,#ea5f59,#e25164,#d64071,#c82e7e,#ba1d8a,#af1292,#a90e96,#a80e97,#ac1094,#b5168f,#be2187,#c92e7e,#d23b75,#d9446e,#dd4a69)"></i><i style="background:linear-gradient(90deg,#b01392,#c02485,#cb317c,#d33b75,#d74171,#d9446e,#db486b,#dd4b68,#e04e66,#e25263,#e55560,#e7595d,#e95d5a,#ec6456,#ee6a51,#ef6d50,#ee6952,#ea5f58,#e25163,#d74170,#c92f7e,#bb1d8a,#b01392,#a90f96,#a80e97,#ad1194,#b6178f,#c02386,#cb317c,#d43e73,#db476b,#e04e66)"></i><i style="background:linear-gradient(90deg,#b21491,#c22684,#cc337b,#d33c74,#d74170,#d9456d,#db486b,#de4b68,#e04e65,#e25263,#e55560,#e7595d,#e95e5a,#ec6455,#ee6a51,#ef6d4f,#ee6a52,#ea6058,#e25263,#d74270,#ca307d,#bb1e89,#b01392,#a90f96,#a90e96,#ad1194,#b6188e,#c12585,#cc337b,#d64071,#de4b68,#e25263)"></i><i style="background:linear-gradient(90deg,#b5168f,#c32883,#ce357a,#d43d74,#d74270,#da456d,#dc486b,#de4b68,#e04e65,#e25263,#e55560,#e7595d,#ea5e59,#ec6455,#ee6a51,#ef6d4f,#ee6a52,#ea6058,#e35262,#d8426f,#ca307d,#bc1f89,#b11392,#aa0f96,#a90e96,#ae1193,#b7198d,#c22684,#ce3579,#d8436f,#e04e66,#e5565f)"></i><i style="background:linear-gradient(90deg,#b7188d,#c52a81,#cf3679,#d53e73,#d8436f,#da466c,#dc496a,#de4b68,#e04f65,#e35262,#e55660,#e8595d,#ea5e59,#ec6455,#ee6a51,#ef6d50,#ee6a52,#ea6058,#e35362,#d8436f,#cb317c,#bc1f89,#b11391,#aa0f96,#a90f96,#ae1293,#b81a8c,#c32883,#d03878,#da466d,#e25263,#e85a5c)"></i><i style="background:linear-gradient(90deg,#b91b8c,#c62c80,#d03878,#d53f72,#d8436e,#db466c,#dc496a,#de4c68,#e04f65,#e35262,#e5565f,#e85a5c,#ea5e59,#ec6455,#ee6a51,#ef6d50,#ee6a52,#ea6058,#e35362,#d8436f,#cb317c,#bd1f88,#b11491,#aa0f95,#aa0f96,#af1293,#b91b8c,#c52982,#d23a76,#dc486a,#e45560,#e95e59)"></i><i style="background:linear-gradient(90deg,#bb1d8a,#c82e7f,#d13977,#d64071,#d9446e,#db476b,#dd496a,#de4c67,#e04f65,#e35262,#e5565f,#e85a5c,#ea5f59,#ec6555,#ee6a51,#ef6c50,#ee6952,#ea6058,#e35362,#d8436e,#cb317c,#bd2088,#b21491,#ab1095,#aa0f96,#b01392,#ba1c8b,#c62b81,#d33c75,#dd4b68,#e6585e,#eb6257)"></i><i style="background:linear-gradient(90deg,#bd2088,#c92f7d,#d23a76,#d74171,#d9456d,#db486b,#dd4a69,#df4c67,#e14f65,#e35262,#e5565f,#e85a5c,#ea5f59,#ec6555,#ee6a51,#ef6c50,#ee6952,#ea6058,#e35362,#d8436e,#cb327c,#bd2088,#b21491,#ab1095,#aa0f95,#b01392,#ba1d8a,#c72c7f,#d43d73,#df4d67,#e85a5c,#ec6555)"></i><i style="background:linear-gradient(90deg,#bf2287,#cb317c,#d33b75,#d74270,#da466d,#dc486a,#dd4a69,#df4d67,#e14f65,#e35262,#e5565f,#e85a5c,#ea5f59,#ec6555,#ee6a52,#ef6c50,#ee6952,#ea5f58,#e35362,#d8436e,#cb327c,#bd2088,#b21491,#ab1095,#ab1095,#b11392,#bb1e8a,#c82e7f,#d63f72,#e14f65,#e95d5a,#ee6852)"></i><i style="background:linear-gradient(90deg,#c12485,#cc337b,#d43d74,#d8436f,#db466c,#dc496a,#de4b68,#df4d67,#e14f65,#e35362,#e5565f,#e85a5c,#ea5f59,#ec6555,#ee6a52,#ef6b50,#ed6853,#ea5f59,#e35262,#d8436f,#cb327c,#be2188,#b31490,#ac1095,#ab1095,#b11491,#bc1f89,#c92f7e,#d74170,#e25163,#ea6058,#ef6b50)"></i><i style="background:linear-gradient(90deg,#c22784,#cd347a,#d53e73,#d8436e,#db476b,#dd4969,#de4b68,#df4d66,#e15064,#e35362,#e5565f,#e85a5c,#ea5f59,#ec6555,#ee6952,#ef6b51,#ed6853,#ea5f59,#e25263,#d8436f,#cb327c,#be2188,#b31590,#ac1094,#ac1095,#b21491,#bd1f88,#ca307d,#d8426f,#e35362,#eb6356,#f06e4f)"></i><i style="background:linear-gradient(90deg,#c42982,#cf3679,#d53f72,#d9446e,#db486b,#dd4a69,#de4c68,#df4e66,#e15064,#e35362,#e5565f,#e85a5c,#ea5f59,#ec6555,#ee6952,#ee6a51,#ed6753,#ea5e59,#e25263,#d8436f,#cb327c,#be2187,#b31590,#ac1194,#ac1094,#b21491,#bd2088,#cb327c,#d9446e,#e45560,#ec6555,#f1714d)"></i><i style="background:linear-gradient(90deg,#c62b81,#d03778,#d64071,#da456d,#dc486a,#dd4b68,#df4c67,#e04e66,#e15064,#e35362,#e5565f,#e85a5c,#ea5f59,#ec6555,#ee6952,#ee6a51,#ed6654,#e95d5a,#e25163,#d8426f,#cb327c,#be2187,#b31590,#ad1194,#ac1194,#b31590,#be2187,#cc337b,#da456d,#e6565f,#ed6753,#f2734b)"></i><i style="background:linear-gradient(90deg,#c72c7f,#d13977,#d64071,#da466d,#dc496a,#de4b68,#df4d67,#e04e66,#e15064,#e35362,#e5565f,#e85a5c,#ea5f59,#ec6455,#ee6852,#ee6a52,#ed6654,#e95d5a,#e25164,#d8426f,#cb317c,#be2187,#b31590,#ad1194,#ad1194,#b31590,#be2287,#cd347a,#da466c,#e7585e,#ee6952,#f2754a)"></i><i style="background:linear-gradient(90deg,#c82e7e,#d23a76,#d74170,#da466c,#dd4a69,#de4c68,#df4d66,#e04e65,#e15064,#e35362,#e5565f,#e85a5c,#ea5f59,#ec6455,#ee6853,#ee6952,#ec6555,#e95c5b,#e15064,#d74270,#cb317c,#be2187,#b41590,#ad1194,#ad1194,#b41590,#bf2286,#ce357a,#db476b,#e8595d,#ee6b51,#f37749)"></i><i style="background:linear-gradient(90deg,#ca307d,#d33b75,#d74270,#db476c,#dd4a69,#de4c67,#df4e66,#e04f65,#e15064,#e35262,#e5565f,#e85a5c,#ea5f59,#ec6455,#ed6853,#ee6952,#ec6455,#e85b5b,#e14f65,#d74170,#cb317c,#be2187,#b41590,#ad1194,#ad1194,#b41590,#bf2386,#ce3579,#dc486a,#e85b5c,#ef6c50,#f47848)"></i><i style="background:linear-gradient(90deg,#cb317c,#d33c75,#d8436f,#db476b,#dd4b69,#df4d67,#e04e66,#e04f65,#e15064,#e35262,#e55660,#e85a5c,#ea5f59,#ec6455,#ed6853,#ed6853,#ec6455,#e85b5c,#e04f65,#d74171,#ca307d,#be2188,#b41590,#ad1194,#ad1194,#b4168f,#c02386,#cf3679,#dd496a,#e95c5b,#f06e4f,#f47a47)"></i><i style="background:linear-gradient(90deg,#cc337b,#d43c74,#d8436f,#db486b,#de4b68,#df4d67,#e04e66,#e14f65,#e15064,#e35262,#e55660,#e85a5c,#ea5f59,#ec6455,#ed6753,#ed6853,#ec6356,#e85a5c,#e04e66,#d64071,#ca307d,#be2188,#b41590,#ad1194,#ad1194,#b4168f,#c02485,#cf3778,#dd4a69,#e95d5a,#f06f4e,#f57b46)"></i><i style="background:linear-gradient(90deg,#cd347a,#d43d73,#d9436e,#dc486b,#de4b68,#df4d66,#e04e65,#e14f65,#e15064,#e35262,#e55560,#e85a5c,#ea5f59,#ec6455,#ed6753,#ed6753,#eb6356,#e8595c,#e04e66,#d64071,#ca307d,#bd2088,#b41590,#ad1194,#ae1193,#b5168f,#c02485,#d03778,#dd4b68,#ea5e59,#f1704d,#f57c45)"></i><i style="background:linear-gradient(90deg,#ce357a,#d53e73,#d9446e,#dc486a,#de4b68,#df4d66,#e04f65,#e14f65,#e15064,#e35262,#e55560,#e85a5c,#ea5f59,#ec6456,#ed6753,#ed6753,#eb6256,#e7595d,#df4d66,#d63f72,#c92f7d,#bd2088,#b41590,#ad1194,#ad1194,#b5168f,#c02485,#d03878,#de4b68,#ea5f59,#f1714d,#f67d44)"></i><i style="background:linear-gradient(90deg,#cf3679,#d53e73,#d9446e,#dc486a,#de4b68,#df4e66,#e04f65,#e14f65,#e15064,#e35262,#e55560,#e8595c,#ea5f59,#ec6456,#ed6754,#ed6754,#eb6257,#e7595d,#df4d67,#d53f72,#c92f7e,#bd2088,#b31590,#ad1194,#ad1194,#b5168f,#c12485,#d03877,#de4c68,#ea5f58,#f1724c,#f67e44)"></i><i style="background:linear-gradient(90deg,#cf3778,#d53e72,#d9446e,#dc486a,#de4b68,#df4e66,#e04f65,#e14f65,#e15064,#e25263,#e55560,#e8595d,#ea5f59,#ec6356,#ed6754,#ed6654,#eb6257,#e7585d,#df4c67,#d53e72,#c92f7e,#bd2088,#b31590,#ad1194,#ad1194,#b4168f,#c02485,#d03877,#de4c67,#ea6058,#f1724c,#f67f43)"></i><i style="background:linear-gradient(90deg,#d03778,#d53f72,#d9446e,#dc486a,#de4b68,#df4d66,#e04f65,#e14f65,#e15064,#e25263,#e45560,#e7595d,#ea5e59,#ec6356,#ed6654,#ed6654,#eb6157,#e7585e,#de4c67,#d53e73,#c92e7e,#bc1f89,#b31590,#ad1194,#ad1194,#b4168f,#c02485,#d03877,#de4c67,#ea6058,#f2734b,#f78043)"></i><i style="background:linear-gradient(90deg,#d03878,#d53f72,#d9446e,#dc486b,#de4b68,#df4d66,#e04e65,#e14f65,#e15064,#e25263,#e45560,#e7595d,#ea5e59,#ec6356,#ed6654,#ed6654,#eb6157,#e6585e,#de4c68,#d53e73,#c82e7e,#bc1f89,#b21491,#ac1194,#ac1194,#b41590,#c02485,#d03878,#de4c67,#ea6058,#f2734b,#f78142)"></i><i style="background:linear-gradient(90deg,#d03877,#d53f72,#d9446e,#db486b,#dd4b68,#df4d67,#e04e66,#e04f65,#e15064,#e25163,#e45461,#e7595d,#ea5e59,#ec6356,#ed6654,#ed6654,#eb6157,#e6585e,#de4c68,#d43e73,#c82d7f,#bc1e89,#b21491,#ac1095,#ac1094,#b31590,#c02386,#d03778,#de4c68,#ea6058,#f2744b,#f78242)"></i><i style="background:linear-gradient(90deg,#d13877,#d53e73,#d8436f,#db476b,#dd4a69,#df4c67,#e04e66,#e04f65,#e14f65,#e25163,#e45461,#e7595d,#ea5e59,#ec6356,#ed6654,#ed6654,#eb6157,#e6585e,#de4c68,#d43d73,#c82d7f,#bb1e8a,#b11491,#ab1095,#ab1095,#b31590,#bf2386,#d03778,#de4b68,#ea6058,#f2744b,#f78241)"></i><i style="background:linear-gradient(90deg,#d13877,#d53e73,#d8436f,#db476c,#dd4a69,#de4c68,#df4d66,#e04e66,#e04f65,#e25163,#e45461,#e7595d,#ea5e59,#ec6356,#ed6754,#ed6754,#eb6257,#e7585e,#de4c68,#d43d73,#c72d7f,#bb1d8a,#b11392,#ab0f95,#ab0f95,#b21491,#bf2287,#cf3679,#de4b68,#ea6058,#f2744b,#f78341)"></i><i style="background:linear-gradient(90deg,#d03877,#d43d73,#d74270,#da466c,#dc496a,#de4b68,#df4d67,#df4e66,#e04f65,#e25164,#e45461,#e7585d,#ea5e59,#ec6356,#ed6753,#ed6753,#eb6257,#e7585d,#de4c68,#d43d73,#c72d7f,#bb1d8a,#b01392,#aa0f96,#aa0f96,#b11491,#be2187,#ce3679,#dd4a69,#ea5f58,#f2744b,#f78341)"></i><i style="background:linear-gradient(90deg,#d03878,#d43d74,#d74170,#d9456d,#dc486b,#dd4a69,#de4c67,#df4d67,#e04e66,#e15064,#e45461,#e7585d,#e95e59,#ec6356,#ed6753,#ed6753,#eb6356,#e7595d,#de4c67,#d43d73,#c72c80,#ba1c8b,#af1292,#a90e96,#a90e96,#b01392,#bd2088,#ce357a,#dd4a69,#ea5f59,#f2744b,#f78441)"></i><i style="background:linear-gradient(90deg,#d03778,#d43c74,#d64071,#d9446e,#db476c,#dd496a,#de4b68,#df4c67,#e04e66,#e15064,#e35361,#e7585e,#e95e5a,#ec6356,#ed6753,#ed6853,#ec6356,#e7595d,#df4c67,#d43d73,#c72c80,#ba1c8b,#af1293,#a80e97,#a80e97,#af1392,#bd1f88,#cd347a,#dc496a,#ea5e59,#f2734b,#f88440)"></i><i style="background:linear-gradient(90deg,#cf3778,#d33b75,#d63f72,#d8436f,#da466c,#dc486a,#dd4a69,#de4c68,#df4d66,#e15064,#e35362,#e7585e,#e95e5a,#ec6356,#ed6753,#ee6853,#ec6456,#e85a5c,#df4d67,#d43d73,#c72c80,#b91b8b,#ae1293,#a70d97,#a70d97,#ae1293,#bc1e89,#cc337b,#dc486a,#e95e5a,#f2734b,#f88440)"></i><i style="background:linear-gradient(90deg,#cf3679,#d23b76,#d53e72,#d74270,#d9456d,#db476b,#dc496a,#de4b68,#df4d67,#e14f65,#e35362,#e6585e,#e95d5a,#ec6356,#ed6853,#ee6952,#ec6455,#e85a5c,#df4d66,#d53e73,#c72c80,#b91b8c,#ad1194,#a60d98,#a60d98,#ad1194,#bb1d8a,#cb327c,#db476b,#e95d5a,#f2724c,#f88440)"></i><i style="background:linear-gradient(90deg,#ce3579,#d23a76,#d43d73,#d74171,#d9446e,#da466c,#dc486a,#dd4a69,#de4c67,#e04f65,#e35362,#e6575e,#e95d5a,#ec6356,#ed6853,#ee6952,#ec6555,#e85b5b,#e04e66,#d53e73,#c62c80,#b91a8c,#ac1194,#a50c98,#a50c98,#ac1194,#ba1c8b,#ca307d,#da466c,#e95c5b,#f1724c,#f88440)"></i><i style="background:linear-gradient(90deg,#ce357a,#d13977,#d33c74,#d63f72,#d8426f,#d9456d,#db476b,#dc496a,#de4b68,#e04e65,#e35262,#e6575e,#e95d5a,#ec6356,#ee6853,#ee6a52,#ec6654,#e95b5b,#e04e66,#d53e73,#c62c80,#b81a8c,#ac1095,#a50c99,#a40b99,#ab1095,#b91b8c,#c92f7d,#da456d,#e85b5c,#f1714c,#f88440)"></i><i style="background:linear-gradient(90deg,#cd347a,#d03778,#d33b75,#d53e73,#d74170,#d9446e,#da466c,#dc486a,#dd4b68,#e04e66,#e25263,#e6575f,#e95d5a,#ec6356,#ee6852,#ee6a51,#ed6654,#e95c5b,#e04f65,#d53f72,#c62c80,#b81a8c,#ab1095,#a40b99,#a30b9a,#aa0f95,#b81a8c,#c82e7e,#d9446e,#e85a5c,#f1714d,#f88440)"></i><i style="background:linear-gradient(90deg,#cc337b,#cf3679,#d23a76,#d43d74,#d64071,#d8426f,#d9456d,#db476b,#dd4a69,#df4d66,#e25263,#e6575f,#e95c5a,#ec6356,#ee6852,#ee6a51,#ed6754,#e95d5a,#e14f65,#d53f72,#c72c80,#b8198d,#ab0f95,#a30b9a,#a30a9a,#a90f96,#b7198d,#c72d7f,#d8436f,#e7595d,#f0704e,#f78440)"></i><i style="background:linear-gradient(90deg,#cb327c,#ce357a,#d13877,#d33b75,#d53e73,#d74170,#d9446e,#da466c,#dc496a,#df4d67,#e25163,#e5565f,#e95c5b,#eb6356,#ee6952,#ef6b51,#ed6753,#e95d5a,#e15064,#d63f72,#c72c80,#b8198d,#aa0f96,#a20a9a,#a20a9b,#a90e96,#b6188e,#c62c80,#d74270,#e6585e,#f06f4e,#f78341)"></i><i style="background:linear-gradient(90deg,#cb317c,#cd347a,#cf3778,#d23a76,#d43d74,#d64071,#d8426f,#da456d,#dc486a,#de4c67,#e25164,#e5565f,#e95c5b,#eb6356,#ee6952,#ef6b51,#ed6853,#ea5e59,#e15164,#d64071,#c72c80,#b7198d,#aa0f96,#a20a9a,#a1099b,#a80e97,#b6178f,#c52a81,#d74170,#e6575f,#f06e4f,#f78341)"></i><i style="background:linear-gradient(90deg,#ca307d,#cc327b,#ce3579,#d13877,#d33b75,#d53e73,#d74170,#d9446e,#db476b,#de4b68,#e15064,#e55560,#e95b5b,#eb6256,#ee6952,#ef6b51,#ed6853,#ea5f59,#e25163,#d64071,#c72d7f,#b8198d,#a90f96,#a10a9b,#a0099b,#a70d97,#b5168f,#c52982,#d64071,#e55660,#ef6d4f,#f78241)"></i><i style="background:linear-gradient(90deg,#c92f7e,#cb317c,#cd347a,#cf3778,#d23a76,#d43d74,#d63f72,#d8436f,#da466c,#dd4b69,#e14f65,#e45560,#e85b5b,#eb6257,#ee6852,#ef6b50,#ee6852,#ea5f59,#e25263,#d74170,#c72d7f,#b8198d,#a90f96,#a1099b,#a0099c,#a60d98,#b41590,#c42882,#d53f72,#e45560,#ef6c50,#f78142)"></i><i style="background:linear-gradient(90deg,#c82e7f,#ca307d,#cc327b,#ce3579,#d03877,#d33b75,#d53e73,#d74170,#da456d,#dd4a69,#e04f65,#e45461,#e85a5c,#eb6257,#ee6853,#ef6b50,#ee6952,#ea6058,#e35262,#d74270,#c82d7f,#b8198d,#a90f96,#a1099b,#a0099c,#a60c98,#b31590,#c32783,#d53e73,#e35361,#ee6b51,#f78043)"></i><i style="background:linear-gradient(90deg,#c72c7f,#c82e7e,#ca307d,#cd337b,#cf3679,#d23a76,#d43d74,#d64071,#d9446e,#dc496a,#e04e66,#e45461,#e85a5c,#eb6157,#ed6853,#ef6b51,#ee6952,#ea6058,#e35362,#d8426f,#c82e7e,#b81a8c,#aa0f96,#a1099b,#9f089c,#a50c98,#b21491,#c22684,#d43d74,#e35262,#ee6952,#f67f43)"></i><i style="background:linear-gradient(90deg,#c62b80,#c72d7f,#c92f7e,#cb327c,#ce357a,#d03878,#d33b75,#d53e72,#d8436f,#db486b,#df4d66,#e35362,#e8595d,#eb6158,#ed6753,#ef6b51,#ee6952,#ea6058,#e35362,#d8436f,#c92f7e,#b91a8c,#aa0f96,#a1099b,#9f089c,#a50c99,#b21491,#c22684,#d33c74,#e25163,#ed6853,#f67e44)"></i><i style="background:linear-gradient(90deg,#c52a81,#c62b80,#c82d7f,#ca307d,#cc337b,#cf3679,#d13977,#d43d74,#d74170,#db466c,#df4c67,#e35262,#e7595d,#ea6058,#ed6753,#ee6a51,#ee6852,#ea6058,#e45461,#d8436e,#c92f7d,#b91b8b,#aa0f95,#a10a9b,#a0089c,#a50c99,#b21491,#c12585,#d33b75,#e15064,#ed6754,#f57c45)"></i><i style="background:linear-gradient(90deg,#c42982,#c52a81,#c62b80,#c82e7e,#cb317c,#cd347a,#d03778,#d33b75,#d64071,#da456d,#de4b68,#e25163,#e7585e,#ea5f58,#ed6654,#ee6a52,#ed6853,#eb6058,#e45461,#d9446e,#ca307d,#ba1c8b,#ab1095,#a20a9a,#a0099c,#a50c99,#b11491,#c12585,#d23a76,#e14f65,#ec6554,#f57b46)"></i><i style="background:linear-gradient(90deg,#c32783,#c32883,#c52a81,#c72c80,#c92f7e,#cc327c,#ce3579,#d13977,#d53e73,#d9446e,#dd4a69,#e15064,#e6575e,#ea5f59,#ec6554,#ee6952,#ed6853,#ea6058,#e45461,#d9456d,#cb317c,#bb1d8a,#ac1094,#a30a9a,#a0099b,#a50c98,#b11491,#c02485,#d23a76,#e04e66,#ec6455,#f47947)"></i><i style="background:linear-gradient(90deg,#c12584,#c22684,#c32783,#c52a81,#c72d7f,#ca307d,#cc337b,#d03778,#d43c74,#d8426f,#dc496a,#e14f65,#e5565f,#e95e5a,#ec6455,#ed6853,#ed6753,#ea6058,#e45560,#da456d,#cc327b,#bb1e89,#ad1194,#a30b9a,#a1099b,#a60c98,#b11491,#c02485,#d13977,#df4d66,#eb6256,#f37749)"></i><i style="background:linear-gradient(90deg,#c02486,#c02485,#c12584,#c32783,#c52a81,#c82d7f,#ca307d,#ce347a,#d23a76,#d64071,#db476b,#e04e65,#e55560,#e95d5a,#ec6356,#ed6753,#ed6654,#ea6058,#e55560,#da466c,#cd337b,#bc1f89,#ae1293,#a40c99,#a20a9b,#a60d98,#b11491,#c02386,#d13877,#df4c67,#eb6157,#f3754a)"></i><i style="background:linear-gradient(90deg,#be2187,#be2187,#bf2386,#c12585,#c32783,#c52a81,#c82d7f,#cb327c,#d03878,#d53e72,#da466c,#df4d66,#e45461,#e95c5b,#eb6257,#ed6654,#ec6654,#ea6058,#e55560,#db476c,#cd347a,#bd2088,#af1292,#a60c98,#a20a9a,#a70d98,#b21491,#c02386,#d03778,#de4b68,#ea5f58,#f2734b)"></i><i style="background:linear-gradient(90deg,#bc1f89,#bc1f89,#bd2088,#be2287,#c02485,#c32783,#c52a81,#c92e7e,#ce357a,#d43c74,#d9446e,#de4c68,#e35362,#e85a5c,#eb6157,#ec6555,#ec6555,#ea5f58,#e55560,#db476b,#ce3679,#be2287,#b11392,#a70d98,#a30b9a,#a70d97,#b21491,#bf2386,#cf3778,#dd4a69,#e95e5a,#f1714d)"></i><i style="background:linear-gradient(90deg,#ba1c8b,#b91c8b,#ba1c8b,#bc1e89,#be2188,#c02486,#c22684,#c62b81,#cb317c,#d23a76,#d8426f,#dd4a69,#e35262,#e7595d,#ea6058,#ec6456,#ec6456,#ea5f59,#e55660,#dc486a,#cf3778,#c02386,#b21491,#a80e97,#a40c99,#a80e97,#b21491,#bf2386,#cf3679,#dc496a,#e95c5b,#f06e4e)"></i><i style="background:linear-gradient(90deg,#b7188d,#b7188e,#b7198d,#b91a8c,#bb1d8a,#bd1f88,#bf2287,#c22783,#c82e7f,#cf3778,#d64071,#dc496a,#e25164,#e7585e,#ea5e59,#eb6256,#eb6356,#ea5f59,#e5565f,#dc496a,#d03877,#c12585,#b41590,#a90f96,#a50c98,#a80e97,#b21491,#bf2386,#ce3679,#dc486a,#e85a5c,#ef6c50)"></i><i style="background:linear-gradient(90deg,#b41590,#b31590,#b31590,#b5168f,#b7188d,#b91b8c,#bb1d8a,#bf2287,#c52a81,#cd337b,#d43d73,#db476c,#e14f65,#e6575f,#e95d5a,#eb6157,#eb6257,#ea5e59,#e5565f,#dd4a69,#d13976,#c22684,#b5168f,#ab1095,#a70d98,#a90f96,#b31490,#bf2286,#ce357a,#db476b,#e7585d,#ee6952)"></i><i style="background:linear-gradient(90deg,#af1293,#ae1293,#af1293,#b01392,#b21491,#b5168f,#b7188e,#ba1d8a,#c12585,#ca2f7d,#d33b75,#d9456d,#e04e66,#e55660,#e95c5b,#ea6058,#eb6158,#e95e5a,#e5565f,#dd4a69,#d23b76,#c32883,#b6188e,#ac1094,#a80e97,#aa0f96,#b31590,#bf2286,#cd347a,#da466c,#e6575f,#ed6753)"></i><i style="background:linear-gradient(90deg,#aa0f96,#a90e96,#a90f96,#ab1095,#ad1194,#af1293,#b11391,#b6178e,#bd2088,#c62b80,#d03878,#d8436f,#df4c67,#e45461,#e85a5c,#ea5f59,#ea6058,#e95d5a,#e5565f,#de4b68,#d33c75,#c52982,#b8198d,#ae1193,#a90e96,#ab0f95,#b31590,#bf2287,#cd337b,#d9456d,#e45560,#ec6455)"></i><i style="background:linear-gradient(90deg,#a40b99,#a30b9a,#a30b9a,#a50c99,#a60d98,#a80e97,#aa0f95,#af1292,#b81a8c,#c22684,#cd347a,#d64071,#dd4b69,#e35362,#e7595d,#e95d5a,#ea5f59,#e95d5a,#e6565f,#de4c68,#d43d74,#c62b80,#b91b8b,#af1293,#aa0f96,#ab1095,#b31590,#be2287,#cc327b,#d8436e,#e35362,#eb6157)"></i><i style="background:linear-gradient(90deg,#9d079d,#9c069e,#9c079e,#9e079d,#9f089c,#a1099b,#a30b9a,#a80e97,#b21491,#be2187,#ca307d,#d53e73,#dc496a,#e25163,#e6585e,#e95c5b,#e95e5a,#e95c5b,#e6575f,#df4c67,#d53e73,#c72d7f,#ba1d8a,#b11392,#ab1095,#ac1094,#b41590,#be2187,#cb327c,#d8426f,#e25163,#ea5f59)"></i><i style="background:linear-gradient(90deg,#9502a2,#9502a2,#9502a2,#9602a2,#9703a1,#9904a0,#9a059f,#a0099c,#ab1095,#b91c8b,#c72c80,#d33b75,#db476c,#e15064,#e6565f,#e85b5c,#e95d5a,#e95c5b,#e6575f,#df4d67,#d53f72,#c92e7e,#bc1e89,#b21491,#ac1094,#ad1194,#b41590,#be2187,#ca317d,#d74171,#e14f65,#e95c5b)"></i><i style="background:linear-gradient(90deg,#8d00a5,#8c00a5,#8c00a5,#8d00a5,#8e00a4,#9000a4,#9100a4,#9703a1,#a40b99,#b4158f,#c32783,#d03877,#d9456d,#e04e65,#e55560,#e8595d,#e95c5b,#e85b5b,#e6575f,#e04e66,#d64071,#ca307d,#bd2088,#b31590,#ad1194,#ad1194,#b41590,#bd2188,#ca307d,#d63f72,#df4d66,#e7595d)"></i><i style="background:linear-gradient(90deg,#8200a6,#8200a6,#8200a6,#8200a6,#8400a6,#8500a5,#8600a5,#8d00a4,#9b069e,#ad1194,#bf2287,#ce357a,#d8436f,#df4d67,#e45461,#e7585d,#e85b5c,#e85b5c,#e6575f,#e04e66,#d74170,#cb317c,#be2287,#b5168f,#ae1293,#ae1193,#b41590,#bd2088,#c92e7e,#d43e73,#de4b68,#e5565f)"></i><i style="background:linear-gradient(90deg,#7700a7,#7700a7,#7700a7,#7700a7,#7800a7,#7a00a7,#7b00a6,#8200a6,#9200a4,#a60d98,#ba1d8a,#cb317c,#d64071,#de4b68,#e35362,#e6575e,#e85a5c,#e85a5c,#e6575e,#e04f65,#d8426f,#cc337b,#c02386,#b6178e,#af1293,#ae1293,#b41590,#bc1f89,#c82d7f,#d33c74,#dc496a,#e45461)"></i><i style="background:linear-gradient(90deg,#6c00a8,#6b00a8,#6b00a8,#6c00a8,#6d00a8,#6e00a8,#6f00a8,#7600a7,#8700a5,#9e079d,#b5168f,#c72d7f,#d53e73,#dd4969,#e25163,#e5565f,#e7595d,#e85a5c,#e6575e,#e14f65,#d8436f,#cd347a,#c12585,#b7188d,#b01392,#ae1293,#b31590,#bc1e89,#c62c80,#d23a76,#db476c,#e25163)"></i><i style="background:linear-gradient(90deg,#6001a5,#5f01a5,#5f01a5,#5f01a5,#6001a5,#6101a5,#6201a5,#6a00a7,#7c00a6,#9502a2,#af1293,#c42882,#d33b75,#db486b,#e15064,#e55560,#e7595d,#e85a5c,#e6575e,#e15064,#d9446e,#ce3679,#c22684,#b81a8c,#b11392,#af1293,#b31590,#bb1d8a,#c52a81,#d03877,#d9446e,#e04e66)"></i><i style="background:linear-gradient(90deg,#5302a2,#5302a2,#5302a2,#5302a2,#5402a2,#5402a2,#5502a2,#5d01a4,#7000a8,#8b00a5,#a80e97,#c02386,#d13877,#da466c,#e04f65,#e45461,#e7585e,#e8595c,#e6575e,#e25164,#da456d,#d03778,#c32783,#b91b8c,#b11491,#af1293,#b21491,#ba1c8b,#c42882,#cf3679,#d74270,#de4c68)"></i><i style="background:linear-gradient(90deg,#48039f,#48039f,#48039f,#48039f,#48039f,#49039f,#49039f,#5102a1,#6401a6,#8100a6,#a1099b,#bc1e89,#ce3579,#d9446e,#df4e66,#e45461,#e6575e,#e7595d,#e6585e,#e25163,#da466c,#d13877,#c42982,#ba1c8b,#b21491,#af1293,#b21491,#b91b8b,#c22784,#cd347b,#d63f72,#dc496a)"></i><i style="background:linear-gradient(90deg,#3a049c,#39049b,#39049b,#3a049c,#3a049c,#3b049c,#3b049c,#45039e,#5802a3,#7600a7,#9904a0,#b7198d,#cb327c,#d8426f,#df4c67,#e35362,#e6575e,#e7595d,#e6585e,#e25263,#db476c,#d13976,#c52a81,#ba1d8a,#b21491,#af1293,#b11491,#b81a8c,#c12585,#cb317c,#d43d73,#da466c)"></i><i style="background:linear-gradient(90deg,#2b0598,#2b0598,#2b0598,#2b0598,#2b0598,#2c0598,#2c0598,#36049b,#4c02a0,#6b00a8,#9000a4,#b21491,#c82e7e,#d64071,#de4b68,#e35262,#e6575f,#e7595d,#e7585e,#e35262,#db486b,#d23a76,#c62b80,#bb1e8a,#b31590,#af1293,#b11392,#b7198d,#bf2386,#c92f7e,#d23b75,#d9446e)"></i><i style="background:linear-gradient(90deg,#200694,#200694,#200694,#200694,#200694,#200695,#200695,#280597,#40039d,#5f01a5,#8700a5,#ac1095,#c52a81,#d53e73,#dd4a69,#e25163,#e5565f,#e7595d,#e7585e,#e35362,#dc486a,#d33b75,#c72c80,#bc1e89,#b31590,#ae1293,#b01392,#b6178e,#be2187,#c72c7f,#d03877,#d74170)"></i><i style="background:linear-gradient(90deg,#17078f,#17078e,#17078e,#17078e,#18078f,#18078f,#18078f,#1e0793,#31059a,#5402a2,#7d00a6,#a50c98,#c22684,#d33c75,#dc496a,#e25164,#e5565f,#e7595d,#e7585d,#e35362,#dc496a,#d43c74,#c82d7f,#bc1f89,#b41590,#ae1293,#af1293,#b5168f,#bc1f89,#c52a81,#ce3579,#d53f72)"></i><i style="background:linear-gradient(90deg,#11088a,#11088a,#11088a,#11088a,#11088a,#11088a,#12088a,#16088d,#250697,#49039f,#7300a7,#9f089c,#be2287,#d23a76,#db476b,#e15064,#e55660,#e7595d,#e7585d,#e35361,#dd4a69,#d43d73,#c92e7e,#bd2088,#b41590,#ae1293,#ae1293,#b31590,#bb1d8a,#c32883,#cc337b,#d33c74)"></i><i style="background:linear-gradient(90deg,#0d0987,#0d0987,#0d0987,#0d0987,#0d0987,#0d0987,#0d0987,#100889,#1c0792,#3e049c,#6900a7,#9803a1,#bb1d8a,#cf3778,#da466c,#e14f65,#e55560,#e7595d,#e7595d,#e45461,#dd4a69,#d53e73,#c92f7e,#be2188,#b41590,#ae1193,#ae1193,#b21491,#b91b8b,#c12684,#ca307d,#d23a76)"></i><i style="background:linear-gradient(90deg,#0a0985,#0a0985,#0a0985,#0a0985,#0a0985,#0a0985,#0a0985,#0c0987,#15088d,#300599,#5e01a5,#9000a4,#b7188d,#cd347a,#d9456d,#e04e65,#e45560,#e7595d,#e7595d,#e45461,#de4b68,#d53f72,#ca307d,#be2187,#b4168f,#ae1193,#ad1194,#b11391,#b8198d,#c02386,#c82e7f,#d03778)"></i><i style="background:linear-gradient(90deg,#080983,#080983,#080983,#080983,#080983,#080983,#080983,#090984,#100889,#250697,#5402a2,#8800a5,#b21491,#cb317c,#d8436f,#e04e66,#e45560,#e7585d,#e7595d,#e45460,#de4c68,#d63f72,#cb317c,#bf2287,#b5168f,#ad1194,#ac1094,#b01392,#b6188e,#be2187,#c62b80,#ce357a)"></i><i style="background:linear-gradient(90deg,#060a82,#060a82,#060a82,#060a82,#060a82,#060a82,#060a82,#070983,#0c0986,#1c0792,#4b02a0,#7f00a6,#ad1194,#c92e7e,#d74270,#df4d67,#e45461,#e7585d,#e7595d,#e45560,#de4c67,#d64071,#cb327c,#bf2286,#b5168f,#ad1194,#ab1095,#ae1293,#b5168f,#bc1f89,#c42982,#cc327b)"></i><i style="background:linear-gradient(90deg,#050a81,#050a81,#050a81,#050a81,#050a81,#050a81,#050a82,#060a82,#090985,#16088e,#42039e,#7700a7,#a80e97,#c62b80,#d64071,#df4c67,#e45461,#e7585d,#e7595d,#e55560,#df4d67,#d74170,#cc327b,#bf2386,#b5168f,#ad1194,#ab0f95,#ad1194,#b31590,#bb1d8a,#c22783,#ca307d)"></i><i style="background:linear-gradient(90deg,#040a81,#040a81,#040a81,#040a81,#040a81,#040a81,#040a81,#050a81,#070983,#11088a,#36049b,#6e00a8,#a30a9a,#c32883,#d53f72,#de4b68,#e45461,#e7585d,#e7595d,#e55560,#df4d66,#d74170,#cc337b,#c02386,#b5168f,#ad1194,#aa0f96,#ac1094,#b21491,#b91b8b,#c12585,#c82e7f)"></i><i style="background:linear-gradient(90deg,#040a81,#040a81,#040a81,#040a81,#040a81,#040a81,#040a81,#040a81,#060a82,#0d0987,#2b0598,#6600a6,#9d079d,#c12585,#d43d74,#dd4b69,#e35362,#e7585e,#e8595d,#e5565f,#df4e66,#d74270,#cd347a,#c02485,#b5168f,#ad1194,#a90f96,#ab1095,#b11392,#b81a8c,#bf2386,#c62c80)"></i><i style="background:linear-gradient(90deg,#040a80,#040a80,#040a80,#040a80,#040a80,#040a80,#040a80,#040a81,#050a82,#0b0985,#220696,#5d01a4,#9703a1,#be2187,#d33b75,#dd4a69,#e35362,#e7585e,#e8595c,#e5565f,#e04e66,#d8436f,#cd347a,#c12485,#b5178f,#ac1194,#a90e96,#ab0f95,#b01392,#b7188e,#be2187,#c52a81)"></i><i style="background:linear-gradient(90deg,#030a80,#030a80,#030a80,#030a80,#030a80,#030a80,#030a80,#040a80,#050a81,#090984,#1c0792,#5502a2,#9200a4,#bb1e8a,#d23a76,#dc496a,#e35262,#e7585e,#e8595c,#e5565f,#e04e65,#d8436f,#ce357a,#c12585,#b6178e,#ac1194,#a90e96,#aa0f96,#af1293,#b6178e,#bd1f88,#c42882)"></i><i style="background:linear-gradient(90deg,#030a80,#030a80,#030a80,#030a80,#030a80,#030a80,#030a80,#030a80,#040a81,#070983,#16078e,#4e02a0,#8b00a5,#b81a8c,#d03878,#db486b,#e25263,#e6585e,#e85a5c,#e6575f,#e04f65,#d9446e,#ce3579,#c12584,#b6178e,#ac1194,#a80e97,#a90f96,#ae1193,#b5168f,#bc1e89,#c22783)"></i><i style="background:linear-gradient(90deg,#030a80,#030a80,#030a80,#030a80,#030a80,#030a80,#030a80,#030a80,#040a81,#060a82,#12088b,#47039f,#8500a5,#b6178f,#ce3679,#db476c,#e25163,#e6585e,#e85a5c,#e6575f,#e14f65,#d9446e,#cf3679,#c22684,#b6178e,#ad1194,#a80e97,#a90e96,#ad1194,#b41590,#bb1d8a,#c12584)"></i><i style="background:linear-gradient(90deg,#030a80,#030a80,#030a80,#030a80,#030a80,#030a80,#030a80,#030a80,#040a80,#050a82,#0f0888,#3f039d,#7f00a6,#b21491,#cd347a,#da466c,#e25164,#e6575e,#e85a5c,#e6575e,#e15064,#d9446e,#cf3679,#c22684,#b6188e,#ad1194,#a80e97,#a90e96,#ad1194,#b31590,#ba1c8b,#c02485)"></i><i style="background:linear-gradient(90deg,#030a80,#030a80,#030a80,#030a80,#030a80,#030a80,#030a80,#030a80,#030a80,#050a81,#0c0987,#36049b,#7900a7,#ae1293,#cb317c,#d9456d,#e15064,#e6575e,#e85a5c,#e6575e,#e15064,#d9456d,#cf3778,#c22783,#b7188e,#ad1194,#a80e97,#a90e96,#ac1194,#b21491,#b91b8b,#bf2386)"></i><i style="background:linear-gradient(90deg,#030a80,#030a80,#030a80,#030a80,#030a80,#030a80,#030a80,#030a80,#030a80,#040a81,#0a0985,#2e0599,#7300a7,#ab1095,#c92f7d,#d9446e,#e14f65,#e6575f,#e85a5c,#e6585e,#e15064,#da456d,#d03778,#c32783,#b7188d,#ad1194,#a90e96,#a90e96,#ac1094,#b21491,#b81a8c,#bf2287)"></i><i style="background:linear-gradient(90deg,#030a80,#030a80,#030a80,#030a80,#030a80,#030a80,#030a80,#030a80,#030a80,#040a81,#090984,#270697,#6d00a8,#a70d97,#c82d7f,#d8426f,#e04f65,#e6565f,#e85a5c,#e6585e,#e15064,#da456d,#d03878,#c32783,#b7198d,#ad1194,#a90e96,#a90e96,#ac1094,#b21491,#b81a8c,#be2187)"></i><i style="background:linear-gradient(90deg,#030a80,#030a80,#030a80,#030a80,#030a80,#030a80,#030a80,#030a80,#030a80,#040a81,#080983,#210695,#6700a7,#a40b99,#c62b80,#d74170,#e04e66,#e5565f,#e85a5c,#e6585e,#e25164,#da466d,#d03877,#c32883,#b8198d,#ae1193,#a90e96,#a90e96,#ac1094,#b11491,#b8198d,#bd2088)"></i><i style="background:linear-gradient(90deg,#030a80,#030a80,#030a80,#030a80,#030a80,#030a80,#030a80,#030a80,#030a80,#040a80,#070a83,#1d0792,#6101a5,#a0099b,#c42982,#d64071,#df4d66,#e5565f,#e85a5c,#e7585e,#e25163,#da466c,#d13877,#c42882,#b8198d,#ae1293,#a90f96,#a90e96,#ac1094,#b11491,#b7198d,#bd1f89)"></i><i style="background:linear-gradient(90deg,#030a80,#030a80,#030a80,#030a80,#030a80,#030a80,#030a80,#030a80,#030a80,#030a80,#060a82,#19078f,#5c01a4,#9d079e,#c22783,#d53f72,#df4d67,#e55560,#e8595c,#e7585e,#e25163,#da466c,#d13877,#c42882,#b81a8c,#ae1293,#aa0f96,#a90e96,#ac1094,#b11391,#b7188d,#bc1f89)"></i><i style="background:linear-gradient(90deg,#030a80,#030a80,#030a80,#030a80,#030a80,#030a80,#030a80,#030a80,#030a80,#030a80,#050a82,#16088d,#5702a3,#9905a0,#c12585,#d43e73,#de4c68,#e55560,#e8595d,#e7585e,#e25163,#da466c,#d13977,#c42982,#b81a8c,#af1293,#aa0f96,#a90f96,#ac1094,#b11392,#b6188e,#bb1e8a)"></i><i style="background:linear-gradient(90deg,#030a80,#030a80,#030a80,#030a80,#030a80,#030a80,#030a80,#030a80,#030a80,#030a80,#050a81,#13088b,#5302a2,#9603a1,#bf2386,#d43c74,#de4b68,#e45460,#e7595d,#e7585e,#e25163,#db466c,#d13977,#c42982,#b91a8c,#af1293,#aa0f96,#a90f96,#ac1094,#b11392,#b6178e,#bb1d8a)"></i><i style="background:linear-gradient(90deg,#030a80,#030a80,#030a80,#030a80,#030a80,#030a80,#030a80,#030a80,#030a80,#030a80,#050a81,#11088a,#4f02a1,#9301a3,#be2188,#d33b75,#dd4a69,#e45461,#e7595d,#e7585e,#e25163,#db466c,#d13977,#c42982,#b91b8c,#af1292,#aa0f95,#aa0f96,#ac1094,#b11392,#b6178e,#ba1c8b)"></i><i style="background:linear-gradient(90deg,#030a80,#030a80,#030a80,#030a80,#030a80,#030a80,#030a80,#030a80,#030a80,#030a80,#040a81,#0f0889,#4b02a0,#9000a4,#bc1f89,#d23a76,#dd496a,#e45361,#e7595d,#e7585e,#e25163,#db466c,#d13977,#c42982,#b91b8c,#b01392,#aa0f95,#aa0f96,#ac1094,#b01392,#b5168f,#b91b8b)"></i><i style="background:linear-gradient(90deg,#030a80,#030a80,#030a80,#030a80,#030a80,#030a80,#030a80,#030a80,#030a80,#030a80,#040a81,#0e0988,#48039f,#8d00a5,#ba1d8a,#d13977,#dc496a,#e35362,#e7585d,#e6585e,#e25163,#db466c,#d13977,#c42982,#b91b8c,#b01392,#ab0f95,#aa0f96,#ac1094,#b01392,#b5168f,#b91b8c)"></i><i style="background:linear-gradient(90deg,#030a80,#030a80,#030a80,#030a80,#030a80,#030a80,#030a80,#030a80,#030a80,#030a80,#040a81,#0d0987,#45039e,#8a00a5,#b91b8c,#d03778,#db486b,#e35262,#e7585e,#e6585e,#e25163,#db466c,#d13977,#c52982,#b91b8b,#b01392,#ab1095,#aa0f96,#ac1095,#b01392,#b4168f,#b81a8c)"></i><i style="background:linear-gradient(90deg,#030a80,#030a80,#030a80,#030a80,#030a80,#030a80,#030a80,#030a80,#030a80,#030a80,#040a81,#0c0986,#41039d,#8800a5,#b8198d,#cf3679,#db476c,#e25263,#e6585e,#e6575e,#e25163,#da466c,#d13977,#c52982,#b91b8b,#b01392,#ab1095,#aa0f96,#ac1095,#af1292,#b41590,#b7198d)"></i><i style="background:linear-gradient(90deg,#030a80,#030a80,#030a80,#030a80,#030a80,#030a80,#030a80,#030a80,#030a80,#030a80,#040a81,#0b0986,#3e049c,#8500a5,#b6188e,#ce3579,#da466c,#e25163,#e6575e,#e6575e,#e25163,#da466c,#d13977,#c42982,#b91b8b,#b01392,#ab1095,#a90f96,#ab1095,#af1293,#b31590,#b6188e)"></i><i style="background:linear-gradient(90deg,#030a80,#030a80,#030a80,#030a80,#030a80,#030a80,#030a80,#030a80,#030a80,#030a80,#040a81,#0a0985,#3a049c,#8300a6,#b5168f,#cd347a,#da456d,#e15064,#e6575f,#e6575f,#e25164,#da466c,#d13977,#c42982,#b91b8c,#b01392,#aa0f95,#a90f96,#ab1095,#ae1293,#b21491,#b5168f)"></i><i style="background:linear-gradient(90deg,#030a80,#030a80,#030a80,#030a80,#030a80,#030a80,#030a80,#030a80,#030a80,#030a80,#040a80,#0a0985,#38049b,#8100a6,#b41590,#cc337b,#d9446e,#e15064,#e5565f,#e5565f,#e15064,#da466c,#d13977,#c42982,#b91b8c,#b01392,#aa0f95,#a90e96,#aa0f96,#ad1194,#b11392,#b41590)"></i><i style="background:linear-gradient(90deg,#030a80,#030a80,#030a80,#030a80,#030a80,#030a80,#030a80,#030a80,#030a80,#030a80,#040a80,#090984,#35049b,#7f00a6,#b31590,#cb327c,#d8436e,#e04f65,#e55660,#e5565f,#e15064,#da456d,#d13877,#c42982,#b91b8c,#af1292,#aa0f96,#a80e97,#a90f96,#ac1094,#b01392,#b21491)"></i><i style="background:linear-gradient(90deg,#030a80,#030a80,#030a80,#030a80,#030a80,#030a80,#030a80,#030a80,#030a80,#030a80,#040a80,#090984,#34049a,#7e00a6,#b21491,#ca317d,#d8436f,#e04e66,#e45560,#e55560,#e15065,#da456d,#d03877,#c42882,#b81a8c,#af1293,#a90f96,#a70d97,#a80e97,#ab1095,#ae1293,#b11392)"></i><i style="background:linear-gradient(90deg,#030a80,#030a80,#030a80,#030a80,#030a80,#030a80,#030a80,#030a80,#030a80,#030a80,#040a80,#090984,#32059a,#7d00a6,#b11392,#ca307d,#d74270,#df4d66,#e45461,#e45560,#e04f65,#d9456d,#d03878,#c42882,#b81a8c,#ae1293,#a90e96,#a70d98,#a70d97,#aa0f96,#ad1194,#af1293)"></i><i style="background:linear-gradient(90deg,#030a80,#030a80,#030a80,#030a80,#030a80,#030a80,#030a80,#030a80,#030a80,#030a80,#040a80,#090984,#31059a,#7c00a6,#b01392,#c92f7e,#d74170,#df4d67,#e45361,#e45461,#e04f65,#d9446e,#d03778,#c32883,#b8198d,#ae1193,#a80e97,#a60c98,#a60d98,#a80e97,#ab1095,#ad1194)"></i><i style="background:linear-gradient(90deg,#030a80,#030a80,#030a80,#030a80,#030a80,#030a80,#030a80,#030a80,#030a80,#030a80,#040a80,#080984,#31059a,#7c00a6,#af1293,#c82e7e,#d64071,#de4c68,#e35362,#e45361,#e04e66,#d9446e,#cf3778,#c32783,#b7198d,#ad1194,#a70d97,#a50c99,#a50c99,#a70d97,#a90f96,#ab1095)"></i><i style="background:linear-gradient(90deg,#030a80,#030a80,#030a80,#030a80,#030a80,#030a80,#030a80,#030a80,#030a80,#030a80,#040a80,#080984,#310599,#7b00a6,#ae1293,#c82d7f,#d63f72,#de4b68,#e25263,#e35362,#df4d66,#d9436e,#cf3679,#c32783,#b7188d,#ac1194,#a60d98,#a40b99,#a40b99,#a50c98,#a70e97,#a90f96)"></i><i style="background:linear-gradient(90deg,#030a80,#030a80,#030a80,#030a80,#030a80,#030a80,#030a80,#030a80,#030a80,#030a80,#040a80,#080984,#310599,#7b00a6,#ae1193,#c72c80,#d53e72,#dd4a69,#e25163,#e25263,#df4d67,#d8436f,#cf3679,#c22684,#b6188e,#ac1095,#a50c98,#a20a9a,#a20a9a,#a40b99,#a60c98,#a70d97)"></i><i style="background:linear-gradient(90deg,#030a80,#030a80,#030a80,#030a80,#030a80,#030a80,#030a80,#030a80,#030a80,#030a80,#040a80,#080984,#300599,#7a00a6,#ad1194,#c62b80,#d43e73,#dc496a,#e15064,#e25163,#de4c67,#d8426f,#ce3579,#c22684,#b6178e,#ab1095,#a40b99,#a10a9b,#a1099b,#a20a9a,#a40b99,#a50c99)"></i><i style="background:linear-gradient(90deg,#030a80,#030a80,#030a80,#030a80,#030a80,#030a80,#030a80,#030a80,#030a80,#030a80,#040a80,#080984,#300599,#7a00a7,#ad1194,#c62a81,#d43d74,#dc486a,#e14f65,#e15064,#de4b68,#d74270,#ce357a,#c12585,#b5168f,#aa0f96,#a30b9a,#a0099c,#9f089c,#a0099b,#a20a9b,#a30b9a)"></i><i style="background:linear-gradient(90deg,#030a80,#030a80,#030a80,#030a80,#030a80,#030a80,#030a80,#030a80,#030a80,#030a80,#040a80,#080984,#300599,#7a00a7,#ac1094,#c52a81,#d33c75,#db476b,#e04e66,#e14f65,#dd4a69,#d74170,#cd347a,#c12485,#b5168f,#a90f96,#a20a9a,#9f089c,#9e079d,#9e089d,#a0099c,#a1099b)"></i><i style="background:linear-gradient(90deg,#030a80,#030a80,#030a80,#030a80,#030a80,#030a80,#030a80,#030a80,#030a80,#030a80,#040a80,#080984,#300599,#7900a7,#ab1095,#c42982,#d33b75,#da466c,#df4d66,#e04e65,#dd4a69,#d64071,#cd337b,#c02486,#b41590,#a80e97,#a1099b,#9d079d,#9c069e,#9d079e,#9e079d,#9f089c)"></i><i style="background:linear-gradient(90deg,#030a80,#030a80,#030a80,#030a80,#030a80,#030a80,#030a80,#030a80,#030a80,#030a80,#040a80,#080984,#300599,#7900a7,#ab1095,#c42882,#d23a76,#da456d,#de4c67,#df4d66,#dc496a,#d64071,#cc337b,#bf2386,#b31590,#a70d97,#a0099c,#9c069e,#9a059f,#9b059f,#9c069e,#9c079e)"></i><i style="background:linear-gradient(90deg,#030a80,#030a80,#030a80,#030a80,#030a80,#030a80,#030a80,#030a80,#030a80,#030a80,#040a80,#080984,#300599,#7900a7,#aa0f95,#c32783,#d13977,#d9446e,#de4b68,#df4c67,#dc486b,#d53f72,#cb327c,#bf2287,#b21491,#a60d98,#9e089d,#9a059f,#9904a0,#9904a0,#9a059f,#9a059f)"></i><i style="background:linear-gradient(90deg,#030a80,#030a80,#030a80,#030a80,#030a80,#030a80,#030a80,#030a80,#030a80,#030a80,#040a80,#080984,#300599,#7800a7,#aa0f96,#c22684,#d03877,#d8436f,#dd4a69,#de4b68,#db476b,#d53e73,#cb317c,#be2187,#b11491,#a50c99,#9d079d,#9904a0,#9703a1,#9703a1,#9804a1,#9804a0)"></i><i style="background:linear-gradient(90deg,#030a80,#030a80,#030a80,#030a80,#030a80,#030a80,#030a80,#030a80,#030a80,#030a80,#040a80,#080984,#300599,#7800a7,#a90f96,#c22684,#d03778,#d8426f,#dc496a,#dd4a69,#da466c,#d43d73,#ca307d,#bd2088,#b01392,#a40b99,#9c069e,#9703a1,#9502a2,#9502a2,#9602a2,#9603a1)"></i><i style="background:linear-gradient(90deg,#030a80,#030a80,#030a80,#030a80,#030a80,#030a80,#030a80,#030a80,#030a80,#030a80,#040a80,#080984,#2f0599,#7800a7,#a90e96,#c12585,#cf3679,#d74170,#db486b,#dc496a,#da456d,#d43d74,#c92f7d,#bd2088,#af1292,#a30b9a,#9b059f,#9602a2,#9401a3,#9401a3,#9401a3,#9402a3)"></i><i style="background:linear-gradient(90deg,#030a80,#030a80,#030a80,#030a80,#030a80,#030a80,#030a80,#030a80,#030a80,#030a80,#040a80,#080984,#2f0599,#7800a7,#a80e97,#c02485,#ce3579,#d64071,#db476c,#dc486b,#d9446e,#d33c75,#c92f7e,#bc1f89,#ae1293,#a20a9b,#9905a0,#9402a3,#9200a4,#9200a4,#9200a4,#9300a4)"></i><i style="background:linear-gradient(90deg,#030a80,#030a80,#030a80,#030a80,#030a80,#030a80,#030a80,#030a80,#030a80,#030a80,#040a80,#080984,#2f0599,#7700a7,#a70e97,#c02386,#cd347a,#d53f72,#da456d,#db476c,#d8436f,#d33b75,#c82e7f,#bb1e8a,#ad1194,#a0099b,#9804a0,#9301a3,#9100a4,#9000a4,#9100a4,#9100a4)"></i><i style="background:linear-gradient(90deg,#030a80,#030a80,#030a80,#030a80,#030a80,#030a80,#030a80,#030a80,#030a80,#030a80,#040a80,#080984,#2f0599,#7700a7,#a70d97,#bf2286,#cc337b,#d53e73,#d9446e,#da466d,#d74270,#d23a76,#c72d7f,#ba1d8a,#ac1094,#9f089c,#9703a1,#9200a4,#8f00a4,#8f00a4,#8f00a4,#8f00a4)"></i><i style="background:linear-gradient(90deg,#030a80,#030a80,#030a80,#030a80,#030a80,#030a80,#030a80,#030a80,#030a80,#030a80,#040a80,#080984,#2f0599,#7700a7,#a60d98,#be2287,#cc327c,#d43d74,#d8436f,#d9446e,#d74170,#d13977,#c62c80,#ba1c8b,#ab1095,#9e089d,#9502a2,#9000a4,#8e00a4,#8d00a5,#8d00a4,#8d00a4)"></i><i style="background:linear-gradient(90deg,#030a80,#030a80,#030a80,#030a80,#030a80,#030a80,#030a80,#030a80,#030a80,#030a80,#040a80,#080984,#2f0599,#7600a7,#a60d98,#be2187,#cb317c,#d33c75,#d74270,#d8436f,#d64071,#d03878,#c62b81,#b91b8c,#aa0f96,#9d079d,#9401a3,#8f00a4,#8c00a5,#8c00a5,#8c00a5,#8c00a5)"></i><i style="background:linear-gradient(90deg,#030a80,#030a80,#030a80,#030a80,#030a80,#030a80,#030a80,#030a80,#030a80,#030a80,#040a80,#080984,#2f0599,#7600a7,#a50c98,#bd2088,#ca307d,#d33b75,#d74171,#d74270,#d53f72,#cf3678,#c52a81,#b81a8c,#a90e96,#9c069e,#9301a3,#8e00a4,#8b00a5,#8a00a5,#8b00a5,#8b00a5)"></i><i style="background:linear-gradient(90deg,#030a80,#030a80,#030a80,#030a80,#030a80,#030a80,#030a80,#030a80,#030a80,#030a80,#040a80,#080984,#2f0599,#7600a7,#a50c99,#bd2088,#c92f7e,#d23a76,#d63f72,#d74171,#d43d73,#ce3579,#c42882,#b7198d,#a80e97,#9b069f,#9200a4,#8c00a5,#8a00a5,#8900a5,#8900a5,#8a00a5)"></i><i style="background:linear-gradient(90deg,#030a80,#030a80,#030a80,#030a80,#030a80,#030a80,#030a80,#030a80,#030a80,#030a80,#040a80,#080984,#2f0599,#7600a7,#a50c99,#bc1f89,#c92e7e,#d13877,#d53e73,#d63f72,#d33c74,#cd347a,#c32783,#b6178e,#a70d98,#9a059f,#9100a4,#8b00a5,#8900a5,#8800a5,#8900a5,#8900a5)"></i><i style="background:linear-gradient(90deg,#030a80,#030a80,#030a80,#030a80,#030a80,#030a80,#030a80,#030a80,#030a80,#030a80,#040a80,#080984,#2f0599,#7500a7,#a40b99,#bc1e89,#c82d7f,#d03778,#d43d74,#d53e73,#d33b75,#cc337b,#c22684,#b5168f,#a60c98,#9904a0,#9000a4,#8a00a5,#8800a5,#8700a5,#8800a5,#8800a5)"></i><i style="background:linear-gradient(90deg,#030a80,#030a80,#030a80,#030a80,#030a80,#030a80,#030a80,#030a80,#030a80,#030a80,#040a80,#080984,#2e0599,#7500a7,#a40b99,#bb1e8a,#c72c7f,#cf3679,#d33c75,#d43d74,#d23a76,#cb327c,#c12585,#b4168f,#a50c99,#9803a1,#8f00a4,#8900a5,#8700a5,#8700a5,#8700a5,#8800a5)"></i><i style="background:linear-gradient(90deg,#030a80,#030a80,#030a80,#030a80,#030a80,#030a80,#030a80,#030a80,#030a80,#030a80,#040a80,#080984,#2e0599,#7500a7,#a30b9a,#bb1d8a,#c62c80,#ce3579,#d23b76,#d33c75,#d13877,#ca307d,#c02485,#b31590,#a40b99,#9703a1,#8e00a4,#8900a5,#8700a5,#8700a5,#8700a5,#8700a5)"></i><i style="background:linear-gradient(90deg,#030a80,#030a80,#030a80,#030a80,#030a80,#030a80,#030a80,#030a80,#030a80,#030a80,#040a80,#080984,#2e0599,#7500a7,#a30b9a,#ba1c8b,#c62b81,#cd347a,#d13976,#d23a76,#d03778,#c92f7e,#bf2386,#b21491,#a20a9a,#9602a2,#8d00a5,#8800a5,#8600a5,#8600a5,#8700a5,#8700a5)"></i><i style="background:linear-gradient(90deg,#030a80,#030a80,#030a80,#030a80,#030a80,#030a80,#030a80,#030a80,#030a80,#030a80,#040a80,#080984,#2e0599,#7500a7,#a30a9a,#ba1c8b,#c52a81,#cc337b,#d03877,#d13977,#ce3679,#c82e7f,#be2187,#b11391,#a10a9b,#9502a2,#8c00a5,#8800a5,#8600a5,#8600a5,#8700a5,#8800a5)"></i><i style="background:linear-gradient(90deg,#030a80,#030a80,#030a80,#030a80,#030a80,#030a80,#030a80,#030a80,#030a80,#030a80,#040a80,#080984,#2e0599,#7400a7,#a20a9a,#b91b8b,#c42982,#cb327c,#cf3778,#d03878,#cd347a,#c72c7f,#bd2088,#b01392,#a0099b,#9401a3,#8b00a5,#8700a5,#8600a5,#8700a5,#8800a5,#8800a5)"></i><i style="background:linear-gradient(90deg,#030a80,#030a80,#030a80,#030a80,#030a80,#030a80,#030a80,#030a80,#030a80,#030a80,#040a80,#080984,#2e0599,#7400a7,#a20a9a,#b91b8c,#c42882,#cb317c,#ce3579,#cf3679,#cc337b,#c62b80,#bc1f89,#af1293,#9f089c,#9301a3,#8b00a5,#8700a5,#8600a5,#8700a5,#8900a5,#8900a5)"></i><i style="background:linear-gradient(90deg,#030a80,#030a80,#030a80,#030a80,#030a80,#030a80,#030a80,#030a80,#030a80,#030a80,#040a80,#080984,#2e0599,#7400a7,#a20a9b,#b81a8c,#c32883,#ca307d,#cd347a,#ce357a,#cb317c,#c52a81,#bb1e8a,#ad1194,#9e089d,#9200a4,#8a00a5,#8700a5,#8700a5,#8800a5,#8a00a5,#8b00a5)"></i><i style="background:linear-gradient(90deg,#030a80,#030a80,#030a80,#030a80,#030a80,#030a80,#030a80,#030a80,#030a80,#030a80,#040a80,#080984,#2e0599,#7400a7,#a10a9b,#b81a8c,#c32783,#c92f7e,#cc337b,#cd337b,#ca307d,#c42882,#ba1c8b,#ac1194,#9d079d,#9100a4,#8a00a5,#8700a5,#8800a5,#8900a5,#8b00a5,#8c00a5)"></i><i style="background:linear-gradient(90deg,#030a80,#030a80,#030a80,#030a80,#030a80,#030a80,#030a80,#030a80,#030a80,#030a80,#040a80,#080984,#2e0599,#7400a7,#a1099b,#b8198d,#c22684,#c82e7e,#cb327c,#cc327c,#c92e7e,#c32783,#b91b8c,#ab1095,#9c079e,#9100a4,#8a00a5,#8800a5,#8900a5,#8b00a5,#8d00a4,#8e00a4)"></i><i style="background:linear-gradient(90deg,#030a80,#030a80,#030a80,#030a80,#030a80,#030a80,#030a80,#030a80,#030a80,#030a80,#040a80,#080984,#2e0599,#7400a7,#a1099b,#b7198d,#c22684,#c82d7f,#ca317d,#ca317d,#c72d7f,#c12584,#b81a8c,#aa0f96,#9b069e,#9000a4,#8a00a5,#8800a5,#8a00a5,#8d00a5,#8f00a4,#9100a4)"></i></div>
<div class="cb" style="left:901px;top:334px;width:10px;height:181px;background:linear-gradient(180deg,#ffe500,#ffcb12,#ffa42c,#f67e44,#e85a5c,#d23a76,#b5168f,#9200a4,#6c00a8,#44039e,#030a80)"></div>
<svg width="943" height="556" viewBox="0 0 943 556">
<line x1="48.9" y1="14.3" x2="295.5" y2="14.3" stroke="#777" stroke-width="1.2"/>
<line x1="48.9" y1="14.3" x2="48.9" y2="217.1" stroke="#bbb" stroke-width="1.2"/>
<line x1="296.0" y1="14.3" x2="296.0" y2="217.1" stroke="#ccc" stroke-width="1.8"/>
<line x1="48.9" y1="217.1" x2="295.5" y2="217.1" stroke="#bbb" stroke-width="1.5"/>
<path d="M48.9 115.7h3M172.2 217.1v-3M172.2 14.3v3M295.5 115.7h-3" stroke="#333" stroke-width="1"/>
<polyline points="48.9,70.6 53.1,71.2 57.3,71.8 61.4,72.4 65.6,73.0 69.8,73.7 74.0,74.4 78.2,75.1 82.3,75.8 86.5,76.6 90.7,77.4 94.9,78.2 99.1,79.0 103.2,79.8 107.4,80.7 111.6,81.6 115.8,82.5 120.0,83.4 124.1,84.3 128.3,85.3 132.5,86.3 136.7,87.3 140.9,88.3 145.0,89.3 149.2,90.4 153.4,91.5 157.6,92.6 161.8,93.7 165.9,94.9 170.1,96.1 174.3,97.3 178.5,98.5 182.6,99.7 186.8,101.0 191.0,102.2 195.2,103.5 199.4,104.9 203.5,106.2 207.7,107.6 211.9,109.0 216.1,110.4 220.3,111.8 224.4,113.2 228.6,114.7 232.8,116.2 237.0,117.7 241.2,119.2 245.3,120.8 249.5,122.4 253.7,124.0 257.9,125.6 262.1,127.2 266.2,128.9 270.4,130.5 274.6,132.2 278.8,134.0 283.0,135.7 287.1,137.5 291.3,139.2 295.5,141.1" fill="none" stroke="#000" stroke-width="2" stroke-dasharray="6 2.5 2.5 2.5"/>
<circle cx="67.2" cy="73.9" r="4.3" fill="#000"/>
<circle cx="122.9" cy="81.2" r="4.3" fill="#000"/>
<circle cx="161.6" cy="93.6" r="4.3" fill="#000"/>
<circle cx="215.5" cy="113.3" r="4.3" fill="#000"/>
<circle cx="250.5" cy="120.4" r="4.3" fill="#000"/>
<path d="M237.2 63.3H269.5L268.7 58.7L289.7 69.2L268.7 79.0L269.5 74.0H237.2Z" fill="#000"/>
<path d="M114.8 128.8H85.8L85.2 123.5L63.1 133.6L85.2 143.2L85.8 138.8H114.8Z" fill="#000"/>
<text x="103.9" y="74.5" font-size="16.0" textLength="133.3" lengthAdjust="spacingAndGlyphs" fill="#000" stroke="#000">Infeasible solutions</text>
<text x="118.5" y="139.6" font-size="16.0" textLength="118.9" lengthAdjust="spacingAndGlyphs" fill="#000" stroke="#000">Pareto inefficient</text>
<circle cx="147.8" cy="183.6" r="4.3" fill="#000"/>
<path d="M139.8 199.4h7M149.3 199.4h2.5M153.3 199.4h2.5" stroke="#000" stroke-width="1.6"/>
<text x="171.6" y="188.2" font-size="13.6" textLength="65.0" lengthAdjust="spacingAndGlyphs" fill="#000" stroke="#000">CS-CGMD</text>
<text x="168.7" y="203.9" font-size="13.6" textLength="109.8" lengthAdjust="spacingAndGlyphs" fill="#000" stroke="#000">Fitted Pareto front</text>
<text x="51.7" y="33.8" font-size="19.5" fill="#000" stroke="#000">A</text>
<text x="44.0" y="20.0" font-size="14.5" text-anchor="end" fill="#111" stroke="#111">0.4</text>
<text x="44.0" y="120.5" font-size="14.5" text-anchor="end" fill="#111" stroke="#111">0.2</text>
<text x="44.1" y="222.5" font-size="14.5" text-anchor="end" fill="#111" stroke="#111">0</text>
<text x="49.0" y="235.3" font-size="14.5" text-anchor="middle" fill="#111" stroke="#111">0</text>
<text x="172.3" y="235.3" font-size="14.5" text-anchor="middle" fill="#111" stroke="#111">0.25</text>
<text x="295.0" y="235.3" font-size="14.5" text-anchor="middle" fill="#111" stroke="#111">0.5</text>
<text x="12.2" y="251.7" font-size="13.6" textLength="308.0" lengthAdjust="spacingAndGlyphs" fill="#111" stroke="#111">Exciton diffusion to charge transport probability (f1)</text>
<text x="20.2" y="210.4" font-size="16.6" textLength="189.7" lengthAdjust="spacingAndGlyphs" transform="rotate(-90 20.2 210.4)" fill="#111" stroke="#111">Tensile strength (Gpa) (f2)</text>
<text x="393.8" y="36.0" font-size="16.2" text-anchor="end" textLength="23.8" lengthAdjust="spacingAndGlyphs" fill="#111" stroke="#111">473</text>
<text x="393.5" y="108.9" font-size="16.2" text-anchor="end" textLength="23.8" lengthAdjust="spacingAndGlyphs" fill="#111" stroke="#111">398</text>
<text x="393.1" y="201.0" font-size="16.2" text-anchor="end" textLength="23.8" lengthAdjust="spacingAndGlyphs" fill="#111" stroke="#111">323</text>
<text x="400.0" y="215.2" font-size="15.3" text-anchor="middle" textLength="20.8" lengthAdjust="spacingAndGlyphs" fill="#111" stroke="#111">0.2</text>
<text x="446.4" y="215.2" font-size="15.3" text-anchor="middle" textLength="20.8" lengthAdjust="spacingAndGlyphs" fill="#111" stroke="#111">0.4</text>
<text x="498.7" y="215.2" font-size="15.3" text-anchor="middle" textLength="20.8" lengthAdjust="spacingAndGlyphs" fill="#111" stroke="#111">0.6</text>
<text x="551.8" y="215.2" font-size="15.3" text-anchor="middle" textLength="20.8" lengthAdjust="spacingAndGlyphs" fill="#111" stroke="#111">0.8</text>
<text x="391.7" y="231.0" font-size="17.5" textLength="171.1" lengthAdjust="spacingAndGlyphs" fill="#111" stroke="#111">PCBM weight fraction</text>
<text x="361.8" y="232.3" font-size="17.9" textLength="211.3" lengthAdjust="spacingAndGlyphs" transform="rotate(-90 361.8 232.3)" fill="#111" stroke="#111">Annealing temperature (K)</text>
<text x="598.4" y="32.8" font-size="16.0" textLength="20.8" lengthAdjust="spacingAndGlyphs" fill="#111" stroke="#111">0.7</text>
<text x="598.1" y="120.2" font-size="16.0" textLength="29.0" lengthAdjust="spacingAndGlyphs" fill="#111" stroke="#111">0.35</text>
<text x="597.7" y="205.4" font-size="16.0" textLength="20.8" lengthAdjust="spacingAndGlyphs" fill="#111" stroke="#111">0.0</text>
<text x="405.4" y="51.4" font-size="22.5" textLength="14.2" lengthAdjust="spacingAndGlyphs" fill="#fbeefb" stroke="#fbeefb">B</text>
<text x="699.2" y="34.5" font-size="16.2" text-anchor="end" textLength="23.8" lengthAdjust="spacingAndGlyphs" fill="#111" stroke="#111">473</text>
<text x="698.9" y="107.0" font-size="16.2" text-anchor="end" textLength="23.8" lengthAdjust="spacingAndGlyphs" fill="#111" stroke="#111">398</text>
<text x="698.8" y="196.4" font-size="16.2" text-anchor="end" textLength="23.8" lengthAdjust="spacingAndGlyphs" fill="#111" stroke="#111">323</text>
<text x="707.8" y="211.8" font-size="15.3" text-anchor="middle" textLength="20.8" lengthAdjust="spacingAndGlyphs" fill="#111" stroke="#111">0.2</text>
<text x="751.2" y="211.8" font-size="15.3" text-anchor="middle" textLength="20.8" lengthAdjust="spacingAndGlyphs" fill="#111" stroke="#111">0.4</text>
<text x="803.3" y="211.8" font-size="15.3" text-anchor="middle" textLength="20.8" lengthAdjust="spacingAndGlyphs" fill="#111" stroke="#111">0.6</text>
<text x="852.4" y="211.8" font-size="15.3" text-anchor="middle" textLength="20.8" lengthAdjust="spacingAndGlyphs" fill="#111" stroke="#111">0.8</text>
<text x="700.6" y="229.2" font-size="17.4" textLength="170.7" lengthAdjust="spacingAndGlyphs" fill="#111" stroke="#111">PCBM weight fraction</text>
<text x="671.5" y="230.4" font-size="17.7" textLength="208.8" lengthAdjust="spacingAndGlyphs" transform="rotate(-90 671.5 230.4)" fill="#111" stroke="#111">Annealing temperature (K)</text>
<text x="900.0" y="29.7" font-size="16.0" textLength="20.8" lengthAdjust="spacingAndGlyphs" fill="#111" stroke="#111">0.7</text>
<text x="899.9" y="113.0" font-size="16.0" textLength="29.0" lengthAdjust="spacingAndGlyphs" fill="#111" stroke="#111">0.35</text>
<text x="899.9" y="201.3" font-size="16.0" textLength="20.8" lengthAdjust="spacingAndGlyphs" fill="#111" stroke="#111">0.0</text>
<text x="710.6" y="48.0" font-size="22.5" textLength="14.8" lengthAdjust="spacingAndGlyphs" fill="#f3dcfb" stroke="#f3dcfb">C</text>
<text x="68.0" y="338.7" font-size="16.2" text-anchor="end" textLength="23.8" lengthAdjust="spacingAndGlyphs" fill="#111" stroke="#111">473</text>
<text x="67.7" y="411.2" font-size="16.2" text-anchor="end" textLength="23.8" lengthAdjust="spacingAndGlyphs" fill="#111" stroke="#111">398</text>
<text x="67.1" y="498.8" font-size="16.2" text-anchor="end" textLength="23.8" lengthAdjust="spacingAndGlyphs" fill="#111" stroke="#111">323</text>
<text x="75.9" y="513.3" font-size="15.3" text-anchor="middle" textLength="20.8" lengthAdjust="spacingAndGlyphs" fill="#111" stroke="#111">0.2</text>
<text x="120.1" y="513.3" font-size="15.3" text-anchor="middle" textLength="20.8" lengthAdjust="spacingAndGlyphs" fill="#111" stroke="#111">0.4</text>
<text x="170.5" y="513.3" font-size="15.3" text-anchor="middle" textLength="20.8" lengthAdjust="spacingAndGlyphs" fill="#111" stroke="#111">0.6</text>
<text x="222.0" y="513.3" font-size="15.3" text-anchor="middle" textLength="20.8" lengthAdjust="spacingAndGlyphs" fill="#111" stroke="#111">0.8</text>
<text x="68.8" y="530.6" font-size="17.3" textLength="169.7" lengthAdjust="spacingAndGlyphs" fill="#111" stroke="#111">PCBM weight fraction</text>
<text x="38.5" y="531.9" font-size="17.7" textLength="208.9" lengthAdjust="spacingAndGlyphs" transform="rotate(-90 38.5 531.9)" fill="#111" stroke="#111">Annealing temperature (K)</text>
<text x="270.0" y="351.7" font-size="16.0" textLength="20.8" lengthAdjust="spacingAndGlyphs" fill="#111" stroke="#111">1.2</text>
<text x="269.1" y="428.7" font-size="16.0" textLength="20.8" lengthAdjust="spacingAndGlyphs" fill="#111" stroke="#111">0.6</text>
<text x="269.4" y="503.3" font-size="16.0" textLength="20.8" lengthAdjust="spacingAndGlyphs" fill="#111" stroke="#111">0.0</text>
<text x="75.7" y="347.3" font-size="22.5" textLength="14.6" lengthAdjust="spacingAndGlyphs" fill="#fbeefb" stroke="#fbeefb">D</text>
<text x="377.7" y="331.6" font-size="16.2" text-anchor="end" textLength="23.8" lengthAdjust="spacingAndGlyphs" fill="#111" stroke="#111">473</text>
<text x="377.7" y="408.3" font-size="16.2" text-anchor="end" textLength="23.8" lengthAdjust="spacingAndGlyphs" fill="#111" stroke="#111">398</text>
<text x="375.7" y="498.0" font-size="16.2" text-anchor="end" textLength="23.8" lengthAdjust="spacingAndGlyphs" fill="#111" stroke="#111">323</text>
<text x="386.1" y="513.7" font-size="15.3" text-anchor="middle" textLength="20.8" lengthAdjust="spacingAndGlyphs" fill="#111" stroke="#111">0.2</text>
<text x="433.7" y="513.7" font-size="15.3" text-anchor="middle" textLength="20.8" lengthAdjust="spacingAndGlyphs" fill="#111" stroke="#111">0.4</text>
<text x="485.0" y="513.7" font-size="15.3" text-anchor="middle" textLength="20.8" lengthAdjust="spacingAndGlyphs" fill="#111" stroke="#111">0.6</text>
<text x="537.0" y="513.7" font-size="15.3" text-anchor="middle" textLength="20.8" lengthAdjust="spacingAndGlyphs" fill="#111" stroke="#111">0.8</text>
<text x="378.1" y="532.8" font-size="17.8" textLength="174.7" lengthAdjust="spacingAndGlyphs" fill="#111" stroke="#111">PCBM weight fraction</text>
<text x="346.5" y="533.3" font-size="18.3" textLength="215.8" lengthAdjust="spacingAndGlyphs" transform="rotate(-90 346.5 533.3)" fill="#111" stroke="#111">Annealing temperature (K)</text>
<text x="588.5" y="341.9" font-size="16.0" textLength="20.8" lengthAdjust="spacingAndGlyphs" fill="#111" stroke="#111">0.4</text>
<text x="588.5" y="423.0" font-size="16.0" textLength="20.8" lengthAdjust="spacingAndGlyphs" fill="#111" stroke="#111">0.2</text>
<text x="586.6" y="504.0" font-size="16.0" textLength="20.8" lengthAdjust="spacingAndGlyphs" fill="#111" stroke="#111">0.0</text>
<text x="387.5" y="342.2" font-size="20.5" textLength="11.8" lengthAdjust="spacingAndGlyphs" fill="#fbeefb" stroke="#fbeefb">E</text>
<text x="696.3" y="344.8" font-size="16.2" text-anchor="end" textLength="23.8" lengthAdjust="spacingAndGlyphs" fill="#111" stroke="#111">473</text>
<text x="696.2" y="423.4" font-size="16.2" text-anchor="end" textLength="23.8" lengthAdjust="spacingAndGlyphs" fill="#111" stroke="#111">398</text>
<text x="697.1" y="510.1" font-size="16.2" text-anchor="end" textLength="23.8" lengthAdjust="spacingAndGlyphs" fill="#111" stroke="#111">323</text>
<text x="708.7" y="528.6" font-size="15.3" text-anchor="middle" textLength="20.8" lengthAdjust="spacingAndGlyphs" fill="#111" stroke="#111">0.2</text>
<text x="754.6" y="528.6" font-size="15.3" text-anchor="middle" textLength="20.8" lengthAdjust="spacingAndGlyphs" fill="#111" stroke="#111">0.4</text>
<text x="810.2" y="528.6" font-size="15.3" text-anchor="middle" textLength="20.8" lengthAdjust="spacingAndGlyphs" fill="#111" stroke="#111">0.6</text>
<text x="873.5" y="528.6" font-size="15.3" text-anchor="middle" textLength="20.8" lengthAdjust="spacingAndGlyphs" fill="#111" stroke="#111">0.8</text>
<text x="700.0" y="544.0" font-size="18.2" textLength="178.2" lengthAdjust="spacingAndGlyphs" fill="#111" stroke="#111">PCBM weight fraction</text>
<text x="668.5" y="545.0" font-size="18.5" textLength="218.8" lengthAdjust="spacingAndGlyphs" transform="rotate(-90 668.5 545.0)" fill="#111" stroke="#111">Annealing temperature (K)</text>
<text x="914.1" y="359.8" font-size="16.0" textLength="20.8" lengthAdjust="spacingAndGlyphs" fill="#111" stroke="#111">0.4</text>
<text x="913.5" y="439.8" font-size="16.0" textLength="20.8" lengthAdjust="spacingAndGlyphs" fill="#111" stroke="#111">0.2</text>
<text x="913.0" y="518.7" font-size="16.0" textLength="20.8" lengthAdjust="spacingAndGlyphs" fill="#111" stroke="#111">0.0</text>
<text x="711.8" y="357.9" font-size="22.5" textLength="14.2" lengthAdjust="spacingAndGlyphs" fill="#fbeefb" stroke="#fbeefb">F</text>
</svg>
</body></html>
